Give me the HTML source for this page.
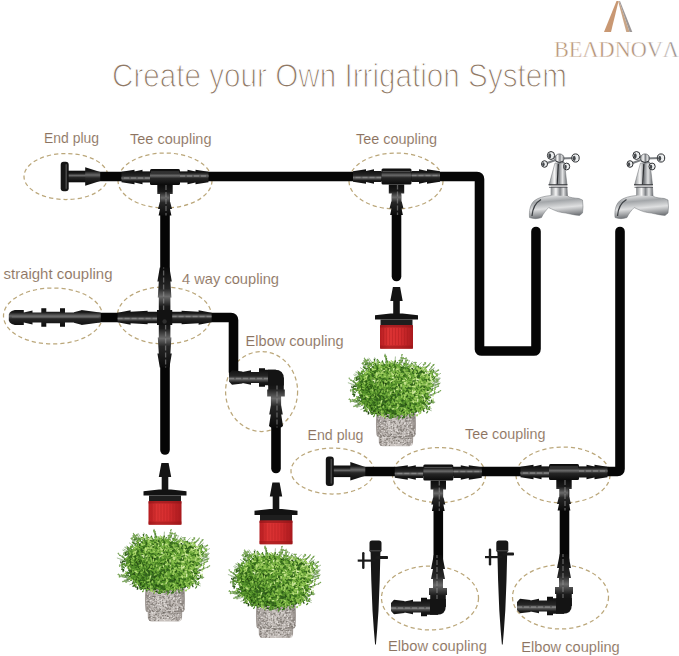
<!DOCTYPE html>
<html><head><meta charset="utf-8"><style>
html,body{margin:0;padding:0;background:#fff;}
svg{display:block;font-family:"Liberation Sans",sans-serif;}
</style></head><body>
<svg width="679" height="656" viewBox="0 0 679 656">

<defs>
 <linearGradient id="gTitle" x1="0" x2="1"><stop offset="0" stop-color="#9b8573"/><stop offset="1" stop-color="#9b8573"/></linearGradient>
 <linearGradient id="gLogo" x1="0" x2="1"><stop offset="0" stop-color="#b99574"/><stop offset="0.6" stop-color="#b18f76"/><stop offset="1" stop-color="#9a9494"/></linearGradient>
 <linearGradient id="gRed" x1="0" x2="1"><stop offset="0" stop-color="#b51c20"/><stop offset="0.25" stop-color="#dc3434"/><stop offset="0.6" stop-color="#d52d2f"/><stop offset="1" stop-color="#a8191d"/></linearGradient>
 <linearGradient id="gPot" x1="0" x2="1"><stop offset="0" stop-color="#9f9894"/><stop offset="0.3" stop-color="#c9c3bf"/><stop offset="0.7" stop-color="#c1bbb7"/><stop offset="1" stop-color="#99928e"/></linearGradient>
 <linearGradient id="gSilver" x1="0" y1="0" x2="0.15" y2="1"><stop offset="0" stop-color="#e9eaeb"/><stop offset="0.25" stop-color="#fafafa"/><stop offset="0.5" stop-color="#a3a6a9"/><stop offset="0.72" stop-color="#dfe0e1"/><stop offset="1" stop-color="#6f7276"/></linearGradient>
 <linearGradient id="gSilverV" x1="0" x2="1"><stop offset="0" stop-color="#8a8d90"/><stop offset="0.3" stop-color="#f7f7f7"/><stop offset="0.55" stop-color="#7f8286"/><stop offset="0.75" stop-color="#e2e3e4"/><stop offset="1" stop-color="#6a6d71"/></linearGradient>
 <linearGradient id="gCoupH" x1="0" y1="0" x2="0" y2="1"><stop offset="0" stop-color="#0c0c0c"/><stop offset="0.22" stop-color="#1a1a1a"/><stop offset="0.42" stop-color="#6a6a6a"/><stop offset="0.58" stop-color="#262626"/><stop offset="1" stop-color="#0a0a0a"/></linearGradient>
 <linearGradient id="gCoupV" x1="0" y1="0" x2="1" y2="0"><stop offset="0" stop-color="#0c0c0c"/><stop offset="0.22" stop-color="#1a1a1a"/><stop offset="0.42" stop-color="#6a6a6a"/><stop offset="0.58" stop-color="#262626"/><stop offset="1" stop-color="#0a0a0a"/></linearGradient>
</defs>
<rect width="679" height="656" fill="#ffffff"/>
<polygon points="604,32 616.5,1 618.6,1 611,32" fill="#c99873"/>
<polygon points="618.2,1.5 619.2,1 629.6,32 626.3,32" fill="#c9a586"/>
<polygon points="619.2,1 620,1 632.3,32 629.6,32" fill="#9c9797"/>
<text x="554" y="57" font-family="Liberation Serif" font-size="23.5" fill="url(#gLogo)" stroke="#fff" stroke-width="0.45" textLength="125" lengthAdjust="spacingAndGlyphs">BE&#923;DNOV&#923;</text>
<text x="112" y="86.6" font-family="Liberation Sans" font-size="33" fill="#8f7966" stroke="#fff" stroke-width="1.15" textLength="455" lengthAdjust="spacingAndGlyphs">Create your Own Irrigation System</text>
<text x="44" y="142.5" font-family="Liberation Sans" font-size="14.2" fill="#8c7360" stroke="#fff" stroke-width="0.1" textLength="55" lengthAdjust="spacingAndGlyphs">End plug</text>
<text x="130" y="143.5" font-family="Liberation Sans" font-size="14.2" fill="#8c7360" stroke="#fff" stroke-width="0.1" textLength="81.5" lengthAdjust="spacingAndGlyphs">Tee coupling</text>
<text x="356" y="143.5" font-family="Liberation Sans" font-size="14.2" fill="#8c7360" stroke="#fff" stroke-width="0.1" textLength="81" lengthAdjust="spacingAndGlyphs">Tee coupling</text>
<text x="3.5" y="278.5" font-family="Liberation Sans" font-size="14.2" fill="#8c7360" stroke="#fff" stroke-width="0.1" textLength="109" lengthAdjust="spacingAndGlyphs">straight coupling</text>
<text x="182" y="283.8" font-family="Liberation Sans" font-size="14.2" fill="#8c7360" stroke="#fff" stroke-width="0.1" textLength="97" lengthAdjust="spacingAndGlyphs">4 way coupling</text>
<text x="245.6" y="346.3" font-family="Liberation Sans" font-size="14.2" fill="#8c7360" stroke="#fff" stroke-width="0.1" textLength="98" lengthAdjust="spacingAndGlyphs">Elbow coupling</text>
<text x="307.5" y="440" font-family="Liberation Sans" font-size="14.2" fill="#8c7360" stroke="#fff" stroke-width="0.1" textLength="56" lengthAdjust="spacingAndGlyphs">End plug</text>
<text x="465" y="438.6" font-family="Liberation Sans" font-size="14.2" fill="#8c7360" stroke="#fff" stroke-width="0.1" textLength="80.5" lengthAdjust="spacingAndGlyphs">Tee coupling</text>
<text x="388" y="650.8" font-family="Liberation Sans" font-size="14.2" fill="#8c7360" stroke="#fff" stroke-width="0.1" textLength="98.8" lengthAdjust="spacingAndGlyphs">Elbow coupling</text>
<text x="521.3" y="651.5" font-family="Liberation Sans" font-size="14.2" fill="#8c7360" stroke="#fff" stroke-width="0.1" textLength="98.4" lengthAdjust="spacingAndGlyphs">Elbow coupling</text>
<ellipse cx="66" cy="176.5" rx="42" ry="23" fill="none" stroke="#bba77a" stroke-width="1.25" stroke-dasharray="4.2 3"/>
<ellipse cx="165" cy="180.5" rx="47" ry="27.5" fill="none" stroke="#bba77a" stroke-width="1.25" stroke-dasharray="4.2 3"/>
<ellipse cx="396" cy="181" rx="47" ry="28" fill="none" stroke="#bba77a" stroke-width="1.25" stroke-dasharray="4.2 3"/>
<ellipse cx="53" cy="316" rx="49.5" ry="28" fill="none" stroke="#bba77a" stroke-width="1.25" stroke-dasharray="4.2 3"/>
<ellipse cx="164.4" cy="315.5" rx="47" ry="28.5" fill="none" stroke="#bba77a" stroke-width="1.25" stroke-dasharray="4.2 3"/>
<ellipse cx="261.6" cy="391.5" rx="36" ry="40" fill="none" stroke="#bba77a" stroke-width="1.25" stroke-dasharray="4.2 3"/>
<ellipse cx="332.5" cy="471" rx="41.5" ry="23" fill="none" stroke="#bba77a" stroke-width="1.25" stroke-dasharray="4.2 3"/>
<ellipse cx="439" cy="475" rx="46.5" ry="27.5" fill="none" stroke="#bba77a" stroke-width="1.25" stroke-dasharray="4.2 3"/>
<ellipse cx="563" cy="475" rx="47" ry="28" fill="none" stroke="#bba77a" stroke-width="1.25" stroke-dasharray="4.2 3"/>
<ellipse cx="430" cy="598" rx="48.5" ry="32" fill="none" stroke="#bba77a" stroke-width="1.25" stroke-dasharray="4.2 3"/>
<ellipse cx="560.5" cy="597" rx="48" ry="32" fill="none" stroke="#bba77a" stroke-width="1.25" stroke-dasharray="4.2 3"/>
<path d="M95,176.5 L477,176.5 Q479.5,176.5 479.5,179 L479.5,349.5 Q479.5,351 481.5,351 L534,351 Q536,351 536,349 L536,231.5" fill="none" stroke="#060606" stroke-width="9.6" stroke-linecap="round" stroke-linejoin="miter"/>
<path d="M165,195 L165,450" fill="none" stroke="#060606" stroke-width="9.6" stroke-linecap="round" stroke-linejoin="miter"/>
<path d="M98,317.5 L231,317.5 Q233.5,317.5 233.5,320 L233.5,372" fill="none" stroke="#060606" stroke-width="9.6" stroke-linecap="round" stroke-linejoin="miter"/>
<path d="M276,425 L276,468.5" fill="none" stroke="#060606" stroke-width="9.6" stroke-linecap="round" stroke-linejoin="miter"/>
<path d="M396.5,195 L396.5,276.5" fill="none" stroke="#060606" stroke-width="9.6" stroke-linecap="round" stroke-linejoin="miter"/>
<path d="M360,471.5 L617.5,471.5 Q620,471.5 620,469 L620,231.5" fill="none" stroke="#060606" stroke-width="9.6" stroke-linecap="round" stroke-linejoin="miter"/>
<path d="M438.3,490 L438.3,560" fill="none" stroke="#060606" stroke-width="9.6" stroke-linecap="round" stroke-linejoin="miter"/>
<path d="M564.5,490 L564.5,560" fill="none" stroke="#060606" stroke-width="9.6" stroke-linecap="round" stroke-linejoin="miter"/>
<g transform="translate(61.2,176.5) scale(1.0)">
<rect x="6" y="-5.8" width="19" height="11.6" fill="url(#gCoupH)"/>
<polygon points="24,-9.2 39,-4.4 39,4.4 24,9.2" fill="url(#gCoupH)"/>
<rect x="-0.5" y="-14.8" width="8" height="29.6" rx="3" fill="#141414"/>
<rect x="4.2" y="-12.5" width="1.6" height="25" rx="0.8" fill="#5a5a5a" opacity="0.7"/>
</g>
<g transform="translate(165,177) scale(1.0)">
<g transform="translate(-15,0) rotate(180)"><polygon points="0.00,-5.60 7.50,-5.60 7.50,-7.20 15.50,-5.40 15.50,-7.20 28.50,-5.20 28.50,5.20 15.50,7.20 15.50,5.40 7.50,7.20 7.50,5.60 0.00,5.60" fill="url(#gCoupH)"/><line x1="0" y1="-1" x2="28.5" y2="-1" stroke="#9a9a9a" stroke-width="1.3" stroke-dasharray="5 2" opacity="0.55"/></g>
<g transform="translate(15,0) rotate(0)"><polygon points="0.00,-5.60 7.50,-5.60 7.50,-7.20 15.50,-5.40 15.50,-7.20 28.50,-5.20 28.50,5.20 15.50,7.20 15.50,5.40 7.50,7.20 7.50,5.60 0.00,5.60" fill="url(#gCoupH)"/><line x1="0" y1="-1" x2="28.5" y2="-1" stroke="#9a9a9a" stroke-width="1.3" stroke-dasharray="5 2" opacity="0.55"/></g>
<g transform="translate(0,8) rotate(90)"><polygon points="0.00,-7.70 9.00,-7.70 9.00,-4.60 17.00,-4.60 17.00,-5.20 24.00,-7.00 24.00,-5.00 30.50,-6.40 30.50,-4.50 30.50,4.50 30.50,6.40 24.00,5.00 24.00,7.00 17.00,5.20 17.00,4.60 9.00,4.60 9.00,7.70 0.00,7.70" fill="url(#gCoupV)"/><line x1="0" y1="-1" x2="30.5" y2="-1" stroke="#9a9a9a" stroke-width="1.3" stroke-dasharray="5 2" opacity="0.55"/></g>
<rect x="-15" y="-8" width="30" height="16" rx="1.5" fill="url(#gCoupH)"/>
<line x1="-14" y1="-5" x2="14" y2="-5" stroke="#777" stroke-width="0.9" opacity="0.6"/>
</g>
<g transform="translate(396.5,176.5) scale(1.0)">
<g transform="translate(-15,0) rotate(180)"><polygon points="0.00,-5.60 7.50,-5.60 7.50,-7.20 15.50,-5.40 15.50,-7.20 28.50,-5.20 28.50,5.20 15.50,7.20 15.50,5.40 7.50,7.20 7.50,5.60 0.00,5.60" fill="url(#gCoupH)"/><line x1="0" y1="-1" x2="28.5" y2="-1" stroke="#9a9a9a" stroke-width="1.3" stroke-dasharray="5 2" opacity="0.55"/></g>
<g transform="translate(15,0) rotate(0)"><polygon points="0.00,-5.60 7.50,-5.60 7.50,-7.20 15.50,-5.40 15.50,-7.20 28.50,-5.20 28.50,5.20 15.50,7.20 15.50,5.40 7.50,7.20 7.50,5.60 0.00,5.60" fill="url(#gCoupH)"/><line x1="0" y1="-1" x2="28.5" y2="-1" stroke="#9a9a9a" stroke-width="1.3" stroke-dasharray="5 2" opacity="0.55"/></g>
<g transform="translate(0,8) rotate(90)"><polygon points="0.00,-7.70 9.00,-7.70 9.00,-4.60 17.00,-4.60 17.00,-5.20 24.00,-7.00 24.00,-5.00 30.50,-6.40 30.50,-4.50 30.50,4.50 30.50,6.40 24.00,5.00 24.00,7.00 17.00,5.20 17.00,4.60 9.00,4.60 9.00,7.70 0.00,7.70" fill="url(#gCoupV)"/><line x1="0" y1="-1" x2="30.5" y2="-1" stroke="#9a9a9a" stroke-width="1.3" stroke-dasharray="5 2" opacity="0.55"/></g>
<rect x="-15" y="-8" width="30" height="16" rx="1.5" fill="url(#gCoupH)"/>
<line x1="-14" y1="-5" x2="14" y2="-5" stroke="#777" stroke-width="0.9" opacity="0.6"/>
</g>
<g transform="translate(8.8,317.5)"><polygon points="0.00,-3.00 1.00,-5.00 3.00,-6.50 6.00,-7.50 15.00,-7.50 15.00,-5.00 23.70,-7.00 23.70,-5.00 32.50,-5.00 32.50,-9.20 37.50,-9.20 37.50,-5.80 51.20,-5.80 51.20,-9.20 56.20,-9.20 56.20,-5.00 65.10,-5.00 65.10,-5.20 72.60,-7.20 72.60,-7.60 91.20,-5.00 92.00,-4.80 92.00,4.80 91.20,5.00 72.60,7.60 72.60,7.20 65.10,5.20 65.10,5.00 56.20,5.00 56.20,9.20 51.20,9.20 51.20,5.80 37.50,5.80 37.50,9.20 32.50,9.20 32.50,5.00 23.70,5.00 23.70,7.00 15.00,5.00 15.00,7.50 6.00,7.50 3.00,6.50 1.00,5.00 0.00,3.00" fill="url(#gCoupH)"/><line x1="3" y1="-0.5" x2="90" y2="-0.5" stroke="#888" stroke-width="1.2" opacity="0.5"/></g>
<g transform="translate(164.6,317.5)">
<g transform="translate(0,0) rotate(0)"><polygon points="0.00,-7.50 7.50,-7.50 7.50,-5.80 17.00,-5.80 17.00,-6.80 34.00,-5.80 34.00,-7.20 47.00,-4.80 47.00,4.80 34.00,7.20 34.00,5.80 17.00,6.80 17.00,5.80 7.50,5.80 7.50,7.50 0.00,7.50" fill="url(#gCoupH)"/><line x1="0" y1="-1" x2="47" y2="-1" stroke="#9a9a9a" stroke-width="1.3" stroke-dasharray="5 2" opacity="0.55"/></g>
<g transform="translate(0,0) rotate(180)"><polygon points="0.00,-7.50 7.50,-7.50 7.50,-5.80 17.00,-5.80 17.00,-6.80 34.00,-5.80 34.00,-7.20 47.00,-4.80 47.00,4.80 34.00,7.20 34.00,5.80 17.00,6.80 17.00,5.80 7.50,5.80 7.50,7.50 0.00,7.50" fill="url(#gCoupH)"/><line x1="0" y1="-1" x2="47" y2="-1" stroke="#9a9a9a" stroke-width="1.3" stroke-dasharray="5 2" opacity="0.55"/></g>
<g transform="translate(0,0) rotate(90)"><polygon points="0.00,-7.50 7.50,-7.50 7.50,-5.80 20.00,-5.80 20.00,-6.80 36.00,-5.80 36.00,-7.20 50.00,-4.80 50.00,4.80 36.00,7.20 36.00,5.80 20.00,6.80 20.00,5.80 7.50,5.80 7.50,7.50 0.00,7.50" fill="url(#gCoupV)"/><line x1="0" y1="-1" x2="50" y2="-1" stroke="#9a9a9a" stroke-width="1.3" stroke-dasharray="5 2" opacity="0.55"/></g>
<g transform="translate(0,0) rotate(270)"><polygon points="0.00,-7.50 7.50,-7.50 7.50,-5.80 20.00,-5.80 20.00,-6.80 36.00,-5.80 36.00,-7.20 50.00,-4.80 50.00,4.80 36.00,7.20 36.00,5.80 20.00,6.80 20.00,5.80 7.50,5.80 7.50,7.50 0.00,7.50" fill="url(#gCoupV)"/><line x1="0" y1="-1" x2="50" y2="-1" stroke="#9a9a9a" stroke-width="1.3" stroke-dasharray="5 2" opacity="0.55"/></g>
<rect x="-7.5" y="-7.5" width="15" height="15" rx="1" fill="#121212"/>
<circle cx="0" cy="4" r="2.2" fill="#2e2e2e"/>
</g>
<g transform="translate(276,377.5)">
<g transform="translate(0,0) rotate(180)"><polygon points="0.00,-7.80 11.00,-7.80 11.00,-9.20 17.00,-9.20 17.00,-5.60 25.00,-5.60 25.00,-7.20 33.50,-5.60 33.50,-6.00 44.00,-7.20 47.00,-4.00 47.00,4.00 44.00,7.20 33.50,6.00 33.50,5.60 25.00,7.20 25.00,5.60 17.00,5.60 17.00,9.20 11.00,9.20 11.00,7.80 0.00,7.80" fill="url(#gCoupH)"/><line x1="0" y1="-1" x2="47" y2="-1" stroke="#9a9a9a" stroke-width="1.3" stroke-dasharray="5 2" opacity="0.55"/></g>
<g transform="translate(0,0) rotate(90)"><polygon points="0.00,-7.80 12.00,-7.80 12.00,-8.80 19.00,-8.80 19.00,-5.10 27.50,-5.10 37.00,-6.80 37.00,-5.20 48.50,-7.00 50.00,-5.00 50.00,5.00 48.50,7.00 37.00,5.20 37.00,6.80 27.50,5.10 19.00,5.10 19.00,8.80 12.00,8.80 12.00,7.80 0.00,7.80" fill="url(#gCoupV)"/><line x1="0" y1="-1" x2="50" y2="-1" stroke="#9a9a9a" stroke-width="1.3" stroke-dasharray="5 2" opacity="0.55"/></g>
<path d="M-8,-7.8 L-1,-7.8 Q7.8,-7.8 7.8,1 L7.8,8 L-8,8 Z" fill="#141414"/>
</g>
<g transform="translate(438,607)">
<g transform="translate(0,0) rotate(180)"><polygon points="0.00,-7.80 11.00,-7.80 11.00,-9.20 17.00,-9.20 17.00,-5.60 25.00,-5.60 25.00,-7.20 33.50,-5.60 33.50,-6.00 44.00,-7.20 47.00,-4.00 47.00,4.00 44.00,7.20 33.50,6.00 33.50,5.60 25.00,7.20 25.00,5.60 17.00,5.60 17.00,9.20 11.00,9.20 11.00,7.80 0.00,7.80" fill="url(#gCoupH)"/><line x1="0" y1="-1" x2="47" y2="-1" stroke="#9a9a9a" stroke-width="1.3" stroke-dasharray="5 2" opacity="0.55"/></g>
<g transform="translate(0,0) rotate(-90)"><polygon points="0.00,-7.80 12.00,-7.80 12.00,-9.00 19.00,-9.00 19.00,-5.00 28.00,-5.00 28.00,-7.00 38.00,-5.00 38.00,-7.00 52.00,-4.20 52.00,4.20 38.00,7.00 38.00,5.00 28.00,7.00 28.00,5.00 19.00,5.00 19.00,9.00 12.00,9.00 12.00,7.80 0.00,7.80" fill="url(#gCoupV)"/><line x1="0" y1="-1" x2="52" y2="-1" stroke="#9a9a9a" stroke-width="1.3" stroke-dasharray="5 2" opacity="0.55"/></g>
<path d="M-8,7.8 L-1,7.8 Q7.8,7.8 7.8,-1 L7.8,-8 L-8,-8 Z" fill="#141414"/>
</g>
<g transform="translate(564,606)">
<g transform="translate(0,0) rotate(180)"><polygon points="0.00,-7.80 11.00,-7.80 11.00,-9.20 17.00,-9.20 17.00,-5.60 25.00,-5.60 25.00,-7.20 33.50,-5.60 33.50,-6.00 44.00,-7.20 47.00,-4.00 47.00,4.00 44.00,7.20 33.50,6.00 33.50,5.60 25.00,7.20 25.00,5.60 17.00,5.60 17.00,9.20 11.00,9.20 11.00,7.80 0.00,7.80" fill="url(#gCoupH)"/><line x1="0" y1="-1" x2="47" y2="-1" stroke="#9a9a9a" stroke-width="1.3" stroke-dasharray="5 2" opacity="0.55"/></g>
<g transform="translate(0,0) rotate(-90)"><polygon points="0.00,-7.80 12.00,-7.80 12.00,-9.00 19.00,-9.00 19.00,-5.00 28.00,-5.00 28.00,-7.00 38.00,-5.00 38.00,-7.00 52.00,-4.20 52.00,4.20 38.00,7.00 38.00,5.00 28.00,7.00 28.00,5.00 19.00,5.00 19.00,9.00 12.00,9.00 12.00,7.80 0.00,7.80" fill="url(#gCoupV)"/><line x1="0" y1="-1" x2="52" y2="-1" stroke="#9a9a9a" stroke-width="1.3" stroke-dasharray="5 2" opacity="0.55"/></g>
<path d="M-8,7.8 L-1,7.8 Q7.8,7.8 7.8,-1 L7.8,-8 L-8,-8 Z" fill="#141414"/>
</g>
<g transform="translate(0,0)">
<line x1="559.5" y1="158.5" x2="551" y2="155.5" stroke="#7d8084" stroke-width="2.2"/>
<line x1="559.5" y1="158.5" x2="575.5" y2="158" stroke="#7d8084" stroke-width="2.2"/>
<line x1="559.5" y1="158.5" x2="544.5" y2="164" stroke="#7d8084" stroke-width="2.2"/>
<line x1="559.5" y1="158.5" x2="566.6" y2="166.5" stroke="#7d8084" stroke-width="2.2"/>
<path d="M555,163 L564.5,163 L567,185 L549,185 Z" fill="url(#gSilverV)" stroke="#6b6e72" stroke-width="0.5"/>
<path d="M551,187 L567,187 L567.5,196 C570,198 575,198 579,198.5 L582.5,200 L583,207 L582.5,213 L579.5,215.5 C573,215 567,213 562,212.5 C557,212 552,209 548.7,207.6 C546,210 543,214 541.5,217.5 C538,219 533,219 529.5,217.5 C529,211 530,205 534,201 C538,197.5 545,196 551,195.5 Z" fill="url(#gSilver)" stroke="#6b6e72" stroke-width="0.5"/>
<path d="M551,187 L567,187 L567.5,196 L551,195.5 Z" fill="url(#gSilverV)"/>
<path d="M532,216 C532.5,209 535,203 541,199.5" fill="none" stroke="#3d4044" stroke-width="1.3"/>
<path d="M548.5,184.8 L567.5,184.8" stroke="#2f3134" stroke-width="1"/>
<path d="M549,187.3 L567.5,187.3" stroke="#45484c" stroke-width="0.8"/>
<line x1="558.3" y1="164" x2="557.2" y2="184.5" stroke="#2c2e31" stroke-width="1.2"/>
<ellipse cx="559.5" cy="158.3" rx="4.6" ry="4.4" fill="url(#gSilverV)" stroke="#55585c" stroke-width="0.7"/>
<path d="M555.5,161 Q559.5,164 563.5,161" stroke="#3a3c40" stroke-width="1" fill="none"/>
<ellipse cx="551" cy="155.5" rx="3.6" ry="3.9600000000000004" fill="#eceeef" stroke="#2e3033" stroke-width="1"/>
<ellipse cx="549.74" cy="155.86" rx="1.4400000000000002" ry="2.52" fill="#45484c"/>
<ellipse cx="575.5" cy="158" rx="3.7" ry="4.07" fill="#eceeef" stroke="#2e3033" stroke-width="1"/>
<ellipse cx="574.205" cy="158.37" rx="1.4800000000000002" ry="2.59" fill="#45484c"/>
<ellipse cx="544.5" cy="164" rx="3" ry="3.3000000000000003" fill="#eceeef" stroke="#2e3033" stroke-width="1"/>
<ellipse cx="543.45" cy="164.3" rx="1.2000000000000002" ry="2.0999999999999996" fill="#45484c"/>
<ellipse cx="566.6" cy="166.5" rx="3.1" ry="3.4100000000000006" fill="#eceeef" stroke="#2e3033" stroke-width="1"/>
<ellipse cx="565.515" cy="166.81" rx="1.2400000000000002" ry="2.17" fill="#45484c"/>
</g>
<g transform="translate(85.5,0)">
<line x1="559.5" y1="158.5" x2="551" y2="155.5" stroke="#7d8084" stroke-width="2.2"/>
<line x1="559.5" y1="158.5" x2="575.5" y2="158" stroke="#7d8084" stroke-width="2.2"/>
<line x1="559.5" y1="158.5" x2="544.5" y2="164" stroke="#7d8084" stroke-width="2.2"/>
<line x1="559.5" y1="158.5" x2="566.6" y2="166.5" stroke="#7d8084" stroke-width="2.2"/>
<path d="M555,163 L564.5,163 L567,185 L549,185 Z" fill="url(#gSilverV)" stroke="#6b6e72" stroke-width="0.5"/>
<path d="M551,187 L567,187 L567.5,196 C570,198 575,198 579,198.5 L582.5,200 L583,207 L582.5,213 L579.5,215.5 C573,215 567,213 562,212.5 C557,212 552,209 548.7,207.6 C546,210 543,214 541.5,217.5 C538,219 533,219 529.5,217.5 C529,211 530,205 534,201 C538,197.5 545,196 551,195.5 Z" fill="url(#gSilver)" stroke="#6b6e72" stroke-width="0.5"/>
<path d="M551,187 L567,187 L567.5,196 L551,195.5 Z" fill="url(#gSilverV)"/>
<path d="M532,216 C532.5,209 535,203 541,199.5" fill="none" stroke="#3d4044" stroke-width="1.3"/>
<path d="M548.5,184.8 L567.5,184.8" stroke="#2f3134" stroke-width="1"/>
<path d="M549,187.3 L567.5,187.3" stroke="#45484c" stroke-width="0.8"/>
<line x1="558.3" y1="164" x2="557.2" y2="184.5" stroke="#2c2e31" stroke-width="1.2"/>
<ellipse cx="559.5" cy="158.3" rx="4.6" ry="4.4" fill="url(#gSilverV)" stroke="#55585c" stroke-width="0.7"/>
<path d="M555.5,161 Q559.5,164 563.5,161" stroke="#3a3c40" stroke-width="1" fill="none"/>
<ellipse cx="551" cy="155.5" rx="3.6" ry="3.9600000000000004" fill="#eceeef" stroke="#2e3033" stroke-width="1"/>
<ellipse cx="549.74" cy="155.86" rx="1.4400000000000002" ry="2.52" fill="#45484c"/>
<ellipse cx="575.5" cy="158" rx="3.7" ry="4.07" fill="#eceeef" stroke="#2e3033" stroke-width="1"/>
<ellipse cx="574.205" cy="158.37" rx="1.4800000000000002" ry="2.59" fill="#45484c"/>
<ellipse cx="544.5" cy="164" rx="3" ry="3.3000000000000003" fill="#eceeef" stroke="#2e3033" stroke-width="1"/>
<ellipse cx="543.45" cy="164.3" rx="1.2000000000000002" ry="2.0999999999999996" fill="#45484c"/>
<ellipse cx="566.6" cy="166.5" rx="3.1" ry="3.4100000000000006" fill="#eceeef" stroke="#2e3033" stroke-width="1"/>
<ellipse cx="565.515" cy="166.81" rx="1.2400000000000002" ry="2.17" fill="#45484c"/>
</g>
<g transform="translate(120.7,532.4)">
<path d="M24.8,55 C24.1,63 24.1,71 24.8,77.8 Q25.3,79.3 27,79.6 L27.2,85.8 Q27.8,88.9 31.2,89 L57.3,89 Q60.7,88.9 61.3,85.8 L61.5,79.6 Q63.2,79.3 63.7,77.8 C64.4,71 64.4,63 63.7,55 Z" fill="url(#gPot)"/>
<path d="M25.5,78.6 Q44,80.6 63,78.6" stroke="#8a837e" stroke-width="1" fill="none"/>
<path d="M42.5,74.0h.45M60.2,71.0h.45M44.5,74.9h.45M32.4,72.5h.45M49.1,81.5h.45M29.0,65.8h.45M28.9,82.1h.45M51.5,57.3h.45M50.0,75.8h.45M31.4,56.5h.45M45.3,57.9h.45M32.6,63.8h.45M26.6,70.9h.45M42.0,83.1h.45M45.0,76.6h.45M44.2,77.3h.45M42.6,65.0h.45M57.0,78.8h.45M37.3,63.4h.45M36.3,58.3h.45M54.2,68.9h.45M57.2,68.4h.45M25.5,62.8h.45M59.6,71.1h.45M62.3,68.8h.45M28.2,76.3h.45M54.7,64.7h.45M28.8,66.7h.45M29.9,63.9h.45M29.3,57.9h.45M55.4,61.7h.45M46.5,70.4h.45M32.7,79.6h.45M30.4,76.7h.45M29.9,69.5h.45M33.5,64.7h.45M36.9,84.5h.45M33.4,68.7h.45M57.5,76.7h.45M29.3,87.9h.45M33.5,64.3h.45M54.5,66.6h.45M36.6,58.4h.45M28.9,74.8h.45M34.6,75.4h.45M39.4,70.6h.45M61.5,71.6h.45M47.0,83.9h.45M32.4,61.0h.45M59.6,82.3h.45M34.9,62.1h.45M53.2,86.3h.45M32.9,86.6h.45M58.6,75.4h.45M41.3,59.3h.45M34.4,78.7h.45M35.1,82.5h.45M47.9,65.4h.45M32.1,79.2h.45M28.1,63.4h.45M46.5,83.4h.45M48.5,65.0h.45M59.9,62.6h.45M26.1,64.7h.45M42.2,57.9h.45M32.1,67.9h.45M47.0,60.2h.45M39.1,84.7h.45M62.3,77.2h.45M51.4,74.8h.45M30.8,57.1h.45M51.8,87.0h.45M26.3,76.5h.45M43.6,79.5h.45M37.5,88.2h.45M28.3,73.6h.45M53.1,85.0h.45M53.1,78.7h.45M55.2,85.5h.45M38.7,78.1h.45M59.3,84.0h.45M41.1,81.5h.45M57.9,74.4h.45M48.9,68.3h.45M47.4,75.6h.45M28.5,76.6h.45M52.8,68.5h.45M53.1,74.7h.45M42.0,83.0h.45M28.6,80.2h.45M26.6,75.4h.45M43.5,63.4h.45M51.7,72.0h.45M48.5,85.6h.45M35.1,56.4h.45M36.8,77.8h.45M33.1,61.5h.45M59.5,77.3h.45M42.1,84.7h.45M37.8,77.4h.45M32.9,69.9h.45M55.7,85.4h.45M58.5,68.4h.45M47.4,66.2h.45M30.6,72.0h.45M56.9,83.3h.45M52.2,86.6h.45M35.9,61.4h.45M42.4,64.9h.45M33.5,69.3h.45M49.0,71.9h.45M37.3,83.0h.45M62.3,70.6h.45M28.3,57.0h.45M58.2,57.3h.45M52.1,74.4h.45M37.1,81.5h.45M26.2,60.4h.45M42.6,56.8h.45M56.6,63.6h.45M30.8,57.5h.45M49.1,70.4h.45M49.1,77.1h.45M55.8,86.9h.45M51.2,62.4h.45M43.3,61.8h.45M25.9,71.2h.45M52.3,61.8h.45M35.7,67.1h.45M51.6,72.8h.45M48.5,80.3h.45M40.3,81.5h.45M59.5,58.8h.45M60.5,79.3h.45M30.4,70.6h.45M49.0,85.3h.45M39.6,74.3h.45M58.5,81.7h.45M60.9,70.9h.45M49.9,62.6h.45M52.6,82.4h.45M49.6,79.1h.45M33.5,85.0h.45M45.6,81.5h.45M37.5,85.3h.45M57.6,67.2h.45M28.6,70.2h.45M46.1,80.7h.45M43.8,56.9h.45M55.8,58.1h.45M55.5,61.6h.45M38.1,81.4h.45M30.8,60.8h.45M44.9,79.3h.45M57.0,78.2h.45M61.0,71.9h.45M61.1,58.8h.45M33.8,73.0h.45M36.4,79.5h.45M49.5,72.8h.45M57.1,74.0h.45M37.2,68.3h.45M57.2,85.0h.45M33.3,83.4h.45M61.8,72.9h.45M47.0,62.5h.45M45.6,72.2h.45M48.2,56.9h.45M61.9,72.6h.45M40.5,81.8h.45M46.6,71.8h.45M51.4,58.1h.45M45.7,69.3h.45M35.6,71.2h.45M30.3,70.0h.45M56.1,85.0h.45M43.4,66.2h.45M32.7,75.9h.45M60.2,60.2h.45M54.7,56.7h.45M32.8,63.3h.45M51.3,66.4h.45M38.8,76.0h.45M29.4,79.5h.45M30.1,72.4h.45M34.9,62.4h.45M45.4,70.1h.45M39.6,69.3h.45M45.4,61.1h.45M33.2,76.3h.45M49.4,73.1h.45M57.4,75.7h.45M57.6,63.5h.45M53.3,82.1h.45M59.4,66.2h.45M37.3,85.7h.45M33.7,88.1h.45M58.8,60.3h.45M34.5,79.4h.45M35.2,59.1h.45M56.7,69.6h.45M55.1,60.1h.45M40.6,78.1h.45M26.2,62.5h.45M51.1,85.3h.45M61.8,59.7h.45M44.5,80.4h.45M44.4,78.1h.45M32.6,58.3h.45M29.5,57.2h.45M46.2,72.6h.45M46.8,60.7h.45M32.4,62.6h.45M57.0,87.9h.45M60.3,59.1h.45M42.8,80.6h.45M37.8,71.0h.45M44.8,69.8h.45M48.0,56.4h.45M51.8,83.2h.45M32.3,70.6h.45M53.2,69.1h.45M32.8,61.3h.45M44.7,56.5h.45M59.0,81.8h.45M51.9,83.7h.45M49.1,69.0h.45M48.0,72.2h.45M35.2,85.3h.45M53.4,81.1h.45M56.0,69.1h.45M59.1,84.3h.45M51.6,80.7h.45M54.2,69.1h.45M52.6,58.3h.45M38.3,71.1h.45M25.9,67.5h.45M49.5,76.1h.45M34.2,86.4h.45M50.5,66.9h.45M50.2,74.3h.45M45.5,68.5h.45M63.0,76.7h.45M51.8,80.5h.45M62.3,56.7h.45M48.6,79.8h.45M35.1,68.9h.45M27.4,62.3h.45M39.6,59.2h.45M34.9,85.2h.45M46.1,72.4h.45M61.8,74.3h.45M62.8,76.5h.45M55.9,58.5h.45M47.9,80.4h.45M31.5,71.2h.45M31.8,72.0h.45M48.4,57.9h.45M60.9,69.5h.45M45.3,75.3h.45M39.2,65.2h.45M50.1,74.1h.45M36.1,79.1h.45M36.6,56.5h.45M34.7,57.4h.45M31.4,80.3h.45M40.1,84.9h.45M53.6,57.6h.45M28.3,85.2h.45M41.6,71.4h.45M62.0,63.8h.45M45.1,86.2h.45M52.6,71.1h.45M48.1,59.7h.45M48.9,70.7h.45M33.1,57.7h.45M45.3,60.0h.45M42.1,77.5h.45M42.6,64.4h.45M47.3,69.5h.45M54.7,73.1h.45M53.0,63.7h.45M29.8,84.7h.45M54.9,76.1h.45M39.0,64.7h.45M51.2,74.2h.45M47.7,76.4h.45M53.8,62.1h.45M34.8,87.5h.45M59.8,84.3h.45M27.0,58.0h.45M35.7,69.7h.45M48.9,59.3h.45M45.8,58.3h.45M28.7,77.8h.45M46.1,76.3h.45M39.5,71.4h.45M33.4,67.1h.45M53.4,83.0h.45M28.3,59.9h.45M55.8,76.1h.45M54.3,62.9h.45M41.4,64.3h.45M55.9,67.9h.45M50.0,87.9h.45M37.7,73.7h.45M53.5,85.7h.45M41.5,67.9h.45M29.1,84.2h.45M28.4,58.7h.45M46.7,71.6h.45M51.2,65.6h.45M54.6,58.4h.45M33.5,77.3h.45" stroke="#857e79" stroke-width="0.95" stroke-linecap="round" fill="none"/>
<path d="M28.6,65.8h.45M52.7,78.3h.45M36.1,60.6h.45M38.9,79.4h.45M39.2,59.8h.45M52.1,74.3h.45M59.9,86.3h.45M59.8,70.1h.45M55.6,65.8h.45M37.4,68.9h.45M34.8,67.6h.45M39.2,67.7h.45M40.3,68.5h.45M32.8,74.2h.45M55.4,73.4h.45M56.9,74.1h.45M32.1,80.4h.45M58.5,65.1h.45M26.3,72.6h.45M45.9,74.3h.45M61.7,77.0h.45M55.7,58.1h.45M46.0,81.4h.45M28.7,58.6h.45M53.1,85.0h.45M28.7,76.4h.45M30.9,80.0h.45M49.8,63.9h.45M33.8,80.6h.45M45.1,80.6h.45M40.3,66.9h.45M61.8,77.7h.45M44.0,73.3h.45M52.5,78.8h.45M59.8,69.2h.45M56.5,77.5h.45M57.5,82.0h.45M56.8,84.6h.45M61.4,76.6h.45M45.1,78.9h.45M55.6,69.6h.45M41.3,60.7h.45M53.3,87.9h.45M39.6,61.4h.45M33.2,69.7h.45M36.5,87.2h.45M27.7,65.9h.45M29.8,76.9h.45M54.6,61.8h.45M27.8,70.8h.45M47.4,85.3h.45M26.9,59.5h.45M32.4,63.0h.45M34.3,79.1h.45M47.8,63.2h.45M32.4,65.1h.45M32.0,80.4h.45M37.2,73.7h.45M56.1,71.4h.45M35.3,84.6h.45M59.8,67.0h.45M46.0,86.8h.45M43.6,63.1h.45M55.6,68.4h.45M45.3,72.6h.45M35.8,87.9h.45M50.2,63.7h.45M25.9,71.2h.45M39.4,81.7h.45M52.2,75.5h.45M31.4,61.1h.45M37.6,64.4h.45M58.1,72.6h.45M49.4,88.0h.45M35.5,73.2h.45M31.1,80.8h.45M57.2,82.5h.45M28.6,64.7h.45M52.4,59.1h.45M43.5,71.1h.45M61.3,74.9h.45M57.7,65.8h.45M55.1,69.4h.45M59.9,58.9h.45M56.5,62.7h.45M45.9,72.9h.45M31.4,82.8h.45M37.2,66.0h.45M28.4,65.8h.45M43.0,79.0h.45M39.0,78.1h.45M29.5,68.7h.45M42.8,87.1h.45M56.6,77.1h.45M26.0,68.1h.45M52.1,63.6h.45M46.7,70.8h.45M55.5,62.7h.45M48.6,65.4h.45M39.6,73.4h.45M36.7,66.9h.45M40.2,77.5h.45M35.1,62.4h.45M52.9,66.6h.45M60.9,74.1h.45M52.6,66.7h.45M56.5,59.0h.45M30.8,59.0h.45M50.9,78.8h.45M32.2,69.0h.45M56.9,75.1h.45M28.9,63.3h.45M31.4,60.0h.45M40.8,58.3h.45M60.0,69.7h.45M44.7,76.8h.45M54.3,82.4h.45M40.0,66.7h.45M41.0,56.5h.45M40.5,78.5h.45M50.3,75.6h.45M26.2,66.7h.45M38.3,77.0h.45M29.5,68.2h.45M44.6,81.4h.45M56.4,75.7h.45M31.4,80.7h.45M59.4,73.7h.45M38.7,72.1h.45M30.8,79.0h.45M62.5,72.6h.45M52.3,82.9h.45M32.9,86.4h.45M49.0,62.4h.45M28.6,63.9h.45M47.1,78.4h.45M37.8,85.9h.45M39.0,70.9h.45M30.2,87.3h.45M30.6,85.1h.45M45.9,74.1h.45M46.5,64.5h.45M59.6,87.9h.45M56.2,75.4h.45M30.1,82.6h.45M36.3,84.9h.45M34.5,74.5h.45M56.7,62.0h.45M46.0,58.5h.45M26.7,61.8h.45M50.2,65.9h.45M50.7,79.8h.45M39.8,75.1h.45M55.6,56.5h.45M33.0,71.1h.45M30.9,68.4h.45M46.9,61.6h.45M45.0,64.5h.45M46.8,66.7h.45M49.6,57.2h.45M50.7,60.7h.45M61.5,75.3h.45M43.1,69.2h.45M48.9,78.2h.45M53.9,80.2h.45M43.7,88.0h.45M56.9,83.5h.45M40.8,70.0h.45M46.7,85.1h.45M45.2,72.9h.45M41.7,85.1h.45M37.5,57.8h.45M52.7,85.0h.45M53.0,75.2h.45M53.7,65.8h.45M47.8,58.2h.45M30.2,70.4h.45M44.3,68.8h.45M27.4,78.4h.45M45.2,63.7h.45M37.0,68.7h.45M34.3,58.2h.45M59.7,87.1h.45M50.5,83.9h.45M41.3,81.9h.45M33.8,80.0h.45M46.8,85.1h.45M29.2,81.5h.45M30.1,73.3h.45M61.2,56.0h.45M34.6,65.6h.45M37.7,58.0h.45M59.1,82.3h.45M40.4,67.5h.45M47.5,57.5h.45M37.0,72.0h.45M43.2,62.6h.45M36.6,85.7h.45M59.1,62.3h.45M56.9,67.4h.45M43.2,61.5h.45M58.5,88.1h.45M33.1,76.4h.45M32.7,84.3h.45M27.4,59.4h.45M52.7,66.1h.45M59.3,84.0h.45M52.2,60.3h.45M51.6,86.2h.45M42.2,58.5h.45M33.9,65.9h.45M52.1,62.3h.45" stroke="#e4e0dc" stroke-width="0.9" stroke-linecap="round" fill="none"/>
<path d="M32.3,63.6h.45M50.4,81.5h.45M39.5,77.3h.45M58.7,75.0h.45M34.1,65.7h.45M60.3,77.5h.45M35.9,76.6h.45M28.9,87.7h.45M42.0,73.0h.45M45.4,57.5h.45M48.0,65.2h.45M34.9,81.9h.45M28.8,65.2h.45M53.8,63.9h.45M36.0,73.6h.45M32.5,84.9h.45M62.5,57.1h.45M42.8,80.2h.45M39.9,85.9h.45M44.2,61.8h.45M46.4,76.8h.45M39.0,77.2h.45M54.9,72.6h.45M44.5,83.2h.45M51.2,72.8h.45M61.2,61.6h.45M54.7,61.3h.45M48.3,63.6h.45M42.0,80.9h.45M55.0,81.5h.45M34.3,71.7h.45M33.8,74.7h.45M44.2,57.1h.45M47.9,79.0h.45M47.0,84.1h.45M32.3,60.9h.45M26.2,72.0h.45M41.8,70.2h.45M35.4,81.7h.45M28.2,85.2h.45M46.8,73.5h.45M55.2,63.7h.45M31.0,66.0h.45M27.1,66.1h.45M48.8,72.9h.45M35.4,75.0h.45M28.8,82.4h.45M31.9,64.2h.45M31.5,78.2h.45M56.7,81.3h.45M27.8,69.2h.45M39.2,63.0h.45M61.9,57.4h.45M43.9,80.5h.45M62.5,60.7h.45M42.6,80.0h.45M27.0,63.7h.45M58.9,60.6h.45M40.2,65.6h.45M41.4,58.5h.45M54.1,79.6h.45M34.1,64.2h.45M46.2,63.8h.45M42.8,86.0h.45M39.1,66.9h.45M62.3,75.7h.45M27.0,69.0h.45M49.9,57.9h.45M38.4,78.4h.45" stroke="#6a645f" stroke-width="0.8" stroke-linecap="round" fill="none"/>
<polygon points="22.7,8.1 35.3,6.6 47.9,8.1 58.9,11.6 71.5,13.1 80.0,19.3 77.7,29.6 76.2,40.6 71.5,51.6 63.6,55.4 43.2,57.9 22.7,54.9 13.2,48.5 8.5,40.6 6.7,29.6 10.9,20.2 16.4,13.2" fill="#33621f"/>
<path d="M6.8,28.2l1.1,0.6M18.2,27.8l1.4,1.4M30.5,39.2l0.9,0.6M54.2,45.2l0.6,1.8M20.7,55.3l1.4,0.4M35.6,59.1l1.1,0.7M31.9,37.4l-1.6,0.8M44.3,32.1l-1.7,0.9M21.4,37.1l0.0,1.3M56.9,51.1l0.3,1.1M18.5,11.7l0.4,1.3M19.8,12.9l1.9,1.0M27.1,9.4l2.1,0.8M68.5,10.0l0.6,1.3M69.7,46.7l-0.7,1.5M13.1,37.9l-1.4,0.3M37.5,40.4l-2.1,0.4M57.4,41.4l0.2,1.1M60.5,43.5l-1.4,1.7M15.6,25.4l-0.4,1.7M43.3,14.8l2.2,0.5M29.7,16.0l1.4,0.9M42.5,45.7l0.9,0.9M13.3,25.1l-1.4,1.3M78.6,46.0l-2.0,0.1M-0.0,29.6l0.5,1.0M8.3,30.9l-1.2,0.5M61.7,43.3l1.0,0.4M39.2,25.3l-0.9,1.1M29.9,14.6l0.4,1.1M43.3,16.8l-1.9,1.1M16.5,43.4l-1.0,0.9M20.4,39.1l0.8,1.3M33.2,47.0l-1.4,1.7M37.4,52.1l-0.3,2.0M12.6,28.8l-0.4,1.8M54.1,26.7l0.3,1.2M15.2,14.2l-0.6,1.7M16.1,49.1l1.2,1.1M24.2,46.2l-2.0,0.5M23.7,27.9l-2.2,0.1M33.5,55.0l1.5,1.4M53.5,25.1l0.8,1.0M39.2,47.6l1.2,1.6M38.3,52.8l-0.9,0.9M8.2,38.2l1.9,1.0M45.4,16.0l1.3,0.1M58.6,19.3l1.5,0.3M51.9,12.5l1.5,1.6M28.6,35.4l-2.2,0.4M34.2,55.1l0.3,2.0M62.1,27.5l0.1,1.2M44.2,45.2l2.1,0.1M38.9,57.4l0.9,0.9M72.3,29.6l0.4,2.2M57.4,10.5l1.4,0.9M12.7,40.6l1.1,1.7M75.9,40.3l0.2,2.2M39.5,57.4l1.5,1.3M26.4,28.6l-0.3,1.3M39.2,36.5l1.9,0.5M22.7,52.6l0.7,1.0M51.9,41.8l-0.2,1.1M48.6,31.0l0.8,1.0M71.5,52.2l0.8,2.1M9.7,33.3l-0.9,0.5M46.9,26.9l0.3,1.5M18.3,50.5l-0.3,1.3M56.8,47.7l-0.2,2.0M68.8,35.8l-0.6,1.2M17.2,9.4l0.6,1.3M51.6,58.3l0.5,1.1M28.0,25.3l1.5,1.4M13.5,41.4l1.7,1.0M19.1,34.5l-2.1,1.0M16.9,55.8l-0.4,1.1M39.8,40.5l0.9,0.7M58.0,56.8l0.9,0.4M53.3,56.5l-0.8,1.4M50.7,17.6l1.6,0.0M50.8,53.4l-1.4,1.1M15.4,28.6l-1.2,0.4M15.2,30.8l1.6,1.4M10.8,22.7l1.5,0.3M20.3,51.5l-1.0,0.6M13.7,31.1l-1.2,0.3M24.6,38.1l-0.8,1.0M61.1,11.1l-1.5,0.5M19.5,47.5l-0.9,0.7M23.7,16.2l1.2,0.3M8.6,40.0l-0.3,1.0M35.7,52.9l0.6,1.4M36.3,44.0l-2.1,0.7M19.9,24.3l-0.7,1.5M42.9,18.0l0.4,1.4M27.1,29.9l-1.1,1.0M11.5,34.8l0.9,1.1M34.4,31.4l1.3,1.2M26.5,55.6l1.7,1.4M24.4,30.9l0.6,2.0M34.3,13.1l-1.1,0.3M24.8,14.2l0.5,1.2M28.0,54.3l-1.3,1.2M80.0,42.4l-0.1,1.8M7.4,15.3l-0.1,2.0M17.5,29.0l-1.0,1.2M9.5,45.7l0.5,1.1M54.0,55.4l-1.4,0.2M34.7,53.6l-0.3,1.0M22.9,20.9l-1.7,1.0M14.4,51.7l0.1,1.5M11.1,30.8l-1.7,0.3M49.6,33.7l1.1,1.0M28.2,41.0l1.6,0.6M58.5,16.6l0.9,0.7M23.2,53.7l-1.8,0.3M50.5,32.0l1.9,0.8M59.5,51.7l-0.9,1.9M45.6,58.4l1.1,0.3M13.5,53.0l-1.3,0.8M31.7,52.9l1.3,1.5M47.9,17.0l-0.1,1.7M62.2,19.0l0.8,0.9M31.2,40.3l-1.5,0.1M52.6,46.2l1.0,0.6M51.9,54.3l1.6,1.2M23.2,45.7l-0.1,1.9M15.7,25.9l-0.4,1.2M20.7,27.3l0.8,1.8M9.8,19.3l-1.7,0.9M48.9,39.4l1.2,0.7M18.9,48.8l-0.9,0.6M49.9,41.1l1.9,1.0M4.5,33.1l1.0,0.3M33.6,24.8l0.2,1.7M34.5,9.9l-1.5,0.8M4.5,20.4l0.8,1.7M18.2,48.2l-0.0,1.9M31.6,33.3l1.5,0.3M29.9,7.1l-1.9,0.3M6.6,27.1l-0.6,1.3M14.7,54.5l2.1,0.3M39.9,30.3l1.1,0.1M39.3,30.4l1.3,0.6M28.9,35.2l1.8,0.6M23.1,33.2l-0.4,1.0M51.9,31.7l0.1,1.4M78.1,37.8l2.1,0.0M66.9,53.1l-0.1,1.6M30.6,48.3l-0.9,0.8M10.9,42.3l-0.7,1.7M5.9,22.3l-1.0,0.6M41.1,56.9l-0.2,1.2M29.7,33.8l1.5,0.6M42.4,59.7l-1.9,0.4M8.4,23.5l0.4,1.4M19.7,30.8l1.1,0.5M50.1,10.6l-0.2,2.1M18.1,51.6l0.2,1.9M16.2,45.4l2.0,0.5M29.9,51.5l-0.2,1.5M65.6,40.3l-0.2,1.1M73.9,14.1l1.1,1.2M41.8,9.6l1.9,1.1M17.3,39.0l2.0,0.5M20.3,49.4l1.2,0.7M64.5,38.1l1.2,0.4M15.8,29.2l-1.0,0.4M20.6,48.8l-0.8,0.7M3.8,26.7l1.1,1.1M69.5,41.7l-1.5,0.6M26.2,15.3l1.7,1.0M42.4,54.8l1.5,1.6M13.8,30.1l1.5,0.2M6.7,21.7l-1.8,0.8M24.1,56.1l-1.6,0.0M34.3,24.9l-0.2,1.4M39.8,47.5l1.6,0.5M12.4,38.7l0.9,0.8M38.4,30.1l2.2,0.3M63.1,40.7l1.3,0.9M16.0,42.2l0.7,0.8M11.2,32.5l-2.1,0.5M23.6,29.1l-0.9,0.9M37.1,21.4l0.1,1.7M41.6,34.8l-0.6,1.6M30.8,55.1l-1.3,1.1M35.5,24.3l-1.5,0.6M18.1,49.5l0.4,2.0M31.1,49.5l0.7,1.9M16.9,21.8l-1.8,0.2M58.4,24.8l-1.1,0.8M15.1,31.9l0.3,2.0M22.9,53.6l-0.9,1.4M10.4,27.2l-1.2,1.6M12.7,49.7l-0.9,1.5M35.6,45.6l0.5,1.1M20.0,51.0l-0.4,1.7M57.2,20.1l0.3,1.3M36.0,59.0l-1.2,0.1M43.9,31.8l1.0,0.3M52.1,35.1l1.6,0.2M43.2,24.0l1.6,0.2M75.6,29.9l-1.4,0.5M45.2,20.1l-1.5,1.7M60.0,43.3l-1.5,0.9M10.0,32.1l1.6,1.0M31.9,47.7l0.5,1.0M25.1,16.9l-1.1,1.2M26.2,15.1l1.7,1.0M63.7,29.0l-1.6,1.5M31.6,25.4l-0.1,1.1M14.2,24.6l-1.0,0.8M45.1,8.6l1.3,0.7" stroke="#1c3c0d" stroke-width="1.2" stroke-linecap="round" fill="none"/>
<path d="M38.8,20.3l1.1,0.9M8.4,33.8l0.9,1.3M32.2,18.3l0.3,1.0M26.2,16.8l1.1,1.6M50.1,22.3l-0.9,0.7M8.2,40.5l-2.2,0.5M21.4,43.5l1.3,0.5M74.2,47.4l-1.7,1.0M34.2,53.0l-1.6,0.1M47.2,55.2l1.3,0.7M17.7,33.1l-1.3,0.5M39.5,17.8l1.0,1.6M83.0,20.3l-0.9,1.0M13.9,16.8l-0.1,1.5M51.5,54.5l-0.8,1.2M1.6,29.1l-0.1,1.5M75.7,40.5l-0.8,0.6M19.6,33.2l0.2,1.3M11.4,43.1l-1.4,0.2M30.8,17.5l1.8,1.0M16.0,37.9l0.7,1.1M35.0,45.5l-0.4,1.2M51.7,49.1l-1.2,1.6M20.9,32.0l0.0,1.2M16.7,42.4l-0.6,0.9M36.6,44.8l0.2,2.2M30.5,30.0l2.3,0.2M22.1,44.6l1.3,0.8M6.4,46.3l0.9,1.5M13.4,24.4l-1.3,0.1M32.1,14.8l1.8,0.9M59.9,42.7l-0.3,1.7M34.2,37.4l-0.7,1.3M16.8,9.8l-0.8,1.6M19.6,29.2l2.0,1.0M22.8,49.1l-1.8,0.8M67.8,50.7l-0.9,0.8M17.7,49.7l2.1,0.7M5.4,42.8l2.0,0.0M75.0,48.3l0.5,0.9M35.4,51.3l1.7,0.3M33.7,57.0l0.8,0.6M61.3,54.5l-1.7,0.3M56.5,34.2l1.0,1.3M64.7,35.0l-0.6,1.7M47.3,52.5l0.7,0.9M16.9,23.1l-0.4,1.3M38.5,30.1l-1.8,1.0M52.6,22.7l-0.2,1.1M20.3,25.9l2.0,0.9M63.9,51.0l-1.5,0.3M71.6,44.9l-0.8,0.7M14.7,34.1l1.7,0.8M53.2,55.0l-1.1,1.6M22.9,6.1l1.1,1.6M13.6,35.8l1.8,0.7M54.4,34.9l-0.0,1.7M56.9,56.1l-1.6,0.8M53.5,55.9l1.4,0.7M1.3,32.1l2.2,0.1M38.8,30.9l-1.4,0.3M62.7,25.0l1.3,0.9M64.9,43.8l2.1,0.7M30.7,12.0l0.1,1.8M25.8,13.7l-1.0,1.9M72.5,43.9l-1.6,0.7M60.4,17.6l-0.0,1.8M64.1,41.8l1.0,0.4M43.8,19.4l-0.6,1.2M14.0,32.3l1.4,0.1M44.8,14.5l-1.8,0.1M34.7,21.0l-1.4,1.1M13.7,43.7l1.7,0.2M30.1,57.0l1.6,0.9M40.1,44.0l0.6,1.9M39.4,33.0l0.8,1.0M19.4,53.7l-0.8,1.4M17.6,23.8l-1.5,1.6M8.5,21.1l1.0,2.1M22.1,15.2l1.1,0.5M19.9,55.1l0.6,2.0M6.5,19.3l-1.6,1.1M25.3,38.7l-0.5,0.9M41.4,40.8l-1.1,0.7M64.8,53.7l-0.7,1.6M40.6,23.2l-0.2,1.5M6.2,33.0l1.2,0.6M28.8,46.7l-1.3,1.9M67.0,9.3l-2.1,0.4M42.3,47.4l0.8,0.6M27.8,34.0l-1.2,1.8M23.7,55.6l1.4,0.7M20.7,46.8l-0.1,1.2M80.5,31.5l-0.1,1.7M38.2,16.1l-0.7,1.5M2.6,36.9l0.4,1.2M14.5,11.1l0.2,2.0M12.9,18.4l0.2,1.8M42.2,39.0l1.8,1.4M21.1,22.6l-0.6,1.4M38.9,18.4l0.5,1.0M49.7,54.0l-1.6,1.6M50.6,19.8l-1.0,1.5M68.5,10.4l-0.7,0.9M5.7,26.7l0.9,0.9M68.0,48.0l-1.0,1.9M6.9,29.7l-1.1,1.4M17.7,10.9l-1.0,1.3M25.2,15.1l1.8,0.7M27.5,37.1l1.0,0.5M44.2,30.8l1.3,0.5M53.5,32.8l0.2,2.0M14.4,19.5l-1.0,1.4M42.0,22.1l-0.9,0.4M40.0,46.3l-0.1,1.4M32.0,48.7l0.7,0.7M44.4,35.0l-0.8,1.0M22.3,37.1l1.2,0.7M48.9,29.4l1.3,0.6M43.8,3.7l-1.0,2.0M39.7,43.0l-1.3,0.4M21.1,19.6l1.4,0.3M37.3,52.1l0.2,1.3M60.0,43.9l-0.9,1.3M71.2,50.3l-1.7,0.7M50.2,18.9l1.4,1.2M6.4,27.4l1.5,1.7M70.1,14.1l1.5,1.6M15.9,14.3l-0.1,2.2M49.7,42.5l1.0,0.9M2.5,28.6l1.6,0.3M47.6,10.0l-0.2,2.1M43.1,33.9l-0.9,0.9M7.5,27.1l0.5,1.6M24.1,22.3l-1.9,0.6M18.5,18.3l-1.8,1.0M40.1,9.0l-1.1,0.3M52.6,59.5l-1.6,1.3M25.6,11.5l-2.2,0.5M34.3,43.2l1.0,2.0M21.7,32.1l-1.9,0.4M12.1,9.8l1.4,1.3M44.4,9.0l0.7,1.7M34.0,22.2l0.4,1.8M76.6,51.7l1.1,0.5M73.2,48.3l-1.5,0.2M56.2,42.6l1.9,1.1M54.4,48.5l1.7,1.2M16.4,24.4l0.8,1.0M70.0,16.9l-1.4,0.6M32.2,47.9l1.7,0.1M54.9,54.1l0.1,1.1M12.1,22.7l-0.7,0.8M7.4,20.9l0.0,2.0M22.6,2.0l0.4,2.2M19.0,16.1l0.8,0.7M53.6,27.5l0.7,1.6M12.8,33.1l-0.1,2.3M20.6,23.2l-1.8,0.8M21.7,51.9l-1.7,1.4M57.9,48.2l2.0,0.8M36.1,50.6l-1.5,0.5M45.9,49.5l-0.6,1.2M26.6,7.5l-0.4,2.2M11.1,47.6l-1.1,0.4M32.0,54.1l-2.0,0.9M47.8,18.2l-0.5,1.0M70.1,44.6l2.0,1.0M51.7,57.1l1.6,0.0M23.5,40.8l-1.1,1.2M71.8,37.6l-0.7,1.8M50.7,42.1l-1.2,0.9M14.9,40.8l1.5,0.0M28.7,38.7l0.1,1.8M54.4,29.4l1.1,0.2M4.6,29.2l-2.3,0.0M21.3,27.1l1.2,0.0M48.1,13.5l0.0,1.4M29.3,44.1l0.0,1.5M41.5,43.8l-0.5,1.5M10.3,20.3l-0.5,1.4M55.6,40.6l-0.5,1.5M63.7,19.4l2.1,0.5M18.8,24.3l-1.9,1.0M23.2,13.8l1.6,0.4M77.9,26.2l0.3,1.1M56.3,35.3l-1.0,1.1M16.1,27.5l1.3,1.6M29.4,40.3l1.2,0.8M73.4,28.7l-1.7,0.6M14.8,46.6l0.9,1.2M43.3,51.3l1.0,1.3M38.2,25.3l0.3,2.1M6.5,27.6l1.4,0.7M7.4,32.4l0.2,1.9M13.0,38.1l0.1,1.2M19.8,20.5l0.8,0.8M48.0,34.6l0.9,1.0M15.9,45.1l0.8,1.6M18.3,51.5l0.9,1.3M45.9,44.4l1.7,0.1M23.0,47.0l-0.0,1.4M26.4,32.1l-1.0,0.0M49.2,6.8l0.1,1.2M22.2,51.8l-1.4,0.3M75.0,29.6l-2.2,0.7M1.0,37.1l2.2,0.5M33.2,41.8l1.2,0.5M21.3,40.2l-1.2,1.3M16.7,25.8l-1.6,0.8M24.7,19.8l-0.6,2.0M70.3,48.0l0.7,1.0M17.1,16.0l-1.5,0.1M55.7,41.3l1.4,0.7M15.3,27.9l-0.8,0.9M25.6,47.9l-1.5,0.3M10.1,20.8l-0.6,1.6M2.3,37.4l0.1,1.9M38.1,48.4l-1.2,1.6M74.1,37.6l-0.2,1.1M34.0,48.5l-2.0,0.3M36.5,46.9l0.5,1.9M5.2,31.9l1.7,0.9M11.6,37.9l1.0,1.2M60.6,34.4l1.9,0.1M76.5,39.1l0.8,1.9M58.7,14.3l1.1,1.7M28.9,19.5l0.2,1.1M53.3,53.7l-1.0,0.2M47.2,39.4l2.1,0.5M72.5,35.1l1.6,0.5M8.7,18.1l1.6,1.1M70.0,47.5l1.2,0.2M48.6,21.6l-1.8,0.1M26.1,31.3l1.4,1.1M42.4,6.5l-1.4,1.6M64.4,38.5l-1.5,1.0M45.6,45.9l-1.1,0.1M49.4,46.5l0.9,1.1M27.4,18.1l-1.4,0.7M58.2,42.0l-1.3,0.0M18.7,43.1l-1.6,1.0M15.3,22.8l-1.2,1.3M66.8,48.9l1.2,1.7M46.9,20.8l1.1,1.1M72.0,14.2l-0.6,1.1M17.1,15.7l0.9,1.1M22.8,54.3l-0.5,1.8M38.8,15.2l1.3,0.4M27.4,46.7l-1.1,0.2M46.7,47.7l1.6,1.3M27.6,19.8l1.6,1.2M32.7,52.6l1.2,0.8M12.5,14.4l-2.3,0.1M44.0,50.5l1.4,1.7M55.2,37.9l-1.1,1.4M23.4,51.0l-1.7,0.6M47.1,59.8l1.4,0.3M10.2,33.2l0.3,2.2M17.6,48.0l0.8,1.1M8.8,22.1l-0.1,2.0M34.1,46.4l0.7,1.3M18.2,39.9l-0.8,1.4M18.1,16.0l1.5,0.5M36.3,53.2l1.6,0.5" stroke="#2c5b15" stroke-width="1.2" stroke-linecap="round" fill="none"/>
<path d="M31.5,56.3l2.0,1.0M35.9,20.0l0.0,1.4M41.8,33.8l1.4,0.1M32.9,9.5l-0.7,1.6M36.9,50.4l1.0,0.6M38.7,38.4l-0.5,1.7M9.7,25.0l-1.5,1.7M62.7,39.5l-1.3,0.4M22.2,46.4l1.2,1.0M30.0,22.7l0.2,1.1M30.0,34.0l-0.4,1.4M37.0,44.3l0.3,1.5M80.2,25.2l-1.1,1.9M74.6,18.8l0.4,1.8M48.7,31.0l2.0,1.0M21.7,52.3l1.7,0.1M16.9,23.9l-0.0,1.7M23.4,53.2l1.7,0.2M42.1,7.2l1.6,0.4M32.9,16.8l2.0,0.1M11.3,17.3l1.6,0.6M10.5,16.4l-1.6,0.1M50.8,21.6l0.2,1.4M20.4,32.2l0.0,1.6M16.2,49.6l1.5,1.6M18.7,30.2l-0.1,1.2M8.2,30.6l1.1,1.7M76.9,26.8l1.3,0.5M62.9,23.7l1.0,1.5M58.9,38.9l-1.3,1.1M55.1,54.2l0.3,1.2M61.4,40.2l0.7,1.5M14.2,40.9l1.0,1.9M59.5,40.6l-0.3,1.4M61.8,27.2l0.2,1.7M32.4,36.4l-0.4,2.2M39.6,58.6l1.5,1.0M13.1,27.4l-1.8,0.5M78.9,19.8l2.1,0.3M30.8,3.6l0.1,1.0M29.8,42.0l1.4,0.2M58.0,58.5l0.5,1.7M39.2,49.0l-0.3,2.1M22.1,46.0l0.1,1.3M40.3,54.5l-0.5,1.5M23.7,55.9l-0.5,1.0M32.7,37.1l-1.8,1.3M22.8,22.5l-0.7,0.8M69.1,33.4l0.5,1.6M13.4,25.2l1.1,0.5M47.3,33.5l-2.1,0.1M65.9,13.9l0.7,1.4M24.7,23.7l-2.0,0.7M22.9,13.7l-1.7,0.3M17.3,43.6l1.5,0.2M8.6,45.1l-0.9,0.4M52.8,43.6l1.8,0.4M38.6,55.0l1.4,0.1M20.1,40.6l1.6,0.7M45.5,8.7l1.0,1.3M34.1,28.9l0.9,1.8M54.1,52.9l-0.8,1.0M56.4,48.2l1.3,0.6M70.6,32.4l1.4,0.7M18.4,35.1l-0.5,1.3M51.5,15.1l-0.9,1.9M77.4,30.5l-0.9,1.5M48.0,9.0l0.4,2.1M13.9,6.5l-0.1,1.2M54.0,20.1l1.8,0.1M26.6,10.4l0.4,1.9M46.2,31.1l-1.9,0.3M8.2,43.2l0.4,1.3M53.0,22.4l1.1,1.6M74.4,49.9l0.6,1.5M48.2,10.8l-0.3,1.2M57.7,12.7l1.6,1.6M45.7,39.4l1.4,0.4M47.2,57.1l0.4,1.8M34.4,37.8l-0.6,1.1M13.7,44.7l1.2,0.7M10.8,43.4l-2.0,1.0M80.9,17.4l-1.7,0.2M65.4,45.0l-0.8,1.4M52.6,34.9l1.7,0.4M71.9,17.9l-0.5,1.1M80.2,14.2l-1.5,0.1M12.6,24.8l1.5,0.7M10.9,30.9l1.2,0.6M68.3,46.4l-1.0,1.1M11.0,21.5l0.0,2.1M61.8,55.4l-0.2,2.2M23.5,35.5l-1.9,0.6M27.7,7.8l1.3,0.9M65.1,44.0l-2.2,0.2M57.3,9.0l-2.1,1.0M32.3,51.3l0.6,1.3M24.1,16.3l1.6,0.5M31.5,12.1l1.4,1.2M67.0,49.3l-1.0,0.6M28.2,45.9l1.6,0.4M35.6,24.2l-0.1,2.1M60.0,6.3l1.5,1.7M32.5,53.2l-1.2,1.2M61.3,36.1l-0.3,1.5M61.5,46.6l-1.6,0.2M60.6,33.5l-0.4,1.5M39.9,15.2l-0.8,1.6M34.0,55.1l1.8,1.2M40.5,5.9l-1.1,1.2M22.9,21.7l1.7,1.3M23.2,28.4l-0.5,1.7M17.1,43.2l1.0,1.9M53.0,53.1l-0.0,1.5M50.5,55.7l-1.9,0.7M44.6,38.3l0.4,0.9M18.8,45.6l-0.1,1.4M49.9,13.7l-0.8,1.8M21.3,56.2l-1.2,0.9M48.3,39.9l1.5,1.1M37.3,27.6l0.8,0.8M26.0,13.8l0.6,1.2M15.7,48.1l-0.4,1.0M12.3,40.9l-1.9,1.0M47.9,38.1l1.5,1.0M67.2,33.0l0.2,2.3M33.5,7.8l2.2,0.5M45.7,13.0l-1.3,0.9M47.6,43.3l-1.0,0.7M17.3,25.8l-1.2,1.0M13.7,29.5l-0.6,0.9M38.8,17.0l1.8,1.4M24.8,14.4l1.5,0.5M40.7,33.2l-1.9,0.6M77.2,33.0l-0.1,1.4M37.6,35.2l-1.0,0.5M16.4,36.5l0.6,1.2M33.7,8.4l1.2,0.0M19.3,23.4l-1.3,0.4M38.3,48.9l-1.0,2.0M44.5,55.7l-2.2,0.0M20.7,50.7l1.8,0.9M65.7,45.9l0.3,1.6M58.1,30.3l0.9,0.5M51.3,30.8l1.5,0.9M70.3,41.9l-0.6,1.1M10.1,28.3l-1.3,0.5M55.2,35.8l-1.9,1.1M68.2,34.3l1.1,0.9M29.2,11.8l1.0,0.6M39.7,37.0l1.5,1.6M66.8,32.4l1.3,0.9M58.4,30.0l2.1,0.4M38.2,40.4l-1.3,0.2M31.8,48.0l0.6,1.5M35.5,14.1l1.2,1.9M70.7,22.0l-0.5,1.3M15.8,37.6l-1.2,1.1M32.7,21.1l-1.2,0.9M55.4,32.3l-1.5,0.4M8.0,42.7l-1.3,0.9M74.8,13.6l-2.1,0.9M46.1,25.2l-1.8,0.5M29.6,50.5l-0.9,1.5M16.7,33.4l1.8,0.4M13.8,27.3l-1.2,1.7M28.3,52.0l1.3,1.8M62.2,18.6l2.2,0.4M65.4,21.7l2.1,0.0M67.8,20.4l-0.8,1.9M55.7,52.1l-2.1,0.5M14.5,28.3l0.2,1.0M18.4,38.2l-1.4,1.1M58.6,51.2l-1.2,1.3M53.2,18.6l-1.7,1.3M65.3,50.2l-0.1,1.8M43.6,7.2l1.4,0.3M55.7,34.0l0.9,1.7M59.8,49.8l-1.5,0.1M13.3,18.6l-2.1,0.0M52.8,27.2l0.8,0.7M37.8,29.9l-2.2,0.3M19.0,20.7l-1.2,0.2M66.4,13.3l-0.3,2.0M28.9,29.1l1.5,0.7M10.7,16.6l0.1,1.1M59.7,49.7l2.1,0.9M55.3,57.8l-1.0,1.0M75.5,38.4l1.0,1.1M7.4,32.3l-1.2,0.3M62.0,52.7l0.1,1.6M28.0,30.9l1.5,1.1M71.1,50.7l2.0,0.7M33.6,35.2l-1.0,0.5M50.6,55.0l-0.6,2.0M49.7,43.6l-0.6,1.9M78.1,30.5l1.4,1.8M30.1,18.1l0.5,1.2M36.5,11.9l1.1,0.2M17.0,19.2l0.6,1.5M28.1,5.2l-2.3,0.3M43.7,34.2l0.9,2.0M76.0,54.3l-1.0,1.3M50.7,29.1l2.1,0.4M45.1,53.0l-1.5,0.5M39.4,26.2l1.5,0.1M49.4,11.5l-0.2,2.2M5.6,22.2l-1.3,1.0M36.8,44.4l-0.1,1.1M42.4,33.2l-1.8,0.0M28.4,47.2l0.7,0.9M73.4,46.0l-0.8,0.9M45.5,32.3l-1.1,0.9M28.9,12.7l-1.0,0.4M46.5,12.2l1.1,1.9M39.1,29.1l-1.1,0.6M29.4,30.4l-2.1,0.4M39.6,60.9l-1.8,0.0M56.9,10.6l-0.7,1.9M48.6,41.1l-2.1,0.0M24.8,13.0l-0.6,1.5M25.6,57.6l0.7,1.3M70.3,43.0l0.6,1.0M50.9,40.3l2.0,0.2M51.5,8.6l0.1,1.8M24.0,36.5l-1.4,1.1M28.6,49.8l1.5,0.9M54.3,33.9l-2.1,0.6M58.7,42.8l-0.6,1.1M70.2,30.5l0.2,1.2M49.4,38.2l1.2,0.8M27.2,18.2l-0.7,0.9M57.2,53.0l0.6,1.9M39.2,18.9l1.9,1.0M50.6,54.5l-0.8,1.5M32.6,29.5l-0.1,1.6M26.9,41.8l0.1,1.4M6.5,39.6l1.4,0.7M36.1,13.0l0.9,1.9M55.8,22.3l-1.8,0.0M37.5,35.4l-1.2,0.3M80.9,21.9l1.5,1.7M33.6,53.2l1.1,1.1M10.2,40.5l0.6,1.8M10.4,33.8l-1.9,1.0M71.9,16.8l0.4,1.0M48.7,45.8l1.5,0.5M27.1,41.1l1.2,0.1M17.8,5.9l0.8,1.9M40.9,19.3l-2.1,0.5M54.0,29.5l1.8,0.8M76.2,31.3l0.7,1.3M17.4,14.2l-1.0,0.1M20.0,8.7l0.9,0.8M24.8,40.4l-1.5,0.8M51.3,17.2l-1.0,1.8M56.9,45.9l-0.8,1.8M55.7,6.9l-1.8,0.7M12.1,46.3l-1.2,0.1M42.7,49.7l0.7,1.9M25.5,52.4l-0.5,0.9M35.8,26.2l0.6,0.8M9.3,36.3l1.3,0.2M27.4,25.8l-0.9,1.0M19.6,32.6l-0.9,1.7M44.8,11.9l1.6,0.3M79.7,44.6l0.7,0.9M46.8,51.2l-0.3,1.3M66.0,42.5l0.7,1.9M23.1,10.4l-0.1,2.0M12.6,49.1l1.5,0.9M42.1,30.1l-0.5,2.0M16.9,22.5l0.9,1.0M14.7,20.7l-0.6,0.9M13.7,35.0l1.0,1.4M15.9,36.9l-2.0,1.0M67.4,45.7l-0.2,1.5M19.7,40.4l1.8,0.5M29.4,38.8l1.1,1.7M10.2,28.2l-1.7,1.3M46.0,5.2l-0.9,0.7M49.1,24.1l1.1,1.7M23.9,14.2l1.4,1.4M44.8,47.8l0.5,1.9M29.3,45.2l1.7,0.7M42.1,27.8l-1.3,0.0M35.9,25.9l1.0,0.7M63.2,21.2l0.9,0.7M54.1,42.6l-0.3,1.8M71.2,44.0l-0.8,1.3M46.0,42.0l-1.0,1.6M58.8,36.3l1.2,0.8M19.2,36.4l1.5,1.7M10.0,44.5l0.8,0.9M25.0,30.4l-1.1,0.2M24.2,20.1l-1.1,1.3M47.4,18.5l1.6,0.7M32.7,13.6l-0.4,0.9M62.5,51.1l1.2,0.2M15.4,33.3l1.1,1.9M75.7,26.3l0.1,2.2M63.3,11.5l1.8,0.3M38.5,53.3l1.2,1.7M39.3,49.7l1.6,0.7M52.1,41.5l-1.8,0.4M14.3,38.6l1.3,0.6M67.3,28.9l1.4,1.7M31.1,54.0l-1.1,0.8M1.3,34.3l0.2,2.0M64.1,40.4l0.9,0.9M28.7,49.3l1.1,0.8M34.5,3.9l-0.3,1.3M10.1,14.8l-0.6,1.6M38.3,26.8l0.5,1.7M77.6,39.5l1.4,1.0M59.2,20.3l0.4,1.4M6.6,29.8l2.0,1.0M48.7,39.0l-0.4,1.4M20.3,43.7l-0.6,0.8M22.1,51.0l1.1,0.5M42.8,53.2l-0.3,1.3M39.7,23.0l-1.9,0.5M7.5,24.0l-1.0,1.9M62.6,46.7l-0.0,2.1M2.8,34.9l0.9,0.6M42.0,16.3l-0.7,1.4M70.0,42.3l-1.9,0.9M63.6,34.6l1.8,1.1M81.5,12.8l0.5,1.6M65.2,24.8l-0.0,1.6M41.9,26.6l-1.4,0.9M15.1,49.7l1.7,1.4M54.0,41.6l0.7,0.9M65.8,49.0l1.1,1.0M26.6,34.5l-0.6,2.0M71.3,44.6l-0.1,1.4M62.5,36.8l1.2,0.2M36.6,49.6l1.3,0.4M17.5,50.7l0.1,1.3M71.9,34.5l1.3,0.4M18.2,36.2l0.9,1.0M44.2,32.9l-1.7,0.3M66.6,37.1l2.0,0.8M73.5,43.1l0.5,0.9M49.7,8.8l1.0,0.3M13.9,44.6l-1.2,0.8M32.6,51.1l1.9,0.3M31.3,17.8l1.3,1.6M43.4,50.1l-0.6,1.0M52.6,33.2l0.5,0.9M40.5,33.4l0.5,1.3M16.9,39.3l-1.8,0.8M81.3,27.8l-0.9,1.9M63.8,40.3l-1.1,0.8M22.0,42.3l1.6,1.5M45.6,55.1l-0.8,1.0M51.2,25.4l-0.8,0.7M7.3,19.5l0.8,1.1M15.7,41.6l1.1,0.6M46.4,56.8l1.0,2.1M35.9,24.7l-2.1,0.3M52.0,5.9l1.3,1.0M54.7,36.2l0.3,2.1M64.1,53.1l-1.3,0.7M11.4,36.8l-1.5,0.5M40.1,43.5l1.4,0.4M35.8,50.0l1.1,0.8M29.9,24.2l0.5,0.9M33.0,21.7l0.8,0.9M56.6,35.3l0.8,0.8M21.7,15.6l-1.5,0.1M77.6,16.5l-0.2,1.1M64.7,44.0l-1.2,1.4M33.6,46.4l1.0,0.5M43.0,39.5l-1.8,0.7M11.8,34.7l-0.9,1.4M52.9,60.2l-2.3,0.3M37.2,29.4l-1.3,0.5M72.3,40.8l-2.0,0.6M27.8,57.1l1.2,0.3M25.5,34.5l-0.1,1.4M10.4,43.3l0.4,1.3M38.9,42.4l-1.4,0.6M11.2,30.0l0.9,1.2M35.8,41.9l1.1,1.8M30.9,38.1l-1.3,1.9M75.5,38.2l-1.4,1.2M38.9,60.3l0.9,0.6M67.8,31.5l-0.3,1.2M56.0,6.7l-1.5,1.3M20.5,27.4l-0.3,2.0M70.1,23.8l-1.3,0.3M38.8,10.9l-0.2,1.6M55.6,11.1l-1.2,0.7M37.0,22.7l-1.5,1.2M15.3,5.8l-0.8,1.4M67.2,23.8l-0.5,1.1M13.7,24.9l1.5,1.6M21.0,13.5l2.1,0.1M73.8,25.4l1.6,1.3M18.0,19.9l0.2,1.5M55.2,53.7l1.2,0.1M70.2,40.5l-0.2,1.4M13.9,26.6l-1.5,1.6M15.2,36.4l-1.2,0.6M57.7,12.9l-1.3,0.6M11.0,19.2l0.6,1.7M12.9,36.5l-1.4,1.0M58.4,55.6l-1.1,0.1M22.9,35.8l-0.4,2.2M67.4,53.1l1.9,0.3M64.4,29.9l-1.2,1.3M49.5,22.3l-0.5,1.8M33.0,35.4l-1.2,0.1" stroke="#3d771e" stroke-width="1.2" stroke-linecap="round" fill="none"/>
<path d="M29.0,12.3l1.1,0.7M18.9,42.6l1.2,1.5M8.7,20.9l1.6,0.9M35.7,3.8l-0.6,0.8M49.9,18.5l-1.2,1.2M48.2,48.3l-1.3,0.3M7.5,36.0l1.2,1.1M41.6,21.3l-0.3,1.8M23.5,28.3l1.8,1.4M73.7,24.6l-1.1,0.5M27.5,51.8l0.7,2.0M55.1,55.3l-1.3,0.0M8.2,36.1l0.2,1.6M35.8,13.0l-1.4,0.2M14.2,18.2l0.6,1.9M58.3,35.6l-1.3,1.5M48.7,55.9l0.4,1.6M42.8,40.5l-0.9,0.7M38.1,26.2l1.2,1.7M68.3,48.3l1.4,1.0M52.1,43.7l0.0,1.5M61.2,53.9l-1.6,0.3M54.2,18.2l0.9,1.9M48.8,27.1l-0.1,1.5M75.9,27.8l1.0,0.7M27.4,12.6l-1.5,0.7M39.6,44.1l1.4,1.0M20.6,40.3l-0.4,1.9M48.1,60.3l-1.5,1.7M16.5,36.1l-1.4,0.2M52.3,52.5l1.0,0.3M47.5,16.4l-0.4,0.9M20.1,49.0l-0.8,0.7M58.8,36.5l1.6,0.3M12.9,37.1l1.5,0.9M30.0,40.5l-0.3,1.4M64.9,9.0l-1.4,1.6M52.4,28.5l1.2,0.2M53.4,39.6l0.2,1.6M72.8,20.1l0.1,1.5M35.4,34.3l0.2,1.4M47.7,14.9l0.8,1.3M29.0,50.7l-1.1,1.8M18.9,45.0l0.1,1.3M55.6,48.3l2.0,0.5M1.8,31.4l2.0,1.1M40.5,31.9l-1.8,1.0M67.5,49.3l1.1,0.6M18.2,37.6l-1.2,1.0M59.4,16.7l1.4,0.2M65.2,39.0l-0.2,1.7M13.8,43.0l1.5,1.4M57.4,52.2l-1.6,0.9M62.4,50.5l-2.2,0.2M29.8,55.5l0.6,0.8M37.8,48.6l-1.1,0.7M62.0,8.5l0.1,1.4M52.6,26.0l1.6,0.7M69.9,25.7l-2.1,0.9M34.8,49.1l0.2,1.1M74.4,34.7l1.4,1.6M50.7,37.8l1.2,0.2M19.4,37.4l-0.4,1.2M44.3,24.4l1.0,0.9M47.5,45.5l0.6,1.4M63.0,22.4l-0.1,1.5M37.3,37.0l1.3,0.7M52.9,15.3l-0.4,1.3M18.8,51.7l0.5,1.7M72.3,12.4l1.3,0.4M12.6,27.4l-0.5,1.9M17.6,46.6l1.4,0.9M45.4,17.4l0.1,1.7M65.2,38.4l1.5,1.3M72.0,34.7l0.9,0.6M35.3,50.8l-2.1,0.8M48.4,10.0l-0.6,1.6M81.2,14.8l-0.8,1.8M50.6,32.8l0.6,2.1M46.3,43.9l-1.7,0.5M10.2,20.6l-1.0,1.2M40.7,50.8l1.7,0.8M64.2,27.6l1.2,0.2M23.3,6.2l1.0,0.4M40.0,11.5l-0.0,1.9M11.2,28.2l1.2,0.7M58.1,25.2l-1.0,1.0M70.5,33.1l1.4,1.6M14.9,12.2l0.6,0.9M20.8,25.4l1.6,0.1M15.1,34.1l-2.2,0.6M22.7,58.5l-0.8,0.8M38.6,5.6l-1.2,0.4M54.1,9.7l-1.7,1.2M30.9,18.4l1.3,0.3M19.9,31.9l-1.1,1.7M5.7,28.2l0.7,1.5M28.1,26.4l-1.0,2.0M39.3,47.2l-0.5,0.9M13.1,33.2l0.8,1.3M61.3,53.3l-0.1,2.1M14.5,15.0l0.2,1.3M70.9,44.3l2.2,0.2M24.9,48.5l-0.4,1.9M25.7,23.5l1.9,0.6M36.1,3.9l0.0,1.7M54.0,9.6l1.8,0.4M59.6,43.9l-0.1,1.0M27.3,26.2l1.1,0.3M14.9,53.6l-2.2,0.2M63.5,53.0l-1.5,0.3M5.7,41.0l0.4,1.3M75.6,27.5l1.2,0.1M60.6,28.3l0.0,1.5M55.0,28.0l-0.8,0.9M73.6,35.0l0.7,1.0M39.0,40.2l-1.4,0.2M63.1,50.5l-1.8,0.9M24.8,10.5l-1.3,1.7M48.4,30.9l-1.7,0.3M46.0,18.3l0.7,0.8M57.5,17.6l-0.9,1.9M57.7,23.2l1.0,0.3M28.2,10.3l1.7,0.8M45.5,20.8l-0.5,1.2M23.7,46.2l1.2,0.9M24.5,8.0l1.7,0.0M25.3,28.1l-0.3,2.1M46.4,29.0l0.4,1.0M28.5,26.2l1.4,0.9M60.0,47.8l1.7,1.2M54.9,12.7l1.0,0.6M29.0,36.1l-0.1,1.7M74.8,37.2l2.0,0.4M26.4,8.1l-1.3,0.1M9.1,17.8l1.4,1.6M17.0,39.0l0.9,0.6M61.1,17.9l1.6,0.9M26.8,47.1l-0.9,0.8M39.3,31.5l-1.6,0.2M39.5,3.9l1.1,0.8M20.4,26.6l1.1,0.2M12.7,34.7l1.3,1.6M19.7,13.8l0.1,1.9M35.9,54.6l0.5,1.4M54.9,48.7l-0.2,2.1M4.4,44.1l1.1,0.5M16.9,48.4l-0.0,1.7M13.6,15.3l-0.7,1.2M15.5,31.0l-0.3,1.4M30.8,10.7l0.5,1.7M76.3,29.4l-1.1,1.2M60.2,14.1l-0.8,1.7M53.4,32.0l-0.2,1.8M41.2,45.8l1.1,1.5M29.0,30.5l-1.8,0.3M56.8,47.9l-1.1,0.0M18.6,18.8l1.4,0.4M37.6,27.9l0.6,1.9M34.0,53.4l-0.9,1.7M25.7,2.3l0.9,1.3M15.3,23.1l1.4,1.4M25.1,51.7l0.3,2.0M43.5,13.1l0.9,1.6M57.8,49.4l-0.4,1.1M60.6,31.2l1.2,0.5M11.1,20.6l1.1,0.8M36.2,30.6l0.6,2.1M46.8,35.0l1.9,1.0M75.7,22.0l0.1,1.9M83.1,34.5l-0.2,1.2M17.1,30.0l0.9,0.4M49.1,23.5l-1.1,0.3M79.3,15.0l-0.9,2.0M75.3,37.6l-0.3,1.8M35.0,47.4l1.1,0.6M69.3,16.5l-2.0,0.9M54.3,45.6l1.3,1.1M6.3,19.1l-1.0,1.7M60.0,44.7l2.0,1.0M28.6,8.4l0.4,1.6M52.9,57.0l-1.0,0.6M22.9,51.1l-0.9,1.2M45.0,49.5l-1.4,0.6M55.7,55.6l0.8,0.9M46.5,9.2l-1.3,0.3M48.3,42.3l0.1,1.2M28.8,11.7l1.5,0.6M77.8,20.5l1.8,0.1M53.0,46.6l-1.5,0.1M18.5,9.1l-1.4,0.1M47.1,33.4l-0.7,0.8M21.7,7.3l1.5,1.2M51.7,28.8l0.7,1.5M42.2,28.0l-0.3,2.2M30.2,15.8l-1.7,0.8M27.1,8.4l0.0,1.7M4.0,26.0l1.3,1.4M43.4,10.5l-1.7,0.3M38.6,59.8l-1.1,0.5M79.5,16.4l-2.0,0.3M64.3,24.6l1.2,1.3M5.1,39.5l1.0,0.8M44.4,58.1l-0.5,1.3M38.9,57.6l0.2,1.3M15.0,20.2l-1.3,0.1M42.9,25.3l0.4,1.4M66.2,47.8l0.1,1.4M52.9,22.8l-1.9,0.1M8.1,30.6l0.6,1.8M13.5,52.0l2.0,0.3M13.5,20.1l1.0,0.4M28.9,10.6l0.9,0.7M15.0,21.6l1.1,1.0M23.9,26.3l0.6,1.2M36.7,32.9l-1.6,0.3M37.6,45.9l-1.0,1.6M30.9,54.4l0.9,1.5M25.6,56.1l0.8,1.1M46.5,10.8l2.0,0.5M31.5,5.6l0.6,0.8M53.1,30.2l-0.3,2.1M24.8,30.4l-0.3,1.0M32.0,45.8l1.3,0.9M37.9,22.3l-0.2,1.4M37.9,35.2l1.0,0.1M24.1,30.6l1.0,0.0M37.6,22.3l1.9,0.4M45.3,33.8l0.7,1.0M49.6,51.7l-1.5,1.2M21.1,55.1l1.1,0.2M11.8,45.2l-1.6,1.4M8.9,19.3l-0.4,1.5M64.8,39.6l-0.9,0.9M27.0,17.6l1.5,0.2M77.8,49.5l-0.4,1.1M59.5,32.3l0.8,0.8M19.3,11.6l0.6,0.9M27.1,33.5l0.0,2.1M16.3,17.4l-0.5,1.4M12.9,49.8l0.7,0.9M18.5,51.0l-0.3,1.9M30.6,49.6l0.7,1.1M80.3,18.5l1.3,0.8M16.5,45.5l0.4,1.6M18.2,20.2l-1.1,1.2M16.6,40.3l0.2,1.1M19.5,6.8l0.3,1.4M31.5,49.0l0.9,1.9M29.4,37.1l1.7,0.7M47.4,15.6l-2.1,0.1M4.1,31.1l-2.1,0.3M52.2,31.6l-0.9,0.7M35.2,7.9l-0.8,1.8M40.1,47.0l0.9,0.6M55.2,19.0l1.0,1.0M10.4,43.8l2.1,0.8M75.9,44.3l0.3,2.0M38.9,23.5l1.6,0.1M13.1,39.3l-1.2,0.6M34.3,36.2l-0.7,1.6M69.2,28.0l-1.1,0.1M72.8,34.0l1.2,0.4M72.6,39.1l1.8,1.1M68.2,54.2l0.9,0.5M65.2,39.2l1.4,0.7M49.3,15.9l-1.1,0.0M19.9,45.9l0.8,1.2M46.0,33.7l-1.4,1.8M52.8,28.4l-1.3,0.0M35.0,27.8l-0.1,1.4M47.2,43.3l0.5,1.7M13.0,19.9l-0.3,1.0M82.6,21.1l-1.2,1.3M38.3,14.0l-1.2,0.1M39.2,36.1l0.4,2.2M45.2,54.0l-0.6,1.4M4.6,26.4l1.0,1.6M44.0,21.0l1.8,0.3M11.5,12.6l0.3,1.5M45.8,40.3l-1.4,1.2M70.2,19.6l0.4,1.9M10.2,33.1l-1.1,0.4M3.4,20.1l-0.2,2.0M56.0,44.9l1.1,0.8M57.9,32.2l-0.5,1.8M69.6,48.1l0.0,2.2M33.1,49.5l-0.9,1.4M8.1,34.6l1.0,2.0M43.4,18.9l-2.1,0.3M1.2,32.3l0.4,1.8M68.0,45.0l-2.0,0.9M74.4,33.9l0.7,2.1M69.5,46.4l0.8,0.8M22.5,19.2l1.4,0.4M26.5,48.6l1.7,0.1M69.9,47.9l0.2,1.4M54.4,53.7l1.2,1.5M64.1,14.1l-0.4,1.2M62.1,33.7l-0.8,2.0M71.0,47.9l0.9,1.7M30.8,19.6l-0.5,1.9M76.9,30.9l1.3,1.2M58.5,54.7l0.6,1.0M68.2,29.0l-1.3,0.7M38.3,37.7l-2.0,0.4M44.0,26.4l0.1,1.6M44.8,30.3l0.6,0.9M42.0,28.4l-1.1,0.7M34.6,9.6l-1.7,0.0M59.1,40.2l0.6,2.1M69.4,22.2l-0.5,1.3M39.0,56.6l-1.0,0.1M65.1,41.7l2.0,0.4M61.2,37.2l-1.2,0.3M56.8,47.8l-1.3,0.5M16.2,5.3l-0.1,1.3M29.1,12.4l0.0,2.1M45.9,32.2l-2.0,1.0M36.1,22.2l0.2,1.0M75.6,45.1l-1.0,0.7M43.0,22.1l-1.1,0.0M17.0,16.4l-1.2,0.3M81.1,18.4l1.1,1.3M54.5,22.8l1.6,1.4M6.8,28.6l1.6,0.6M74.8,49.5l0.4,1.2M67.7,43.3l0.3,2.2M35.3,32.6l1.2,0.4M57.2,32.8l2.0,0.2M39.1,5.6l-0.1,1.9M15.1,49.3l1.6,0.5M20.5,24.9l-0.8,1.6M20.8,5.2l2.2,0.0M54.3,50.8l-1.2,1.4M12.3,33.9l-1.9,0.9M45.2,8.7l0.7,1.0M19.7,20.4l-1.7,0.3M33.2,19.9l1.8,0.6M58.5,53.7l-1.0,0.2M55.3,26.1l1.6,1.6M20.6,44.5l-0.9,0.9M70.3,44.5l-1.5,0.3M27.2,45.1l-0.5,1.4M24.0,33.5l-1.0,1.6M77.9,46.9l-1.7,0.4M42.2,24.3l-1.0,1.0M36.6,29.0l1.2,0.1M45.7,30.8l1.0,1.6M14.6,31.3l1.5,0.8M13.5,43.5l-1.2,0.2M45.9,41.9l1.2,0.3M45.3,54.4l1.4,0.6M20.0,35.5l0.4,1.1M7.6,17.4l0.2,2.1M44.3,49.2l1.8,0.6M54.4,42.9l1.5,0.4M13.5,44.5l0.0,2.1M65.2,21.3l-1.8,0.1M29.2,17.8l0.2,2.2M66.0,37.8l1.0,0.5M6.8,25.4l-0.3,2.3M73.3,31.0l0.4,0.9M65.0,41.9l-0.6,1.9M41.5,49.7l1.9,0.8M62.6,28.9l-0.7,0.9M50.8,3.2l-1.4,1.4M60.1,18.6l1.0,1.9M48.6,57.7l-0.9,0.7M10.4,33.2l-0.9,0.9M11.6,12.6l-0.3,1.1M46.1,34.1l0.7,0.9M49.7,52.2l-1.2,0.2M47.3,25.4l-0.2,1.3M41.1,26.4l-1.3,1.3M31.6,8.1l1.8,1.4M73.3,48.8l1.8,0.4M28.1,21.5l1.8,1.1M78.5,30.6l-2.0,0.5M42.1,46.2l1.4,1.1M44.6,59.6l-1.2,0.4M21.0,34.5l1.0,1.2M15.2,28.8l-1.4,1.3M12.3,31.6l1.0,0.7M21.7,52.0l-1.0,1.8M25.9,52.8l1.4,0.7M26.3,35.7l-2.0,1.0M67.5,38.8l0.2,2.3M31.0,50.5l1.7,1.5M65.6,48.3l1.1,1.3M35.3,40.8l-1.6,1.5M8.1,24.2l-0.4,2.1M5.6,32.5l-1.0,1.5M73.8,16.6l-0.2,1.1M32.4,32.1l1.2,0.4M17.6,14.8l0.0,1.4M51.7,21.7l0.3,1.0M71.7,42.1l-1.6,0.4M40.9,36.1l-1.2,0.3M27.2,28.2l1.2,1.3M44.3,33.1l0.8,1.5M44.8,35.2l0.7,1.1M77.3,29.4l-0.7,1.5M16.6,48.6l1.0,0.7M57.5,40.2l-2.1,0.3M23.6,43.9l1.2,1.5M22.3,40.7l1.1,0.7M18.3,7.2l-0.2,1.8M32.0,28.6l1.4,1.0M20.1,32.5l1.7,0.2M25.3,44.4l-0.3,1.5M40.8,57.3l1.8,0.8M73.3,31.7l2.0,0.2M51.0,11.6l-1.0,0.1M19.1,24.7l-0.4,2.0M37.8,58.6l1.6,0.6M39.3,26.5l-1.7,1.3M26.3,48.0l2.0,0.1M12.6,28.7l-1.7,1.2M43.5,49.2l-2.2,0.1M51.8,26.8l-0.8,1.7M71.0,24.5l-0.5,2.0M35.3,19.8l-1.5,0.7M50.6,45.8l2.0,1.1M26.5,8.2l-1.8,0.6M13.1,20.8l1.3,1.2M68.0,43.0l-0.4,2.1M17.4,14.2l0.3,1.5M57.8,46.6l-0.4,1.1M12.0,35.1l1.8,1.4M46.1,54.9l1.0,1.4M53.3,44.0l-0.5,1.2M27.0,30.1l1.4,1.7M41.8,14.1l0.8,1.7M51.7,51.2l0.9,1.2M21.8,27.6l0.5,2.2M9.3,38.9l-0.2,1.0M55.1,41.4l-0.8,2.1M50.1,44.6l0.6,1.9M48.6,40.8l1.2,1.3M68.9,28.1l-1.0,0.4M29.9,39.8l1.4,1.7M51.7,16.7l-1.4,0.1M63.6,13.7l0.1,1.0M39.0,57.3l0.8,1.2M70.1,24.3l0.7,0.7M25.6,32.0l0.2,1.0M37.5,13.1l-1.7,1.2M24.4,30.7l1.3,1.9M74.8,21.2l-1.0,0.4M42.6,8.8l-1.0,0.5M11.9,39.0l-0.2,1.3M66.0,9.1l1.2,1.8M41.0,6.6l0.9,1.5M34.1,20.9l1.9,1.2M50.9,25.9l-0.6,1.5M31.1,8.2l1.2,1.0M34.9,1.1l-0.1,1.4M35.1,30.1l1.5,0.8M47.7,8.8l-0.4,1.4M53.2,16.8l-2.1,0.3M48.2,55.3l-0.7,1.8M33.1,47.1l2.2,0.6M60.9,30.1l1.5,0.9M5.6,30.4l1.9,0.1M53.0,49.7l-1.7,0.9M21.3,12.9l1.6,0.6M55.5,27.8l-1.9,1.0M60.5,22.6l-0.6,1.3M2.1,23.5l0.4,2.1M26.2,15.6l0.4,1.4M66.2,40.1l-2.0,0.4M21.1,38.4l0.6,1.7M48.2,6.1l-1.1,1.8M48.4,22.1l-1.5,1.2M21.2,10.8l-0.9,0.7M70.1,48.5l-0.9,1.4M71.2,29.3l-0.9,0.8M49.1,50.9l1.0,0.3M40.0,9.7l1.1,0.8M11.8,19.5l-2.1,0.9M11.9,40.4l-1.7,0.7M36.9,17.4l1.5,1.5M56.0,36.9l-1.1,0.5M14.8,12.3l-0.5,1.0M40.4,41.7l0.7,0.8M30.9,9.6l-0.6,1.8M11.6,9.8l1.6,1.6M48.0,50.1l-0.4,1.6M48.0,20.0l1.1,1.9" stroke="#53902a" stroke-width="1.2" stroke-linecap="round" fill="none"/>
<path d="M11.5,31.0l1.0,0.8M29.7,45.9l-1.0,0.3M26.2,19.6l-1.3,1.1M33.2,19.8l1.0,0.9M62.1,39.1l-1.2,0.5M55.3,35.6l0.4,1.3M62.5,39.9l-0.6,1.5M16.7,10.7l1.0,0.4M37.3,46.0l1.9,1.0M40.9,18.8l0.9,1.2M11.0,26.2l1.7,1.3M56.1,12.4l-2.1,0.9M18.7,55.2l-0.3,1.3M32.4,18.5l-0.6,1.3M47.2,39.6l0.7,1.4M34.2,15.8l-1.3,0.2M11.2,17.9l1.6,0.8M55.8,23.3l-0.6,2.1M55.6,53.1l0.2,1.0M36.0,16.8l-1.6,0.8M75.1,37.4l0.2,1.5M5.4,32.4l1.6,0.5M47.7,24.9l2.0,0.7M30.4,14.9l0.0,1.0M75.1,38.4l1.3,1.9M62.0,9.5l0.7,0.8M18.1,13.6l1.5,0.7M78.3,34.8l-1.1,1.3M52.3,39.6l-0.8,2.1M44.8,10.8l0.8,1.2M47.0,31.5l-0.2,2.2M63.4,48.5l0.8,1.1M17.7,15.2l-0.2,2.2M56.1,21.6l1.2,1.1M33.7,37.7l-0.4,1.0M34.2,13.9l0.2,1.6M17.5,5.8l2.0,0.5M67.3,11.4l-1.8,1.1M75.9,29.9l1.0,2.0M28.9,10.6l0.7,0.7M24.9,53.5l-0.7,1.7M45.8,47.3l0.8,0.7M17.9,12.8l-1.3,1.8M52.5,56.0l0.9,0.6M53.2,7.1l2.2,0.1M51.2,19.8l0.7,1.8M65.1,32.8l1.0,0.3M22.8,19.3l1.7,0.8M37.7,34.6l1.5,0.2M51.3,54.4l-1.3,1.3M40.1,46.1l0.4,1.6M47.2,20.8l0.6,0.8M39.8,19.1l1.5,0.9M64.8,25.6l-1.2,1.1M60.9,18.8l2.1,0.5M65.4,47.9l-0.9,1.4M36.1,48.5l-1.3,0.1M65.3,41.1l-1.3,1.2M80.1,17.2l0.4,1.8M8.8,26.9l-1.3,0.9M21.2,35.0l-1.2,1.9M64.3,8.6l0.6,1.4M46.8,39.1l1.8,0.5M55.6,26.1l-1.7,0.1M46.3,6.9l1.7,0.8M70.0,48.9l-1.6,0.1M37.9,37.5l-0.3,1.6M64.9,31.8l-0.3,1.8M16.6,35.4l0.9,1.1M47.3,43.2l0.1,1.2M41.0,12.8l-0.1,1.4M42.4,22.6l-0.8,0.9M65.7,45.7l0.5,1.4M14.1,47.6l-1.6,0.9M30.6,43.4l-1.6,0.8M57.4,19.7l0.7,1.2M69.9,36.9l1.5,0.4M29.7,34.7l1.5,0.4M46.2,7.7l1.1,1.6M48.3,9.4l-0.3,1.1M36.0,49.2l1.2,0.3M55.8,43.8l-0.9,1.0M27.2,4.6l-1.0,2.0M18.6,21.3l1.0,1.0M26.5,7.4l1.3,0.2M73.8,26.1l0.7,0.9M65.9,21.4l2.1,0.5M30.6,9.8l-0.2,1.4M57.6,36.8l1.3,0.0M16.2,48.5l0.7,2.0M31.7,33.7l-1.0,0.1M43.4,12.5l1.0,1.0M49.9,51.8l-0.9,1.8M33.3,22.8l-2.1,0.5M42.4,25.2l-0.6,1.3M37.9,33.2l-1.1,0.2M29.1,29.2l0.9,1.3M22.9,30.9l1.6,0.7M64.8,51.8l1.5,0.6M17.0,46.1l0.0,1.4M36.3,28.2l-1.3,0.1M27.5,47.2l1.4,0.9M59.8,25.5l-1.6,0.8M67.3,43.6l-0.2,1.4M28.6,18.0l-0.3,1.3M11.7,13.5l-0.7,1.8M61.0,17.1l-0.3,1.6M57.1,42.0l0.2,1.7M55.8,51.9l1.2,0.7M41.2,40.2l1.4,0.8M49.1,41.2l-1.9,0.3M14.2,16.7l-0.1,1.1M21.7,50.4l1.0,0.8M70.9,38.0l-2.1,0.2M21.1,23.5l-0.8,0.7M15.1,41.1l0.9,2.0M48.1,11.3l-1.5,0.4M41.8,24.0l-0.4,1.9M45.3,55.1l1.3,1.7M69.3,52.5l2.1,0.1M31.5,37.6l1.4,1.2M40.4,44.7l0.1,1.3M59.6,10.7l-1.8,0.2M69.4,23.3l0.3,1.9M54.5,15.9l1.2,0.4M30.6,27.6l-1.7,0.1M47.6,48.2l-1.1,1.1M46.5,15.0l0.8,1.9M52.8,7.5l0.5,0.9M46.3,11.0l1.9,0.7M51.3,26.0l-0.9,2.0M19.7,22.1l0.1,1.1M80.3,26.9l1.6,0.6M72.4,47.7l-0.9,1.6M46.3,15.1l0.9,1.8M15.3,13.9l-1.2,1.2M9.1,17.7l-1.2,0.6M32.4,31.8l1.1,1.6M45.3,7.6l-1.0,0.9M28.8,18.6l1.5,0.5M66.8,42.3l-1.6,1.2M70.8,41.9l-0.9,0.9M10.3,26.1l0.8,0.9M33.7,16.8l1.4,0.3M6.6,24.9l-1.2,1.9M36.4,50.7l1.0,1.2M21.7,15.3l-1.1,0.0M25.5,53.9l0.3,1.1M59.8,47.0l1.8,1.0M68.9,27.5l1.8,0.3M25.1,17.9l-0.4,1.0M15.1,18.6l-0.1,1.5M67.1,37.4l1.0,0.7M75.7,27.2l1.1,0.0M23.0,17.6l1.5,0.3M51.9,7.2l1.5,1.6M39.1,17.1l-0.4,1.5M70.7,36.0l0.4,1.8M44.8,53.2l0.8,0.9M36.6,20.8l-1.2,1.1M42.0,21.2l0.7,2.1M22.9,22.4l-1.3,1.0M49.0,34.1l2.0,0.8M17.4,43.9l1.9,0.8M74.7,9.5l-2.0,1.0M53.5,51.5l1.4,0.2M45.0,52.1l-2.0,0.1M13.2,16.7l-2.1,0.9M26.4,9.0l1.5,1.4M39.3,50.8l0.8,0.7M17.5,26.0l-1.2,0.7M35.7,45.0l-1.1,1.8M51.0,38.3l-1.3,1.2M49.1,40.3l1.5,0.5M35.0,35.5l0.9,1.6M46.3,24.9l1.3,0.9M28.9,29.9l0.1,1.1M14.0,38.2l1.6,0.1M44.6,7.6l1.0,1.9M46.0,56.8l-0.8,1.1M12.8,29.2l0.5,1.8M65.9,35.0l-0.1,1.4M67.3,10.8l-0.8,0.5M78.7,26.7l0.6,0.8M84.0,16.1l0.7,1.8M50.2,37.6l0.3,2.0M40.2,33.3l0.5,1.1M75.8,42.2l-1.0,0.1M43.0,21.9l-1.4,1.5M63.6,13.5l-1.0,0.4M73.6,23.5l1.1,1.8M11.1,36.3l2.1,0.9M29.4,17.5l-0.9,0.5M40.1,57.8l1.7,0.2M71.1,20.3l0.7,1.8M13.4,21.6l-0.3,1.3M80.1,21.4l-1.8,1.1M19.5,6.0l0.9,0.9M40.3,12.4l1.1,0.4M73.4,26.2l1.0,0.1M53.5,31.5l0.0,1.5M17.0,26.1l-1.0,2.0M37.1,44.6l-0.3,1.0M39.0,14.9l-1.5,0.2M57.4,18.6l1.0,0.4M53.5,12.5l1.0,1.9M69.4,47.1l-1.3,1.7M69.6,42.5l-1.4,0.8M44.5,19.3l0.1,1.8M78.7,22.7l0.8,1.1M71.6,35.1l0.7,2.0M55.3,53.2l0.8,0.6M10.9,28.8l2.0,1.0M34.1,39.6l-0.8,0.9M31.2,31.0l2.0,0.0M54.4,22.6l0.6,1.5M58.2,7.9l0.6,1.9M48.4,54.9l-0.2,1.6M19.3,18.8l-0.6,2.2M37.6,17.0l-0.3,1.8M45.2,36.1l-1.0,0.3M67.9,29.2l-0.4,1.6M18.2,38.3l-1.9,0.3M61.0,20.7l-0.5,1.6M27.6,31.1l-0.9,1.7M43.4,45.1l-0.8,1.5M68.4,37.4l1.7,0.2M48.5,43.5l0.4,1.4M67.4,25.5l-0.5,1.8M36.0,44.7l-0.0,1.0M34.7,36.7l0.4,1.2M52.8,53.3l1.6,1.6M30.3,53.0l-1.0,1.6M72.4,34.0l-1.5,0.8M33.7,23.1l-0.2,2.2M51.5,56.5l0.5,1.9M79.5,32.6l0.0,1.9M40.6,52.1l2.1,0.3M28.1,29.6l2.2,0.3M19.8,21.1l-1.2,0.3M62.7,15.3l0.3,1.7M55.3,34.8l0.5,2.0M59.0,17.5l0.8,1.1M22.5,11.0l1.5,0.2M26.3,20.1l0.2,1.6M18.9,34.9l1.4,0.4M26.8,27.7l0.7,1.3M79.1,32.8l1.0,0.0M29.2,35.9l0.4,1.3M58.6,15.3l1.0,1.3M59.9,57.9l1.6,0.9M75.1,26.1l-0.3,1.2M17.6,8.0l-1.8,0.8M28.0,21.9l-1.0,0.3M78.5,29.1l1.5,0.3M63.5,41.7l1.0,0.7M66.5,33.0l0.6,1.4M27.6,9.9l1.1,1.5M60.5,50.9l1.5,1.2M26.0,4.5l-0.7,1.4M22.0,27.2l-0.1,1.5M59.2,54.7l-0.9,1.2M69.1,48.3l1.2,1.4M13.8,50.4l-0.3,1.3M34.1,29.3l0.0,2.2M28.3,44.2l-1.6,0.6M66.7,52.9l-1.0,0.1M65.7,27.1l0.3,2.3M73.2,20.5l0.9,0.6M44.3,51.1l-1.8,0.5M33.2,17.5l1.7,0.6M43.3,29.4l-0.8,0.8M41.4,11.3l-1.9,0.4M45.8,41.0l0.2,1.9M12.6,43.0l-1.6,0.8M54.7,11.6l0.6,1.7M63.2,44.0l-1.3,0.1M28.7,50.2l1.1,1.6M54.5,12.7l1.7,1.0M85.1,16.6l0.4,1.4M25.2,15.2l-0.9,0.8M53.9,51.5l0.5,0.9M19.3,17.1l-0.6,1.0M57.2,22.0l1.6,0.1M39.3,28.9l-1.4,0.9M20.9,30.4l-0.2,1.7M28.8,54.7l-1.0,0.2M60.0,47.0l1.0,1.3M56.0,19.8l-0.6,1.1M15.8,48.9l1.0,0.4M17.3,26.3l-1.6,1.3M65.7,36.0l1.1,0.9M46.4,6.7l-0.1,1.2M41.4,33.8l-1.6,0.4M42.0,59.1l-0.6,1.0M45.3,26.0l0.4,1.2M26.9,12.7l1.4,0.3M40.8,6.0l-0.7,2.2M28.9,7.9l0.8,1.9M62.2,12.3l1.1,0.6M50.9,19.5l-0.6,0.9M26.9,10.5l1.4,1.2M58.6,18.0l0.3,1.9M75.7,18.2l0.0,1.0M85.4,17.1l0.1,1.8M22.2,33.8l-1.7,0.4M34.6,5.3l-0.1,2.1M71.0,51.0l-1.1,0.4M60.2,22.0l-0.7,1.4M74.8,31.4l-0.7,2.2M37.1,44.4l0.5,0.9M40.0,12.0l1.9,0.6M72.3,23.7l-1.2,1.8M21.2,42.1l1.2,1.7M56.3,42.4l-1.7,0.7M9.9,13.8l-0.3,1.6M74.9,37.6l0.8,1.7M66.1,27.5l-1.5,0.1M55.7,25.1l1.5,0.9M38.3,22.7l-1.5,0.9M23.1,9.7l-1.0,2.0M56.9,48.7l-0.6,1.0M25.1,25.3l-0.4,1.5M30.6,53.7l0.0,1.5M32.8,9.8l-1.0,0.5M25.0,37.6l-0.6,1.0M24.6,16.8l0.1,1.5M56.2,54.8l1.0,1.3M64.9,29.2l1.2,1.4M74.6,28.9l-0.6,1.6M68.2,25.1l0.6,0.9M44.4,35.1l-1.1,0.6M36.5,54.9l1.6,1.5M39.4,21.0l1.0,0.2M47.1,55.4l1.6,0.6M57.2,44.7l-1.0,1.8M39.3,7.9l1.3,0.9M52.8,23.1l0.5,2.1M77.2,24.0l1.4,1.3M30.0,4.7l1.0,1.3M66.7,44.2l-1.5,0.2M58.6,8.9l-0.9,0.7M34.8,28.7l2.0,0.3M54.4,36.5l-1.5,0.8M38.4,26.8l-0.2,1.6M48.4,42.4l-1.3,0.4M56.5,32.1l1.0,0.7M34.9,11.1l-0.4,1.2M70.1,19.3l-0.2,1.4M44.0,7.8l0.7,1.1M18.2,28.2l-1.2,0.7M54.9,48.9l-0.5,1.3M76.7,42.9l1.2,0.3M15.4,45.6l-1.6,0.4M59.0,25.1l0.2,1.1M36.4,40.2l1.2,1.1M72.5,35.0l0.0,1.4M11.3,37.4l0.9,0.5M54.8,52.4l-1.2,0.9M78.0,24.8l0.1,1.3M22.0,16.7l1.9,0.8M75.1,25.3l1.3,1.6M66.8,47.6l-0.7,1.3M53.6,39.0l-1.1,1.9M56.6,22.6l-0.5,1.4M43.5,14.5l-1.5,1.1M53.1,22.8l-1.3,1.3M69.3,42.3l-2.1,0.3M14.3,47.4l-0.6,0.9M53.2,32.1l1.2,0.2M65.5,57.6l-0.2,1.0M6.7,14.5l0.6,1.8M60.8,20.6l0.3,1.1M71.3,36.1l1.1,0.7M63.1,40.9l-0.8,1.8M20.4,48.9l1.6,0.2M67.8,26.7l0.2,2.1M52.7,34.2l0.6,1.5M67.2,51.6l0.5,1.2M29.6,25.1l1.1,0.9M45.0,24.6l-1.5,0.2M9.2,30.8l-1.2,0.7M25.2,16.6l-1.3,0.2M51.6,12.7l0.6,1.0M43.1,13.3l-0.7,1.6M44.8,37.0l0.4,1.7M54.7,53.8l1.2,0.4M48.7,7.0l-0.4,1.2M50.4,35.5l-2.0,0.7M71.4,19.8l-2.2,0.1M39.1,55.9l-1.2,0.5M75.4,27.7l-1.2,0.1M13.2,25.4l0.3,1.0M52.2,27.9l-1.3,0.9M35.7,45.2l1.4,1.5M22.6,39.1l-2.1,0.9M52.9,31.2l-1.9,0.3M63.2,13.7l-1.1,1.4M54.9,42.1l-0.6,1.0M45.1,28.1l-1.8,0.1M68.2,22.4l0.9,1.7M59.0,24.2l0.9,0.7M59.4,17.9l1.2,1.7M63.9,44.2l-0.6,1.5M65.6,21.5l-2.2,0.6M29.9,24.8l0.6,1.3M52.4,23.2l1.7,0.5M34.6,13.9l-0.6,1.3M23.0,55.1l-0.4,2.2M68.3,38.9l1.5,1.2M51.0,31.8l0.3,2.2M48.6,3.2l-1.3,0.2M28.1,33.3l-0.8,1.2M46.8,17.9l0.6,1.1M73.5,31.9l1.2,0.3M65.0,32.4l-1.3,1.3M41.1,36.3l1.3,0.1" stroke="#6ca838" stroke-width="1.2" stroke-linecap="round" fill="none"/>
<path d="M26.9,16.2l-1.8,1.0M17.6,50.6l-1.3,1.0M78.4,39.4l-1.2,1.3M6.7,25.4l-2.0,1.0M27.9,29.8l1.0,1.3M45.3,30.9l0.9,0.7M34.2,58.6l-0.7,2.2M42.2,29.0l1.1,0.2M26.9,15.0l-1.4,1.1M50.5,50.5l-0.4,1.6M65.3,39.3l-0.1,1.1M69.2,20.8l-0.9,0.9M72.3,27.3l0.1,1.2M43.3,22.3l0.1,1.4M67.7,32.7l-1.0,1.4M36.5,22.9l1.3,0.7M24.3,33.4l0.2,1.7M72.9,35.7l-1.6,0.9M15.0,37.7l1.1,1.9M54.3,4.4l0.3,1.2M40.1,18.1l1.8,0.5M86.1,16.4l-0.9,0.7M64.7,40.2l-1.6,1.3M49.3,3.2l0.5,1.4M80.2,18.0l-0.1,1.0M45.8,48.9l-0.6,1.7M65.2,50.8l1.1,0.1M32.4,10.2l1.2,1.0M60.5,35.1l-2.0,0.3M43.1,22.1l-1.4,0.9M69.0,12.3l-2.0,0.4M74.7,12.5l-0.9,0.5M29.8,26.1l1.3,1.0M68.5,27.1l1.7,0.7M43.0,11.1l-1.6,0.3M40.2,7.0l-0.8,1.9M8.9,19.6l0.7,1.3M44.8,45.4l1.1,0.3M42.1,13.4l-0.0,1.7M56.0,23.8l1.9,0.7M57.1,38.2l0.3,2.2M83.7,31.8l-1.3,1.3M75.3,44.7l0.3,1.8M44.9,13.9l0.7,1.6M84.4,29.6l-1.3,1.1M41.8,9.3l-1.2,0.9M75.9,22.9l0.2,1.7M75.1,52.4l1.4,0.1M29.0,47.0l-0.3,1.5M56.1,36.2l1.4,1.2M78.0,27.7l0.4,1.0M32.7,24.4l1.1,0.6M66.7,31.5l1.7,0.4M37.5,49.8l-0.2,1.8M41.3,19.8l-0.6,1.0M35.5,41.7l-1.9,1.0M46.7,47.0l-1.0,1.4M19.9,32.4l-1.5,0.6M81.4,41.9l-0.9,1.8M34.4,19.6l2.3,0.3M46.7,17.1l-0.7,1.3M9.8,21.8l-1.1,1.5M78.4,39.7l-1.0,1.1M56.4,45.4l-0.0,1.9M80.1,28.2l1.1,0.5M68.8,31.5l-0.6,1.5M30.4,36.9l-2.3,0.0M25.2,15.2l0.3,1.4M63.3,18.4l1.8,0.2M29.3,5.6l-0.2,1.3M22.8,21.7l0.9,0.9M73.4,25.9l-0.9,1.7M45.3,41.7l-1.6,1.1M7.1,34.7l-0.6,0.9M54.8,17.1l1.5,1.0M65.0,24.5l1.6,1.6M60.5,42.6l1.5,0.8M29.9,56.2l-0.1,2.2M77.0,19.0l-0.4,2.0M81.0,23.8l1.0,0.2M49.0,45.2l0.9,0.7M43.0,16.2l-1.0,1.1M80.5,12.6l-1.1,0.9M51.8,23.7l-1.3,0.4M71.1,17.5l-1.7,0.1M12.4,31.3l-1.8,0.2M45.6,9.9l0.3,2.2M60.1,44.4l-2.0,0.4M70.5,36.6l1.3,0.1M78.3,49.7l-0.6,1.2M63.6,31.4l-1.1,1.2M58.9,37.7l1.3,1.6M27.2,12.4l2.1,0.6M56.9,37.5l1.5,0.5M29.4,17.6l-0.1,1.1M38.6,24.8l0.1,1.2M67.0,22.2l1.4,1.5M73.5,16.9l1.8,1.3M23.5,49.3l0.4,0.9M71.2,17.0l1.3,0.4M36.9,8.5l-1.0,0.8M71.5,35.0l2.2,0.3M61.1,53.4l1.9,0.8M42.8,3.8l-0.7,1.6M28.7,8.8l1.6,1.1M9.3,46.9l2.2,0.1M26.3,56.9l1.2,0.2M38.4,12.9l-0.9,0.6M59.9,48.1l1.6,0.3M17.5,24.5l-1.6,0.6M69.1,36.5l0.4,2.0M57.1,7.4l0.5,2.0M76.1,23.4l-0.1,2.1M64.8,35.4l-2.1,0.6M46.3,52.3l0.2,2.1M74.0,37.8l1.1,0.7M43.5,45.0l-0.6,1.5M21.2,26.7l2.1,0.5M31.1,57.4l0.8,1.9M26.4,28.1l-1.2,0.8M25.4,39.1l1.5,1.5M50.6,16.0l-1.7,0.7M74.8,25.3l1.9,0.5M16.9,15.4l2.0,0.9M27.7,19.4l-1.1,0.0M37.7,4.4l0.3,2.0M63.9,29.8l-1.6,0.7M35.7,28.8l-1.1,0.1M5.7,40.5l-1.4,0.9M59.6,49.2l-0.5,2.2M83.2,36.5l-1.7,0.5M65.8,17.2l-1.2,0.5M69.7,11.2l1.0,1.9M28.6,22.8l0.3,1.1M34.2,7.3l0.2,1.4M53.0,31.8l0.9,0.8M68.2,53.9l0.3,2.1M62.8,13.5l1.6,0.9M60.8,49.8l0.2,1.7M51.5,28.7l-0.4,1.1M22.8,4.0l0.1,1.3M33.8,16.9l-1.3,1.8M35.5,24.0l-0.9,0.7M69.1,46.0l-0.7,1.2M39.2,47.9l-1.3,1.6M80.4,14.7l2.0,0.2M71.8,10.4l1.7,0.6M30.7,28.1l0.5,1.8M54.9,26.1l-1.4,0.2M52.5,28.4l-1.0,1.1M20.1,20.7l1.9,0.2M39.3,7.0l1.1,0.1M36.8,14.5l1.1,1.6M61.8,38.4l-2.3,0.0M37.4,35.8l-0.6,1.9M70.2,22.9l-1.0,0.2M41.4,24.8l1.3,1.0M65.1,42.3l1.9,0.2M49.1,18.4l0.4,1.3M35.8,27.9l-0.2,1.2M59.2,24.3l1.4,0.6M48.5,22.2l-1.1,1.1M43.7,44.5l1.8,0.6M53.9,6.2l0.2,1.5M70.5,27.2l1.8,0.3M45.3,13.6l0.9,0.9M45.1,23.3l1.7,0.4M65.8,33.9l1.3,1.8M63.4,33.7l0.5,1.4M46.3,10.0l0.1,2.3M22.4,36.9l0.4,1.2M58.1,20.6l1.0,0.2M49.2,50.4l1.0,1.4M69.2,34.4l0.0,1.7M52.5,22.3l-0.8,1.0M15.4,9.2l1.0,0.2M64.8,23.8l-0.8,1.1M65.0,21.5l0.6,0.9M63.9,40.5l0.9,1.6M55.4,15.1l2.2,0.3M48.2,21.2l-0.2,1.4M12.6,20.7l0.6,1.4M38.6,37.2l-1.9,1.0M41.3,29.5l-1.3,0.6M21.9,11.8l-1.1,1.6M32.3,18.2l1.8,0.7M78.6,20.0l-0.3,1.4M61.4,31.3l0.2,2.3M42.3,39.4l-0.6,1.0M53.4,20.1l-1.1,1.2M53.1,11.9l-1.7,1.1M7.6,45.7l1.0,0.5M52.7,30.3l-1.4,0.4M65.8,38.6l-0.9,0.9M65.7,11.6l0.9,1.3M27.5,23.8l-0.3,1.9M40.7,18.5l-0.6,2.0M14.5,15.1l1.1,0.1M73.2,24.0l0.2,1.0M58.2,28.9l1.5,0.5M48.9,45.1l-1.5,0.2M39.6,17.2l0.6,0.8M31.2,16.2l1.8,0.3M41.0,43.2l0.9,2.1M50.0,4.9l-2.1,0.5M10.6,28.0l1.6,1.1M12.1,38.9l0.3,1.2M76.7,34.3l-1.9,1.0M32.9,16.2l-1.1,0.8M44.5,41.3l0.8,1.2M58.5,9.1l-1.8,1.1M68.8,10.1l1.9,0.9M47.2,15.7l1.6,1.1M37.2,38.4l-1.0,0.4M64.8,51.8l1.3,1.7M28.1,14.9l-1.8,0.3M70.7,30.9l-1.2,0.7M71.6,18.3l-0.4,1.2M38.1,17.8l-2.0,0.9M64.9,39.8l1.4,1.3M46.0,56.2l2.0,0.9M22.5,8.8l1.1,1.0M47.9,54.4l0.9,0.8M71.2,13.3l1.6,1.1M53.2,27.4l-1.3,1.2M35.1,11.3l-1.3,1.1M69.0,41.3l0.7,0.7M27.2,51.1l2.1,0.3M63.6,9.0l1.1,1.7M62.3,19.9l-0.5,1.2M54.1,41.0l-1.8,0.1M83.9,21.8l1.6,0.3M70.6,32.7l1.4,1.3M68.7,23.5l-1.5,1.1M23.1,21.3l-0.2,1.1M7.0,32.0l0.3,1.1M48.5,31.6l-1.9,0.6M51.9,16.7l-1.4,1.3M40.7,16.3l-1.8,0.3M64.3,21.4l-1.2,0.3M32.1,19.9l-2.2,0.1M53.5,52.6l-1.6,1.2M50.4,56.8l1.0,0.8M52.3,29.1l1.0,0.3M57.0,27.4l-1.3,1.9M23.9,16.9l0.1,1.9M31.5,53.8l-0.1,1.0M34.9,11.6l0.1,1.2M35.4,6.5l1.3,0.7M68.8,53.3l-2.1,0.7M37.2,19.6l1.8,0.8M81.6,23.3l0.8,0.7M79.7,14.8l-0.2,1.4M78.9,33.9l-2.2,0.5M28.4,9.6l-0.0,1.5M17.2,11.4l0.5,1.9M55.4,41.1l-0.6,1.3M30.5,33.1l-0.3,1.5M32.5,33.6l0.6,1.5M67.6,51.8l-1.7,0.3M53.9,28.7l1.3,1.6M57.7,32.9l1.3,0.6M48.8,27.4l1.1,1.3M55.1,54.1l1.7,1.3M71.5,35.8l0.1,2.3M69.7,51.1l0.4,1.9M20.0,39.7l1.4,0.9" stroke="#88bf4c" stroke-width="1.2" stroke-linecap="round" fill="none"/>
<path d="M40.4,14.7l-1.2,0.5M28.0,7.7l-0.4,2.0M15.5,40.2l1.7,0.0M26.7,14.8l1.1,1.4M61.4,43.4l0.9,1.3M45.3,21.1l0.3,1.0M26.4,26.4l-0.3,1.6M71.1,16.0l-0.6,1.2M52.2,50.9l1.8,1.3M44.5,16.3l-0.7,2.1M15.4,52.1l0.4,1.5M61.5,43.8l0.5,1.6M54.4,56.9l-0.3,1.5M30.0,53.8l0.1,1.2M53.7,15.7l1.6,0.2M57.3,18.2l-0.4,1.1M66.1,26.4l-1.0,1.6M49.6,35.8l-0.0,1.3M14.9,13.8l1.0,1.6M64.6,58.0l1.2,0.0M78.1,33.6l-0.7,1.1M44.2,5.6l-0.5,1.0M29.0,16.1l1.5,0.4M74.5,19.9l-0.1,1.2M59.4,12.1l1.4,1.4M70.2,24.4l-0.5,0.9M35.5,32.5l0.6,1.6M52.2,37.5l1.0,2.1M71.4,40.7l-0.5,2.2M46.9,29.6l-0.7,1.9M47.2,12.9l1.3,1.8M64.0,49.8l1.3,0.5M64.1,29.7l-1.9,0.1M25.2,15.7l0.6,1.4M37.5,49.4l1.7,0.2M45.5,11.8l-0.6,1.2M24.1,12.3l-1.7,0.2M70.7,30.5l1.8,0.9M32.9,26.8l-0.4,2.2M50.2,38.5l-0.1,1.6M68.0,37.7l1.6,0.6M43.7,21.8l-0.9,0.5M62.5,17.4l1.2,0.7M45.9,47.2l0.8,1.8M79.8,20.3l0.1,1.9M53.8,35.8l1.4,0.1M73.5,11.2l0.3,1.3M75.9,16.7l-0.1,2.2M33.4,23.4l1.6,1.5M73.7,45.4l1.1,0.2M72.8,10.0l-0.3,2.0M69.9,35.1l1.1,0.7M45.9,26.8l-0.1,1.7M61.5,9.3l1.2,1.0M13.3,18.6l1.1,1.7M57.9,34.8l1.2,0.5M63.7,27.4l1.3,0.5M27.4,17.8l1.0,0.5M9.0,45.4l0.9,2.0M77.5,19.3l-1.1,0.7M74.5,33.5l-1.1,0.4M68.8,12.8l-0.9,0.8M79.7,27.3l-1.6,1.6M67.4,11.4l-0.4,1.4M13.0,15.2l1.5,1.3M18.4,8.2l-0.5,1.2M78.4,13.3l-1.2,1.9M67.1,13.2l-0.2,1.6M69.1,55.7l-1.8,1.0M63.4,28.2l-0.4,1.6M53.2,39.5l-0.4,1.0M59.4,7.4l0.7,1.8M48.9,17.7l2.0,0.4M37.3,17.6l0.7,1.0M68.5,49.4l-1.4,1.0M73.7,42.2l-0.8,1.9M44.9,17.0l0.9,0.6M33.8,19.2l-1.0,0.2M63.1,41.1l0.5,1.6M57.2,29.3l1.3,0.1M31.6,48.8l-0.1,1.3M15.0,20.4l-0.2,1.6M57.7,16.1l-1.0,1.0M63.4,44.2l1.9,0.7M58.5,28.6l-0.9,0.7M54.7,37.8l-1.9,0.6M71.4,25.6l-0.2,1.4M12.1,24.9l1.1,1.5M62.5,33.7l1.1,0.1M30.5,14.2l0.9,1.5M55.6,35.3l-1.6,1.3M78.6,17.0l0.9,0.5M61.8,29.0l0.7,1.1M46.1,40.1l0.0,1.8M70.3,17.7l-1.5,1.4M26.6,16.2l-0.8,0.7M59.1,13.1l0.5,1.7M53.0,13.1l0.2,1.7M25.4,4.6l0.7,1.0M22.8,5.3l-1.3,1.1M21.1,32.6l-0.7,1.1M63.4,14.8l1.3,0.1M13.1,19.9l-0.8,0.6M83.1,19.2l1.3,0.6M55.8,27.6l1.9,0.1M36.5,10.0l1.8,0.7M58.7,55.2l-0.1,1.9M73.4,18.8l-1.8,0.8M29.2,14.6l0.6,1.1M68.7,22.3l-0.5,1.0M13.9,22.3l-1.8,1.2M74.6,19.5l1.2,1.8M3.9,42.4l-1.1,0.1M66.3,36.7l-2.0,1.0M54.4,24.2l1.0,1.2M74.7,13.6l1.7,0.9M53.8,54.9l0.4,1.8M24.6,18.0l0.3,2.2M52.1,41.8l0.9,0.5M28.2,47.8l-1.7,0.6M8.8,31.1l-1.1,1.5M70.8,25.2l-1.0,0.1M77.4,28.6l-2.0,0.3M27.4,7.6l1.1,0.9M64.9,10.3l1.6,1.6M47.1,11.1l-0.1,1.1M31.3,56.9l-0.2,2.1M81.1,37.8l0.3,1.0M71.4,49.7l2.0,1.0M63.7,18.8l0.8,1.5" stroke="#a5d266" stroke-width="1.2" stroke-linecap="round" fill="none"/>
<path d="M29.5,11.2l0.6,0.9M62.2,25.0l-0.5,1.4M64.0,39.4l1.8,0.1M70.4,16.4l0.5,1.3M54.2,25.3l-1.7,0.0M40.3,16.7l1.5,0.6M41.3,23.3l-2.0,0.6M44.6,11.9l1.4,0.3M73.4,27.6l1.7,0.2M30.9,6.8l-2.0,0.2M63.0,21.8l-1.9,1.0M63.6,16.5l0.8,1.6M78.8,20.6l0.9,2.0M14.1,38.9l1.7,0.7M42.4,32.7l0.5,1.9M70.5,47.7l1.8,0.6M24.7,16.0l0.8,2.1M50.9,23.3l2.0,0.2M30.0,43.5l-0.7,2.1M53.9,25.7l-0.9,1.2M39.7,3.5l0.2,1.7M52.3,25.8l1.9,1.3M26.5,23.3l-1.3,1.0M78.8,24.4l-1.5,0.7M15.6,18.4l-0.9,1.1M20.5,11.1l1.0,1.5M39.4,34.4l-0.5,2.2M68.0,26.6l0.3,2.2M64.8,20.8l0.1,1.5M33.1,13.1l-1.8,0.5M53.8,21.2l1.1,1.0M60.9,32.9l-0.3,1.9M76.1,23.3l0.5,1.4M62.4,34.7l-1.8,0.9M75.3,25.6l-0.2,2.0M64.5,23.7l1.5,1.1M49.6,27.5l-0.3,2.3M61.9,36.5l-1.5,0.3M72.8,17.0l-1.5,0.8M49.2,32.3l0.7,1.2M8.9,34.7l0.7,1.8M44.7,32.1l1.4,0.4M61.0,7.2l-0.0,2.1M48.9,8.2l1.3,0.9M39.9,24.3l-1.4,0.4M40.2,15.6l0.5,2.0M58.0,18.2l0.6,2.1M46.1,50.3l-0.9,0.8M42.1,51.5l-1.3,0.2M62.9,29.2l-2.2,0.3M61.0,44.1l0.7,1.1M38.0,12.5l-0.2,1.0" stroke="#c2e28a" stroke-width="1.2" stroke-linecap="round" fill="none"/>
<path d="M65.2,22.2l2.0,0.5M80.8,24.4l-1.2,0.9M79.1,17.6l-0.5,2.1M63.5,34.1l-1.3,1.2M66.0,41.8l0.0,2.3M42.0,11.3l-0.0,1.4M74.0,15.0l-0.3,1.1M21.2,22.8l0.7,0.7M80.0,42.0l1.6,0.8M72.8,40.7l-0.1,1.9M59.4,10.2l-0.9,1.4M78.7,20.9l0.9,1.7M40.8,20.5l1.4,0.2M75.4,15.9l-1.7,0.3M77.2,34.5l-2.3,0.2M23.0,23.1l0.1,1.8M70.4,37.8l1.3,1.2" stroke="#d9eeb2" stroke-width="1.2" stroke-linecap="round" fill="none"/>
<path d="M26.3,5.5L22.9,0.2M4.2,28.1L-3.8,25.5M74.2,50.9L79.9,53.6M80.7,28.1L87.4,26.4M81.2,26.2L87.7,24.6M77.4,43.6L82.7,44.6M77.1,13.6L80.9,10.0M9.3,46.4L3.7,48.6M78.2,14.3L83.0,10.5M12.9,13.4L8.3,10.3M9.3,46.4L3.0,47.9M13.3,50.7L8.7,52.5M9.4,46.5L4.6,48.6M80.8,16.1L86.7,12.9M4.0,28.6L-0.9,27.6M82.1,22.4L87.9,20.4M73.3,11.2L77.7,7.1M43.3,5.9L43.7,-0.7M10.2,16.7L5.5,13.5M9.4,17.7L4.5,14.6M80.5,28.7L87.4,26.2M80.1,15.7L83.8,13.1M17.4,9.0L12.2,3.3M20.8,6.2L17.1,0.6M8.9,18.3L3.6,14.7M14.6,11.3L9.8,5.9M5.1,26.2L0.5,24.3M17.7,8.8L12.9,3.8M57.5,9.4L60.8,4.0M58.5,9.7L62.3,4.6M81.0,27.0L86.0,24.5M82.7,19.9L89.3,16.0M81.8,23.6L89.0,21.0M8.3,19.2L2.8,16.6M81.5,24.8L87.4,22.5M74.8,49.5L79.9,51.5M74.1,11.5L77.6,7.2M64.6,10.5L69.8,5.2M9.5,46.6L5.6,47.9M78.3,14.4L81.4,11.7M7.6,20.7L1.7,17.5M47.4,6.5L48.8,1.1M8.0,44.2L2.7,45.3M55.4,8.8L58.0,3.0M18.8,7.9L13.8,2.9" stroke="#5d8a45" stroke-width="0.55" fill="none"/>
<path d="M15.7,9.1L11.9,3.3M7.0,45.1L-1.5,44.0M6.1,43.8L-2.4,42.4M80.4,37.1L87.9,34.5M3.5,34.3L-1.7,32.2M18.9,6.5L16.2,1.6M34.4,3.8L33.2,-2.2M70.4,10.5L73.7,5.6M14.4,10.2L10.7,5.1M82.5,16.5L86.9,12.6M16.8,8.2L12.6,1.4M81.3,31.6L87.3,28.7M49.1,5.8L50.4,-2.7M52.9,7.0L54.6,-0.2M17.3,7.8L13.5,1.5M6.0,43.5L0.7,42.5M62.2,9.6L64.5,4.9M9.5,49.0L1.4,49.0M50.3,6.2L51.2,0.5M81.6,29.5L88.8,25.7M77.4,12.8L82.8,6.7M74.4,10.9L78.1,6.2M34.8,3.8L33.4,-3.5M53.9,7.3L55.4,1.7M82.7,25.3L88.2,21.7M77.9,45.6L83.5,45.0M4.1,25.9L-2.7,21.6" stroke="#4f7a38" stroke-width="0.6" fill="none"/>
<path d="M13.5,4.6l0.1,-0.2M12.7,4.3l-0.5,0.8M13.6,5.3l0.6,0.7M1.3,43.8l0.4,0.5M-0.6,44.2l-0.7,-0.5M-0.9,44.7l-0.6,-0.2M1.9,43.4l0.6,0.8M-2.2,41.7l-0.5,0.6M-1.4,42.6l0.4,0.6M88.3,33.8l0.7,-0.5M87.1,34.6l-0.3,0.6M87.2,34.3l-0.3,0.8M-1.3,33.3l0.4,0.7M0.6,33.1l0.3,0.2M0.5,32.6l-0.1,0.1M16.5,3.4l-0.6,-0.4M16.0,2.2l0.3,-0.0M16.4,3.0l-0.7,0.3M34.0,-0.6l-1.0,-0.2M34.0,0.4l0.4,-0.5M33.3,-2.0l-0.1,0.2M72.5,7.6l-1.0,-0.5M74.0,5.5l-1.0,-0.1M73.4,6.4l0.6,0.3M12.4,7.0l0.3,0.5M11.3,5.6l0.3,0.7M10.6,6.2l0.7,-0.3M86.0,13.5l0.5,-0.2M86.3,13.3l0.7,-0.5M86.4,13.3l-0.9,-0.3M13.3,2.9l-0.6,0.1M14.7,3.6l0.2,0.3M12.7,1.2l0.2,-0.2M86.1,29.4l0.9,-0.5M86.5,28.7l-0.1,0.3M86.8,28.7l-0.8,0.3M50.3,0.6l-0.1,-0.2M49.8,-2.0l0.8,-0.7M49.2,0.3l0.4,0.4M54.3,1.0l0.2,0.4M53.6,1.5l-1.0,-0.1M54.1,3.4l0.1,-0.0M14.8,5.4l0.6,-0.1M14.8,3.3l-0.8,-0.6M13.5,2.3l-0.2,0.5M2.5,43.5l0.5,-0.4M2.5,43.5l0.7,-0.8M1.0,42.2l0.2,0.4M64.4,7.4l-1.0,-0.5M63.5,5.6l-0.8,-0.2M64.2,5.1l0.2,0.3M3.8,48.4l0.5,0.0M2.2,49.4l0.5,-0.3M6.0,49.7l-1.0,0.0M50.5,1.1l-0.3,0.0M50.7,1.0l0.6,0.7M51.8,1.0l-0.3,-0.6M86.3,27.5l-0.1,-0.5M85.8,27.2l0.3,0.3M87.1,26.6l0.8,0.0M80.0,9.5l-0.4,0.4M81.0,8.6l0.9,-0.3M81.4,7.5l0.8,-0.1M76.4,8.3l-0.3,0.7M78.2,6.4l0.4,-0.7M77.5,7.9l-0.9,0.1M34.1,-1.2l0.6,0.6M33.4,-0.7l0.2,0.6M33.1,-1.9l-0.3,-0.2M55.0,3.3l0.5,-0.1M55.4,3.1l0.8,-0.2M55.4,3.1l0.9,0.2M85.9,23.0l-1.0,0.5M86.2,24.0l-1.0,0.4M86.3,22.9l-0.9,0.7M80.9,44.4l0.7,-0.7M81.9,45.8l0.1,-0.2M81.4,45.4l-0.7,-0.0M-2.7,20.9l0.7,0.1M-0.3,23.0l-0.9,-0.0M0.3,23.5l-1.0,-0.7" stroke="#78a653" stroke-width="1.1" stroke-linecap="round" fill="none"/>
</g>
<g transform="translate(231.7,549)">
<path d="M24.8,55 C24.1,63 24.1,71 24.8,77.8 Q25.3,79.3 27,79.6 L27.2,85.8 Q27.8,88.9 31.2,89 L57.3,89 Q60.7,88.9 61.3,85.8 L61.5,79.6 Q63.2,79.3 63.7,77.8 C64.4,71 64.4,63 63.7,55 Z" fill="url(#gPot)"/>
<path d="M25.5,78.6 Q44,80.6 63,78.6" stroke="#8a837e" stroke-width="1" fill="none"/>
<path d="M42.5,74.0h.45M60.2,71.0h.45M44.5,74.9h.45M32.4,72.5h.45M49.1,81.5h.45M29.0,65.8h.45M28.9,82.1h.45M51.5,57.3h.45M50.0,75.8h.45M31.4,56.5h.45M45.3,57.9h.45M32.6,63.8h.45M26.6,70.9h.45M42.0,83.1h.45M45.0,76.6h.45M44.2,77.3h.45M42.6,65.0h.45M57.0,78.8h.45M37.3,63.4h.45M36.3,58.3h.45M54.2,68.9h.45M57.2,68.4h.45M25.5,62.8h.45M59.6,71.1h.45M62.3,68.8h.45M28.2,76.3h.45M54.7,64.7h.45M28.8,66.7h.45M29.9,63.9h.45M29.3,57.9h.45M55.4,61.7h.45M46.5,70.4h.45M32.7,79.6h.45M30.4,76.7h.45M29.9,69.5h.45M33.5,64.7h.45M36.9,84.5h.45M33.4,68.7h.45M57.5,76.7h.45M29.3,87.9h.45M33.5,64.3h.45M54.5,66.6h.45M36.6,58.4h.45M28.9,74.8h.45M34.6,75.4h.45M39.4,70.6h.45M61.5,71.6h.45M47.0,83.9h.45M32.4,61.0h.45M59.6,82.3h.45M34.9,62.1h.45M53.2,86.3h.45M32.9,86.6h.45M58.6,75.4h.45M41.3,59.3h.45M34.4,78.7h.45M35.1,82.5h.45M47.9,65.4h.45M32.1,79.2h.45M28.1,63.4h.45M46.5,83.4h.45M48.5,65.0h.45M59.9,62.6h.45M26.1,64.7h.45M42.2,57.9h.45M32.1,67.9h.45M47.0,60.2h.45M39.1,84.7h.45M62.3,77.2h.45M51.4,74.8h.45M30.8,57.1h.45M51.8,87.0h.45M26.3,76.5h.45M43.6,79.5h.45M37.5,88.2h.45M28.3,73.6h.45M53.1,85.0h.45M53.1,78.7h.45M55.2,85.5h.45M38.7,78.1h.45M59.3,84.0h.45M41.1,81.5h.45M57.9,74.4h.45M48.9,68.3h.45M47.4,75.6h.45M28.5,76.6h.45M52.8,68.5h.45M53.1,74.7h.45M42.0,83.0h.45M28.6,80.2h.45M26.6,75.4h.45M43.5,63.4h.45M51.7,72.0h.45M48.5,85.6h.45M35.1,56.4h.45M36.8,77.8h.45M33.1,61.5h.45M59.5,77.3h.45M42.1,84.7h.45M37.8,77.4h.45M32.9,69.9h.45M55.7,85.4h.45M58.5,68.4h.45M47.4,66.2h.45M30.6,72.0h.45M56.9,83.3h.45M52.2,86.6h.45M35.9,61.4h.45M42.4,64.9h.45M33.5,69.3h.45M49.0,71.9h.45M37.3,83.0h.45M62.3,70.6h.45M28.3,57.0h.45M58.2,57.3h.45M52.1,74.4h.45M37.1,81.5h.45M26.2,60.4h.45M42.6,56.8h.45M56.6,63.6h.45M30.8,57.5h.45M49.1,70.4h.45M49.1,77.1h.45M55.8,86.9h.45M51.2,62.4h.45M43.3,61.8h.45M25.9,71.2h.45M52.3,61.8h.45M35.7,67.1h.45M51.6,72.8h.45M48.5,80.3h.45M40.3,81.5h.45M59.5,58.8h.45M60.5,79.3h.45M30.4,70.6h.45M49.0,85.3h.45M39.6,74.3h.45M58.5,81.7h.45M60.9,70.9h.45M49.9,62.6h.45M52.6,82.4h.45M49.6,79.1h.45M33.5,85.0h.45M45.6,81.5h.45M37.5,85.3h.45M57.6,67.2h.45M28.6,70.2h.45M46.1,80.7h.45M43.8,56.9h.45M55.8,58.1h.45M55.5,61.6h.45M38.1,81.4h.45M30.8,60.8h.45M44.9,79.3h.45M57.0,78.2h.45M61.0,71.9h.45M61.1,58.8h.45M33.8,73.0h.45M36.4,79.5h.45M49.5,72.8h.45M57.1,74.0h.45M37.2,68.3h.45M57.2,85.0h.45M33.3,83.4h.45M61.8,72.9h.45M47.0,62.5h.45M45.6,72.2h.45M48.2,56.9h.45M61.9,72.6h.45M40.5,81.8h.45M46.6,71.8h.45M51.4,58.1h.45M45.7,69.3h.45M35.6,71.2h.45M30.3,70.0h.45M56.1,85.0h.45M43.4,66.2h.45M32.7,75.9h.45M60.2,60.2h.45M54.7,56.7h.45M32.8,63.3h.45M51.3,66.4h.45M38.8,76.0h.45M29.4,79.5h.45M30.1,72.4h.45M34.9,62.4h.45M45.4,70.1h.45M39.6,69.3h.45M45.4,61.1h.45M33.2,76.3h.45M49.4,73.1h.45M57.4,75.7h.45M57.6,63.5h.45M53.3,82.1h.45M59.4,66.2h.45M37.3,85.7h.45M33.7,88.1h.45M58.8,60.3h.45M34.5,79.4h.45M35.2,59.1h.45M56.7,69.6h.45M55.1,60.1h.45M40.6,78.1h.45M26.2,62.5h.45M51.1,85.3h.45M61.8,59.7h.45M44.5,80.4h.45M44.4,78.1h.45M32.6,58.3h.45M29.5,57.2h.45M46.2,72.6h.45M46.8,60.7h.45M32.4,62.6h.45M57.0,87.9h.45M60.3,59.1h.45M42.8,80.6h.45M37.8,71.0h.45M44.8,69.8h.45M48.0,56.4h.45M51.8,83.2h.45M32.3,70.6h.45M53.2,69.1h.45M32.8,61.3h.45M44.7,56.5h.45M59.0,81.8h.45M51.9,83.7h.45M49.1,69.0h.45M48.0,72.2h.45M35.2,85.3h.45M53.4,81.1h.45M56.0,69.1h.45M59.1,84.3h.45M51.6,80.7h.45M54.2,69.1h.45M52.6,58.3h.45M38.3,71.1h.45M25.9,67.5h.45M49.5,76.1h.45M34.2,86.4h.45M50.5,66.9h.45M50.2,74.3h.45M45.5,68.5h.45M63.0,76.7h.45M51.8,80.5h.45M62.3,56.7h.45M48.6,79.8h.45M35.1,68.9h.45M27.4,62.3h.45M39.6,59.2h.45M34.9,85.2h.45M46.1,72.4h.45M61.8,74.3h.45M62.8,76.5h.45M55.9,58.5h.45M47.9,80.4h.45M31.5,71.2h.45M31.8,72.0h.45M48.4,57.9h.45M60.9,69.5h.45M45.3,75.3h.45M39.2,65.2h.45M50.1,74.1h.45M36.1,79.1h.45M36.6,56.5h.45M34.7,57.4h.45M31.4,80.3h.45M40.1,84.9h.45M53.6,57.6h.45M28.3,85.2h.45M41.6,71.4h.45M62.0,63.8h.45M45.1,86.2h.45M52.6,71.1h.45M48.1,59.7h.45M48.9,70.7h.45M33.1,57.7h.45M45.3,60.0h.45M42.1,77.5h.45M42.6,64.4h.45M47.3,69.5h.45M54.7,73.1h.45M53.0,63.7h.45M29.8,84.7h.45M54.9,76.1h.45M39.0,64.7h.45M51.2,74.2h.45M47.7,76.4h.45M53.8,62.1h.45M34.8,87.5h.45M59.8,84.3h.45M27.0,58.0h.45M35.7,69.7h.45M48.9,59.3h.45M45.8,58.3h.45M28.7,77.8h.45M46.1,76.3h.45M39.5,71.4h.45M33.4,67.1h.45M53.4,83.0h.45M28.3,59.9h.45M55.8,76.1h.45M54.3,62.9h.45M41.4,64.3h.45M55.9,67.9h.45M50.0,87.9h.45M37.7,73.7h.45M53.5,85.7h.45M41.5,67.9h.45M29.1,84.2h.45M28.4,58.7h.45M46.7,71.6h.45M51.2,65.6h.45M54.6,58.4h.45M33.5,77.3h.45" stroke="#857e79" stroke-width="0.95" stroke-linecap="round" fill="none"/>
<path d="M28.6,65.8h.45M52.7,78.3h.45M36.1,60.6h.45M38.9,79.4h.45M39.2,59.8h.45M52.1,74.3h.45M59.9,86.3h.45M59.8,70.1h.45M55.6,65.8h.45M37.4,68.9h.45M34.8,67.6h.45M39.2,67.7h.45M40.3,68.5h.45M32.8,74.2h.45M55.4,73.4h.45M56.9,74.1h.45M32.1,80.4h.45M58.5,65.1h.45M26.3,72.6h.45M45.9,74.3h.45M61.7,77.0h.45M55.7,58.1h.45M46.0,81.4h.45M28.7,58.6h.45M53.1,85.0h.45M28.7,76.4h.45M30.9,80.0h.45M49.8,63.9h.45M33.8,80.6h.45M45.1,80.6h.45M40.3,66.9h.45M61.8,77.7h.45M44.0,73.3h.45M52.5,78.8h.45M59.8,69.2h.45M56.5,77.5h.45M57.5,82.0h.45M56.8,84.6h.45M61.4,76.6h.45M45.1,78.9h.45M55.6,69.6h.45M41.3,60.7h.45M53.3,87.9h.45M39.6,61.4h.45M33.2,69.7h.45M36.5,87.2h.45M27.7,65.9h.45M29.8,76.9h.45M54.6,61.8h.45M27.8,70.8h.45M47.4,85.3h.45M26.9,59.5h.45M32.4,63.0h.45M34.3,79.1h.45M47.8,63.2h.45M32.4,65.1h.45M32.0,80.4h.45M37.2,73.7h.45M56.1,71.4h.45M35.3,84.6h.45M59.8,67.0h.45M46.0,86.8h.45M43.6,63.1h.45M55.6,68.4h.45M45.3,72.6h.45M35.8,87.9h.45M50.2,63.7h.45M25.9,71.2h.45M39.4,81.7h.45M52.2,75.5h.45M31.4,61.1h.45M37.6,64.4h.45M58.1,72.6h.45M49.4,88.0h.45M35.5,73.2h.45M31.1,80.8h.45M57.2,82.5h.45M28.6,64.7h.45M52.4,59.1h.45M43.5,71.1h.45M61.3,74.9h.45M57.7,65.8h.45M55.1,69.4h.45M59.9,58.9h.45M56.5,62.7h.45M45.9,72.9h.45M31.4,82.8h.45M37.2,66.0h.45M28.4,65.8h.45M43.0,79.0h.45M39.0,78.1h.45M29.5,68.7h.45M42.8,87.1h.45M56.6,77.1h.45M26.0,68.1h.45M52.1,63.6h.45M46.7,70.8h.45M55.5,62.7h.45M48.6,65.4h.45M39.6,73.4h.45M36.7,66.9h.45M40.2,77.5h.45M35.1,62.4h.45M52.9,66.6h.45M60.9,74.1h.45M52.6,66.7h.45M56.5,59.0h.45M30.8,59.0h.45M50.9,78.8h.45M32.2,69.0h.45M56.9,75.1h.45M28.9,63.3h.45M31.4,60.0h.45M40.8,58.3h.45M60.0,69.7h.45M44.7,76.8h.45M54.3,82.4h.45M40.0,66.7h.45M41.0,56.5h.45M40.5,78.5h.45M50.3,75.6h.45M26.2,66.7h.45M38.3,77.0h.45M29.5,68.2h.45M44.6,81.4h.45M56.4,75.7h.45M31.4,80.7h.45M59.4,73.7h.45M38.7,72.1h.45M30.8,79.0h.45M62.5,72.6h.45M52.3,82.9h.45M32.9,86.4h.45M49.0,62.4h.45M28.6,63.9h.45M47.1,78.4h.45M37.8,85.9h.45M39.0,70.9h.45M30.2,87.3h.45M30.6,85.1h.45M45.9,74.1h.45M46.5,64.5h.45M59.6,87.9h.45M56.2,75.4h.45M30.1,82.6h.45M36.3,84.9h.45M34.5,74.5h.45M56.7,62.0h.45M46.0,58.5h.45M26.7,61.8h.45M50.2,65.9h.45M50.7,79.8h.45M39.8,75.1h.45M55.6,56.5h.45M33.0,71.1h.45M30.9,68.4h.45M46.9,61.6h.45M45.0,64.5h.45M46.8,66.7h.45M49.6,57.2h.45M50.7,60.7h.45M61.5,75.3h.45M43.1,69.2h.45M48.9,78.2h.45M53.9,80.2h.45M43.7,88.0h.45M56.9,83.5h.45M40.8,70.0h.45M46.7,85.1h.45M45.2,72.9h.45M41.7,85.1h.45M37.5,57.8h.45M52.7,85.0h.45M53.0,75.2h.45M53.7,65.8h.45M47.8,58.2h.45M30.2,70.4h.45M44.3,68.8h.45M27.4,78.4h.45M45.2,63.7h.45M37.0,68.7h.45M34.3,58.2h.45M59.7,87.1h.45M50.5,83.9h.45M41.3,81.9h.45M33.8,80.0h.45M46.8,85.1h.45M29.2,81.5h.45M30.1,73.3h.45M61.2,56.0h.45M34.6,65.6h.45M37.7,58.0h.45M59.1,82.3h.45M40.4,67.5h.45M47.5,57.5h.45M37.0,72.0h.45M43.2,62.6h.45M36.6,85.7h.45M59.1,62.3h.45M56.9,67.4h.45M43.2,61.5h.45M58.5,88.1h.45M33.1,76.4h.45M32.7,84.3h.45M27.4,59.4h.45M52.7,66.1h.45M59.3,84.0h.45M52.2,60.3h.45M51.6,86.2h.45M42.2,58.5h.45M33.9,65.9h.45M52.1,62.3h.45" stroke="#e4e0dc" stroke-width="0.9" stroke-linecap="round" fill="none"/>
<path d="M32.3,63.6h.45M50.4,81.5h.45M39.5,77.3h.45M58.7,75.0h.45M34.1,65.7h.45M60.3,77.5h.45M35.9,76.6h.45M28.9,87.7h.45M42.0,73.0h.45M45.4,57.5h.45M48.0,65.2h.45M34.9,81.9h.45M28.8,65.2h.45M53.8,63.9h.45M36.0,73.6h.45M32.5,84.9h.45M62.5,57.1h.45M42.8,80.2h.45M39.9,85.9h.45M44.2,61.8h.45M46.4,76.8h.45M39.0,77.2h.45M54.9,72.6h.45M44.5,83.2h.45M51.2,72.8h.45M61.2,61.6h.45M54.7,61.3h.45M48.3,63.6h.45M42.0,80.9h.45M55.0,81.5h.45M34.3,71.7h.45M33.8,74.7h.45M44.2,57.1h.45M47.9,79.0h.45M47.0,84.1h.45M32.3,60.9h.45M26.2,72.0h.45M41.8,70.2h.45M35.4,81.7h.45M28.2,85.2h.45M46.8,73.5h.45M55.2,63.7h.45M31.0,66.0h.45M27.1,66.1h.45M48.8,72.9h.45M35.4,75.0h.45M28.8,82.4h.45M31.9,64.2h.45M31.5,78.2h.45M56.7,81.3h.45M27.8,69.2h.45M39.2,63.0h.45M61.9,57.4h.45M43.9,80.5h.45M62.5,60.7h.45M42.6,80.0h.45M27.0,63.7h.45M58.9,60.6h.45M40.2,65.6h.45M41.4,58.5h.45M54.1,79.6h.45M34.1,64.2h.45M46.2,63.8h.45M42.8,86.0h.45M39.1,66.9h.45M62.3,75.7h.45M27.0,69.0h.45M49.9,57.9h.45M38.4,78.4h.45" stroke="#6a645f" stroke-width="0.8" stroke-linecap="round" fill="none"/>
<polygon points="22.7,8.1 35.3,6.6 47.9,8.1 58.9,11.6 71.5,13.1 80.0,19.3 77.7,29.6 76.2,40.6 71.5,51.6 63.6,55.4 43.2,57.9 22.7,54.9 13.2,48.5 8.5,40.6 6.7,29.6 10.9,20.2 16.4,13.2" fill="#33621f"/>
<path d="M6.8,28.2l1.1,0.6M18.2,27.8l1.4,1.4M30.5,39.2l0.9,0.6M54.2,45.2l0.6,1.8M20.7,55.3l1.4,0.4M35.6,59.1l1.1,0.7M31.9,37.4l-1.6,0.8M44.3,32.1l-1.7,0.9M21.4,37.1l0.0,1.3M56.9,51.1l0.3,1.1M18.5,11.7l0.4,1.3M19.8,12.9l1.9,1.0M27.1,9.4l2.1,0.8M68.5,10.0l0.6,1.3M69.7,46.7l-0.7,1.5M13.1,37.9l-1.4,0.3M37.5,40.4l-2.1,0.4M57.4,41.4l0.2,1.1M60.5,43.5l-1.4,1.7M15.6,25.4l-0.4,1.7M43.3,14.8l2.2,0.5M29.7,16.0l1.4,0.9M42.5,45.7l0.9,0.9M13.3,25.1l-1.4,1.3M78.6,46.0l-2.0,0.1M-0.0,29.6l0.5,1.0M8.3,30.9l-1.2,0.5M61.7,43.3l1.0,0.4M39.2,25.3l-0.9,1.1M29.9,14.6l0.4,1.1M43.3,16.8l-1.9,1.1M16.5,43.4l-1.0,0.9M20.4,39.1l0.8,1.3M33.2,47.0l-1.4,1.7M37.4,52.1l-0.3,2.0M12.6,28.8l-0.4,1.8M54.1,26.7l0.3,1.2M15.2,14.2l-0.6,1.7M16.1,49.1l1.2,1.1M24.2,46.2l-2.0,0.5M23.7,27.9l-2.2,0.1M33.5,55.0l1.5,1.4M53.5,25.1l0.8,1.0M39.2,47.6l1.2,1.6M38.3,52.8l-0.9,0.9M8.2,38.2l1.9,1.0M45.4,16.0l1.3,0.1M58.6,19.3l1.5,0.3M51.9,12.5l1.5,1.6M28.6,35.4l-2.2,0.4M34.2,55.1l0.3,2.0M62.1,27.5l0.1,1.2M44.2,45.2l2.1,0.1M38.9,57.4l0.9,0.9M72.3,29.6l0.4,2.2M57.4,10.5l1.4,0.9M12.7,40.6l1.1,1.7M75.9,40.3l0.2,2.2M39.5,57.4l1.5,1.3M26.4,28.6l-0.3,1.3M39.2,36.5l1.9,0.5M22.7,52.6l0.7,1.0M51.9,41.8l-0.2,1.1M48.6,31.0l0.8,1.0M71.5,52.2l0.8,2.1M9.7,33.3l-0.9,0.5M46.9,26.9l0.3,1.5M18.3,50.5l-0.3,1.3M56.8,47.7l-0.2,2.0M68.8,35.8l-0.6,1.2M17.2,9.4l0.6,1.3M51.6,58.3l0.5,1.1M28.0,25.3l1.5,1.4M13.5,41.4l1.7,1.0M19.1,34.5l-2.1,1.0M16.9,55.8l-0.4,1.1M39.8,40.5l0.9,0.7M58.0,56.8l0.9,0.4M53.3,56.5l-0.8,1.4M50.7,17.6l1.6,0.0M50.8,53.4l-1.4,1.1M15.4,28.6l-1.2,0.4M15.2,30.8l1.6,1.4M10.8,22.7l1.5,0.3M20.3,51.5l-1.0,0.6M13.7,31.1l-1.2,0.3M24.6,38.1l-0.8,1.0M61.1,11.1l-1.5,0.5M19.5,47.5l-0.9,0.7M23.7,16.2l1.2,0.3M8.6,40.0l-0.3,1.0M35.7,52.9l0.6,1.4M36.3,44.0l-2.1,0.7M19.9,24.3l-0.7,1.5M42.9,18.0l0.4,1.4M27.1,29.9l-1.1,1.0M11.5,34.8l0.9,1.1M34.4,31.4l1.3,1.2M26.5,55.6l1.7,1.4M24.4,30.9l0.6,2.0M34.3,13.1l-1.1,0.3M24.8,14.2l0.5,1.2M28.0,54.3l-1.3,1.2M80.0,42.4l-0.1,1.8M7.4,15.3l-0.1,2.0M17.5,29.0l-1.0,1.2M9.5,45.7l0.5,1.1M54.0,55.4l-1.4,0.2M34.7,53.6l-0.3,1.0M22.9,20.9l-1.7,1.0M14.4,51.7l0.1,1.5M11.1,30.8l-1.7,0.3M49.6,33.7l1.1,1.0M28.2,41.0l1.6,0.6M58.5,16.6l0.9,0.7M23.2,53.7l-1.8,0.3M50.5,32.0l1.9,0.8M59.5,51.7l-0.9,1.9M45.6,58.4l1.1,0.3M13.5,53.0l-1.3,0.8M31.7,52.9l1.3,1.5M47.9,17.0l-0.1,1.7M62.2,19.0l0.8,0.9M31.2,40.3l-1.5,0.1M52.6,46.2l1.0,0.6M51.9,54.3l1.6,1.2M23.2,45.7l-0.1,1.9M15.7,25.9l-0.4,1.2M20.7,27.3l0.8,1.8M9.8,19.3l-1.7,0.9M48.9,39.4l1.2,0.7M18.9,48.8l-0.9,0.6M49.9,41.1l1.9,1.0M4.5,33.1l1.0,0.3M33.6,24.8l0.2,1.7M34.5,9.9l-1.5,0.8M4.5,20.4l0.8,1.7M18.2,48.2l-0.0,1.9M31.6,33.3l1.5,0.3M29.9,7.1l-1.9,0.3M6.6,27.1l-0.6,1.3M14.7,54.5l2.1,0.3M39.9,30.3l1.1,0.1M39.3,30.4l1.3,0.6M28.9,35.2l1.8,0.6M23.1,33.2l-0.4,1.0M51.9,31.7l0.1,1.4M78.1,37.8l2.1,0.0M66.9,53.1l-0.1,1.6M30.6,48.3l-0.9,0.8M10.9,42.3l-0.7,1.7M5.9,22.3l-1.0,0.6M41.1,56.9l-0.2,1.2M29.7,33.8l1.5,0.6M42.4,59.7l-1.9,0.4M8.4,23.5l0.4,1.4M19.7,30.8l1.1,0.5M50.1,10.6l-0.2,2.1M18.1,51.6l0.2,1.9M16.2,45.4l2.0,0.5M29.9,51.5l-0.2,1.5M65.6,40.3l-0.2,1.1M73.9,14.1l1.1,1.2M41.8,9.6l1.9,1.1M17.3,39.0l2.0,0.5M20.3,49.4l1.2,0.7M64.5,38.1l1.2,0.4M15.8,29.2l-1.0,0.4M20.6,48.8l-0.8,0.7M3.8,26.7l1.1,1.1M69.5,41.7l-1.5,0.6M26.2,15.3l1.7,1.0M42.4,54.8l1.5,1.6M13.8,30.1l1.5,0.2M6.7,21.7l-1.8,0.8M24.1,56.1l-1.6,0.0M34.3,24.9l-0.2,1.4M39.8,47.5l1.6,0.5M12.4,38.7l0.9,0.8M38.4,30.1l2.2,0.3M63.1,40.7l1.3,0.9M16.0,42.2l0.7,0.8M11.2,32.5l-2.1,0.5M23.6,29.1l-0.9,0.9M37.1,21.4l0.1,1.7M41.6,34.8l-0.6,1.6M30.8,55.1l-1.3,1.1M35.5,24.3l-1.5,0.6M18.1,49.5l0.4,2.0M31.1,49.5l0.7,1.9M16.9,21.8l-1.8,0.2M58.4,24.8l-1.1,0.8M15.1,31.9l0.3,2.0M22.9,53.6l-0.9,1.4M10.4,27.2l-1.2,1.6M12.7,49.7l-0.9,1.5M35.6,45.6l0.5,1.1M20.0,51.0l-0.4,1.7M57.2,20.1l0.3,1.3M36.0,59.0l-1.2,0.1M43.9,31.8l1.0,0.3M52.1,35.1l1.6,0.2M43.2,24.0l1.6,0.2M75.6,29.9l-1.4,0.5M45.2,20.1l-1.5,1.7M60.0,43.3l-1.5,0.9M10.0,32.1l1.6,1.0M31.9,47.7l0.5,1.0M25.1,16.9l-1.1,1.2M26.2,15.1l1.7,1.0M63.7,29.0l-1.6,1.5M31.6,25.4l-0.1,1.1M14.2,24.6l-1.0,0.8M45.1,8.6l1.3,0.7" stroke="#1c3c0d" stroke-width="1.2" stroke-linecap="round" fill="none"/>
<path d="M38.8,20.3l1.1,0.9M8.4,33.8l0.9,1.3M32.2,18.3l0.3,1.0M26.2,16.8l1.1,1.6M50.1,22.3l-0.9,0.7M8.2,40.5l-2.2,0.5M21.4,43.5l1.3,0.5M74.2,47.4l-1.7,1.0M34.2,53.0l-1.6,0.1M47.2,55.2l1.3,0.7M17.7,33.1l-1.3,0.5M39.5,17.8l1.0,1.6M83.0,20.3l-0.9,1.0M13.9,16.8l-0.1,1.5M51.5,54.5l-0.8,1.2M1.6,29.1l-0.1,1.5M75.7,40.5l-0.8,0.6M19.6,33.2l0.2,1.3M11.4,43.1l-1.4,0.2M30.8,17.5l1.8,1.0M16.0,37.9l0.7,1.1M35.0,45.5l-0.4,1.2M51.7,49.1l-1.2,1.6M20.9,32.0l0.0,1.2M16.7,42.4l-0.6,0.9M36.6,44.8l0.2,2.2M30.5,30.0l2.3,0.2M22.1,44.6l1.3,0.8M6.4,46.3l0.9,1.5M13.4,24.4l-1.3,0.1M32.1,14.8l1.8,0.9M59.9,42.7l-0.3,1.7M34.2,37.4l-0.7,1.3M16.8,9.8l-0.8,1.6M19.6,29.2l2.0,1.0M22.8,49.1l-1.8,0.8M67.8,50.7l-0.9,0.8M17.7,49.7l2.1,0.7M5.4,42.8l2.0,0.0M75.0,48.3l0.5,0.9M35.4,51.3l1.7,0.3M33.7,57.0l0.8,0.6M61.3,54.5l-1.7,0.3M56.5,34.2l1.0,1.3M64.7,35.0l-0.6,1.7M47.3,52.5l0.7,0.9M16.9,23.1l-0.4,1.3M38.5,30.1l-1.8,1.0M52.6,22.7l-0.2,1.1M20.3,25.9l2.0,0.9M63.9,51.0l-1.5,0.3M71.6,44.9l-0.8,0.7M14.7,34.1l1.7,0.8M53.2,55.0l-1.1,1.6M22.9,6.1l1.1,1.6M13.6,35.8l1.8,0.7M54.4,34.9l-0.0,1.7M56.9,56.1l-1.6,0.8M53.5,55.9l1.4,0.7M1.3,32.1l2.2,0.1M38.8,30.9l-1.4,0.3M62.7,25.0l1.3,0.9M64.9,43.8l2.1,0.7M30.7,12.0l0.1,1.8M25.8,13.7l-1.0,1.9M72.5,43.9l-1.6,0.7M60.4,17.6l-0.0,1.8M64.1,41.8l1.0,0.4M43.8,19.4l-0.6,1.2M14.0,32.3l1.4,0.1M44.8,14.5l-1.8,0.1M34.7,21.0l-1.4,1.1M13.7,43.7l1.7,0.2M30.1,57.0l1.6,0.9M40.1,44.0l0.6,1.9M39.4,33.0l0.8,1.0M19.4,53.7l-0.8,1.4M17.6,23.8l-1.5,1.6M8.5,21.1l1.0,2.1M22.1,15.2l1.1,0.5M19.9,55.1l0.6,2.0M6.5,19.3l-1.6,1.1M25.3,38.7l-0.5,0.9M41.4,40.8l-1.1,0.7M64.8,53.7l-0.7,1.6M40.6,23.2l-0.2,1.5M6.2,33.0l1.2,0.6M28.8,46.7l-1.3,1.9M67.0,9.3l-2.1,0.4M42.3,47.4l0.8,0.6M27.8,34.0l-1.2,1.8M23.7,55.6l1.4,0.7M20.7,46.8l-0.1,1.2M80.5,31.5l-0.1,1.7M38.2,16.1l-0.7,1.5M2.6,36.9l0.4,1.2M14.5,11.1l0.2,2.0M12.9,18.4l0.2,1.8M42.2,39.0l1.8,1.4M21.1,22.6l-0.6,1.4M38.9,18.4l0.5,1.0M49.7,54.0l-1.6,1.6M50.6,19.8l-1.0,1.5M68.5,10.4l-0.7,0.9M5.7,26.7l0.9,0.9M68.0,48.0l-1.0,1.9M6.9,29.7l-1.1,1.4M17.7,10.9l-1.0,1.3M25.2,15.1l1.8,0.7M27.5,37.1l1.0,0.5M44.2,30.8l1.3,0.5M53.5,32.8l0.2,2.0M14.4,19.5l-1.0,1.4M42.0,22.1l-0.9,0.4M40.0,46.3l-0.1,1.4M32.0,48.7l0.7,0.7M44.4,35.0l-0.8,1.0M22.3,37.1l1.2,0.7M48.9,29.4l1.3,0.6M43.8,3.7l-1.0,2.0M39.7,43.0l-1.3,0.4M21.1,19.6l1.4,0.3M37.3,52.1l0.2,1.3M60.0,43.9l-0.9,1.3M71.2,50.3l-1.7,0.7M50.2,18.9l1.4,1.2M6.4,27.4l1.5,1.7M70.1,14.1l1.5,1.6M15.9,14.3l-0.1,2.2M49.7,42.5l1.0,0.9M2.5,28.6l1.6,0.3M47.6,10.0l-0.2,2.1M43.1,33.9l-0.9,0.9M7.5,27.1l0.5,1.6M24.1,22.3l-1.9,0.6M18.5,18.3l-1.8,1.0M40.1,9.0l-1.1,0.3M52.6,59.5l-1.6,1.3M25.6,11.5l-2.2,0.5M34.3,43.2l1.0,2.0M21.7,32.1l-1.9,0.4M12.1,9.8l1.4,1.3M44.4,9.0l0.7,1.7M34.0,22.2l0.4,1.8M76.6,51.7l1.1,0.5M73.2,48.3l-1.5,0.2M56.2,42.6l1.9,1.1M54.4,48.5l1.7,1.2M16.4,24.4l0.8,1.0M70.0,16.9l-1.4,0.6M32.2,47.9l1.7,0.1M54.9,54.1l0.1,1.1M12.1,22.7l-0.7,0.8M7.4,20.9l0.0,2.0M22.6,2.0l0.4,2.2M19.0,16.1l0.8,0.7M53.6,27.5l0.7,1.6M12.8,33.1l-0.1,2.3M20.6,23.2l-1.8,0.8M21.7,51.9l-1.7,1.4M57.9,48.2l2.0,0.8M36.1,50.6l-1.5,0.5M45.9,49.5l-0.6,1.2M26.6,7.5l-0.4,2.2M11.1,47.6l-1.1,0.4M32.0,54.1l-2.0,0.9M47.8,18.2l-0.5,1.0M70.1,44.6l2.0,1.0M51.7,57.1l1.6,0.0M23.5,40.8l-1.1,1.2M71.8,37.6l-0.7,1.8M50.7,42.1l-1.2,0.9M14.9,40.8l1.5,0.0M28.7,38.7l0.1,1.8M54.4,29.4l1.1,0.2M4.6,29.2l-2.3,0.0M21.3,27.1l1.2,0.0M48.1,13.5l0.0,1.4M29.3,44.1l0.0,1.5M41.5,43.8l-0.5,1.5M10.3,20.3l-0.5,1.4M55.6,40.6l-0.5,1.5M63.7,19.4l2.1,0.5M18.8,24.3l-1.9,1.0M23.2,13.8l1.6,0.4M77.9,26.2l0.3,1.1M56.3,35.3l-1.0,1.1M16.1,27.5l1.3,1.6M29.4,40.3l1.2,0.8M73.4,28.7l-1.7,0.6M14.8,46.6l0.9,1.2M43.3,51.3l1.0,1.3M38.2,25.3l0.3,2.1M6.5,27.6l1.4,0.7M7.4,32.4l0.2,1.9M13.0,38.1l0.1,1.2M19.8,20.5l0.8,0.8M48.0,34.6l0.9,1.0M15.9,45.1l0.8,1.6M18.3,51.5l0.9,1.3M45.9,44.4l1.7,0.1M23.0,47.0l-0.0,1.4M26.4,32.1l-1.0,0.0M49.2,6.8l0.1,1.2M22.2,51.8l-1.4,0.3M75.0,29.6l-2.2,0.7M1.0,37.1l2.2,0.5M33.2,41.8l1.2,0.5M21.3,40.2l-1.2,1.3M16.7,25.8l-1.6,0.8M24.7,19.8l-0.6,2.0M70.3,48.0l0.7,1.0M17.1,16.0l-1.5,0.1M55.7,41.3l1.4,0.7M15.3,27.9l-0.8,0.9M25.6,47.9l-1.5,0.3M10.1,20.8l-0.6,1.6M2.3,37.4l0.1,1.9M38.1,48.4l-1.2,1.6M74.1,37.6l-0.2,1.1M34.0,48.5l-2.0,0.3M36.5,46.9l0.5,1.9M5.2,31.9l1.7,0.9M11.6,37.9l1.0,1.2M60.6,34.4l1.9,0.1M76.5,39.1l0.8,1.9M58.7,14.3l1.1,1.7M28.9,19.5l0.2,1.1M53.3,53.7l-1.0,0.2M47.2,39.4l2.1,0.5M72.5,35.1l1.6,0.5M8.7,18.1l1.6,1.1M70.0,47.5l1.2,0.2M48.6,21.6l-1.8,0.1M26.1,31.3l1.4,1.1M42.4,6.5l-1.4,1.6M64.4,38.5l-1.5,1.0M45.6,45.9l-1.1,0.1M49.4,46.5l0.9,1.1M27.4,18.1l-1.4,0.7M58.2,42.0l-1.3,0.0M18.7,43.1l-1.6,1.0M15.3,22.8l-1.2,1.3M66.8,48.9l1.2,1.7M46.9,20.8l1.1,1.1M72.0,14.2l-0.6,1.1M17.1,15.7l0.9,1.1M22.8,54.3l-0.5,1.8M38.8,15.2l1.3,0.4M27.4,46.7l-1.1,0.2M46.7,47.7l1.6,1.3M27.6,19.8l1.6,1.2M32.7,52.6l1.2,0.8M12.5,14.4l-2.3,0.1M44.0,50.5l1.4,1.7M55.2,37.9l-1.1,1.4M23.4,51.0l-1.7,0.6M47.1,59.8l1.4,0.3M10.2,33.2l0.3,2.2M17.6,48.0l0.8,1.1M8.8,22.1l-0.1,2.0M34.1,46.4l0.7,1.3M18.2,39.9l-0.8,1.4M18.1,16.0l1.5,0.5M36.3,53.2l1.6,0.5" stroke="#2c5b15" stroke-width="1.2" stroke-linecap="round" fill="none"/>
<path d="M31.5,56.3l2.0,1.0M35.9,20.0l0.0,1.4M41.8,33.8l1.4,0.1M32.9,9.5l-0.7,1.6M36.9,50.4l1.0,0.6M38.7,38.4l-0.5,1.7M9.7,25.0l-1.5,1.7M62.7,39.5l-1.3,0.4M22.2,46.4l1.2,1.0M30.0,22.7l0.2,1.1M30.0,34.0l-0.4,1.4M37.0,44.3l0.3,1.5M80.2,25.2l-1.1,1.9M74.6,18.8l0.4,1.8M48.7,31.0l2.0,1.0M21.7,52.3l1.7,0.1M16.9,23.9l-0.0,1.7M23.4,53.2l1.7,0.2M42.1,7.2l1.6,0.4M32.9,16.8l2.0,0.1M11.3,17.3l1.6,0.6M10.5,16.4l-1.6,0.1M50.8,21.6l0.2,1.4M20.4,32.2l0.0,1.6M16.2,49.6l1.5,1.6M18.7,30.2l-0.1,1.2M8.2,30.6l1.1,1.7M76.9,26.8l1.3,0.5M62.9,23.7l1.0,1.5M58.9,38.9l-1.3,1.1M55.1,54.2l0.3,1.2M61.4,40.2l0.7,1.5M14.2,40.9l1.0,1.9M59.5,40.6l-0.3,1.4M61.8,27.2l0.2,1.7M32.4,36.4l-0.4,2.2M39.6,58.6l1.5,1.0M13.1,27.4l-1.8,0.5M78.9,19.8l2.1,0.3M30.8,3.6l0.1,1.0M29.8,42.0l1.4,0.2M58.0,58.5l0.5,1.7M39.2,49.0l-0.3,2.1M22.1,46.0l0.1,1.3M40.3,54.5l-0.5,1.5M23.7,55.9l-0.5,1.0M32.7,37.1l-1.8,1.3M22.8,22.5l-0.7,0.8M69.1,33.4l0.5,1.6M13.4,25.2l1.1,0.5M47.3,33.5l-2.1,0.1M65.9,13.9l0.7,1.4M24.7,23.7l-2.0,0.7M22.9,13.7l-1.7,0.3M17.3,43.6l1.5,0.2M8.6,45.1l-0.9,0.4M52.8,43.6l1.8,0.4M38.6,55.0l1.4,0.1M20.1,40.6l1.6,0.7M45.5,8.7l1.0,1.3M34.1,28.9l0.9,1.8M54.1,52.9l-0.8,1.0M56.4,48.2l1.3,0.6M70.6,32.4l1.4,0.7M18.4,35.1l-0.5,1.3M51.5,15.1l-0.9,1.9M77.4,30.5l-0.9,1.5M48.0,9.0l0.4,2.1M13.9,6.5l-0.1,1.2M54.0,20.1l1.8,0.1M26.6,10.4l0.4,1.9M46.2,31.1l-1.9,0.3M8.2,43.2l0.4,1.3M53.0,22.4l1.1,1.6M74.4,49.9l0.6,1.5M48.2,10.8l-0.3,1.2M57.7,12.7l1.6,1.6M45.7,39.4l1.4,0.4M47.2,57.1l0.4,1.8M34.4,37.8l-0.6,1.1M13.7,44.7l1.2,0.7M10.8,43.4l-2.0,1.0M80.9,17.4l-1.7,0.2M65.4,45.0l-0.8,1.4M52.6,34.9l1.7,0.4M71.9,17.9l-0.5,1.1M80.2,14.2l-1.5,0.1M12.6,24.8l1.5,0.7M10.9,30.9l1.2,0.6M68.3,46.4l-1.0,1.1M11.0,21.5l0.0,2.1M61.8,55.4l-0.2,2.2M23.5,35.5l-1.9,0.6M27.7,7.8l1.3,0.9M65.1,44.0l-2.2,0.2M57.3,9.0l-2.1,1.0M32.3,51.3l0.6,1.3M24.1,16.3l1.6,0.5M31.5,12.1l1.4,1.2M67.0,49.3l-1.0,0.6M28.2,45.9l1.6,0.4M35.6,24.2l-0.1,2.1M60.0,6.3l1.5,1.7M32.5,53.2l-1.2,1.2M61.3,36.1l-0.3,1.5M61.5,46.6l-1.6,0.2M60.6,33.5l-0.4,1.5M39.9,15.2l-0.8,1.6M34.0,55.1l1.8,1.2M40.5,5.9l-1.1,1.2M22.9,21.7l1.7,1.3M23.2,28.4l-0.5,1.7M17.1,43.2l1.0,1.9M53.0,53.1l-0.0,1.5M50.5,55.7l-1.9,0.7M44.6,38.3l0.4,0.9M18.8,45.6l-0.1,1.4M49.9,13.7l-0.8,1.8M21.3,56.2l-1.2,0.9M48.3,39.9l1.5,1.1M37.3,27.6l0.8,0.8M26.0,13.8l0.6,1.2M15.7,48.1l-0.4,1.0M12.3,40.9l-1.9,1.0M47.9,38.1l1.5,1.0M67.2,33.0l0.2,2.3M33.5,7.8l2.2,0.5M45.7,13.0l-1.3,0.9M47.6,43.3l-1.0,0.7M17.3,25.8l-1.2,1.0M13.7,29.5l-0.6,0.9M38.8,17.0l1.8,1.4M24.8,14.4l1.5,0.5M40.7,33.2l-1.9,0.6M77.2,33.0l-0.1,1.4M37.6,35.2l-1.0,0.5M16.4,36.5l0.6,1.2M33.7,8.4l1.2,0.0M19.3,23.4l-1.3,0.4M38.3,48.9l-1.0,2.0M44.5,55.7l-2.2,0.0M20.7,50.7l1.8,0.9M65.7,45.9l0.3,1.6M58.1,30.3l0.9,0.5M51.3,30.8l1.5,0.9M70.3,41.9l-0.6,1.1M10.1,28.3l-1.3,0.5M55.2,35.8l-1.9,1.1M68.2,34.3l1.1,0.9M29.2,11.8l1.0,0.6M39.7,37.0l1.5,1.6M66.8,32.4l1.3,0.9M58.4,30.0l2.1,0.4M38.2,40.4l-1.3,0.2M31.8,48.0l0.6,1.5M35.5,14.1l1.2,1.9M70.7,22.0l-0.5,1.3M15.8,37.6l-1.2,1.1M32.7,21.1l-1.2,0.9M55.4,32.3l-1.5,0.4M8.0,42.7l-1.3,0.9M74.8,13.6l-2.1,0.9M46.1,25.2l-1.8,0.5M29.6,50.5l-0.9,1.5M16.7,33.4l1.8,0.4M13.8,27.3l-1.2,1.7M28.3,52.0l1.3,1.8M62.2,18.6l2.2,0.4M65.4,21.7l2.1,0.0M67.8,20.4l-0.8,1.9M55.7,52.1l-2.1,0.5M14.5,28.3l0.2,1.0M18.4,38.2l-1.4,1.1M58.6,51.2l-1.2,1.3M53.2,18.6l-1.7,1.3M65.3,50.2l-0.1,1.8M43.6,7.2l1.4,0.3M55.7,34.0l0.9,1.7M59.8,49.8l-1.5,0.1M13.3,18.6l-2.1,0.0M52.8,27.2l0.8,0.7M37.8,29.9l-2.2,0.3M19.0,20.7l-1.2,0.2M66.4,13.3l-0.3,2.0M28.9,29.1l1.5,0.7M10.7,16.6l0.1,1.1M59.7,49.7l2.1,0.9M55.3,57.8l-1.0,1.0M75.5,38.4l1.0,1.1M7.4,32.3l-1.2,0.3M62.0,52.7l0.1,1.6M28.0,30.9l1.5,1.1M71.1,50.7l2.0,0.7M33.6,35.2l-1.0,0.5M50.6,55.0l-0.6,2.0M49.7,43.6l-0.6,1.9M78.1,30.5l1.4,1.8M30.1,18.1l0.5,1.2M36.5,11.9l1.1,0.2M17.0,19.2l0.6,1.5M28.1,5.2l-2.3,0.3M43.7,34.2l0.9,2.0M76.0,54.3l-1.0,1.3M50.7,29.1l2.1,0.4M45.1,53.0l-1.5,0.5M39.4,26.2l1.5,0.1M49.4,11.5l-0.2,2.2M5.6,22.2l-1.3,1.0M36.8,44.4l-0.1,1.1M42.4,33.2l-1.8,0.0M28.4,47.2l0.7,0.9M73.4,46.0l-0.8,0.9M45.5,32.3l-1.1,0.9M28.9,12.7l-1.0,0.4M46.5,12.2l1.1,1.9M39.1,29.1l-1.1,0.6M29.4,30.4l-2.1,0.4M39.6,60.9l-1.8,0.0M56.9,10.6l-0.7,1.9M48.6,41.1l-2.1,0.0M24.8,13.0l-0.6,1.5M25.6,57.6l0.7,1.3M70.3,43.0l0.6,1.0M50.9,40.3l2.0,0.2M51.5,8.6l0.1,1.8M24.0,36.5l-1.4,1.1M28.6,49.8l1.5,0.9M54.3,33.9l-2.1,0.6M58.7,42.8l-0.6,1.1M70.2,30.5l0.2,1.2M49.4,38.2l1.2,0.8M27.2,18.2l-0.7,0.9M57.2,53.0l0.6,1.9M39.2,18.9l1.9,1.0M50.6,54.5l-0.8,1.5M32.6,29.5l-0.1,1.6M26.9,41.8l0.1,1.4M6.5,39.6l1.4,0.7M36.1,13.0l0.9,1.9M55.8,22.3l-1.8,0.0M37.5,35.4l-1.2,0.3M80.9,21.9l1.5,1.7M33.6,53.2l1.1,1.1M10.2,40.5l0.6,1.8M10.4,33.8l-1.9,1.0M71.9,16.8l0.4,1.0M48.7,45.8l1.5,0.5M27.1,41.1l1.2,0.1M17.8,5.9l0.8,1.9M40.9,19.3l-2.1,0.5M54.0,29.5l1.8,0.8M76.2,31.3l0.7,1.3M17.4,14.2l-1.0,0.1M20.0,8.7l0.9,0.8M24.8,40.4l-1.5,0.8M51.3,17.2l-1.0,1.8M56.9,45.9l-0.8,1.8M55.7,6.9l-1.8,0.7M12.1,46.3l-1.2,0.1M42.7,49.7l0.7,1.9M25.5,52.4l-0.5,0.9M35.8,26.2l0.6,0.8M9.3,36.3l1.3,0.2M27.4,25.8l-0.9,1.0M19.6,32.6l-0.9,1.7M44.8,11.9l1.6,0.3M79.7,44.6l0.7,0.9M46.8,51.2l-0.3,1.3M66.0,42.5l0.7,1.9M23.1,10.4l-0.1,2.0M12.6,49.1l1.5,0.9M42.1,30.1l-0.5,2.0M16.9,22.5l0.9,1.0M14.7,20.7l-0.6,0.9M13.7,35.0l1.0,1.4M15.9,36.9l-2.0,1.0M67.4,45.7l-0.2,1.5M19.7,40.4l1.8,0.5M29.4,38.8l1.1,1.7M10.2,28.2l-1.7,1.3M46.0,5.2l-0.9,0.7M49.1,24.1l1.1,1.7M23.9,14.2l1.4,1.4M44.8,47.8l0.5,1.9M29.3,45.2l1.7,0.7M42.1,27.8l-1.3,0.0M35.9,25.9l1.0,0.7M63.2,21.2l0.9,0.7M54.1,42.6l-0.3,1.8M71.2,44.0l-0.8,1.3M46.0,42.0l-1.0,1.6M58.8,36.3l1.2,0.8M19.2,36.4l1.5,1.7M10.0,44.5l0.8,0.9M25.0,30.4l-1.1,0.2M24.2,20.1l-1.1,1.3M47.4,18.5l1.6,0.7M32.7,13.6l-0.4,0.9M62.5,51.1l1.2,0.2M15.4,33.3l1.1,1.9M75.7,26.3l0.1,2.2M63.3,11.5l1.8,0.3M38.5,53.3l1.2,1.7M39.3,49.7l1.6,0.7M52.1,41.5l-1.8,0.4M14.3,38.6l1.3,0.6M67.3,28.9l1.4,1.7M31.1,54.0l-1.1,0.8M1.3,34.3l0.2,2.0M64.1,40.4l0.9,0.9M28.7,49.3l1.1,0.8M34.5,3.9l-0.3,1.3M10.1,14.8l-0.6,1.6M38.3,26.8l0.5,1.7M77.6,39.5l1.4,1.0M59.2,20.3l0.4,1.4M6.6,29.8l2.0,1.0M48.7,39.0l-0.4,1.4M20.3,43.7l-0.6,0.8M22.1,51.0l1.1,0.5M42.8,53.2l-0.3,1.3M39.7,23.0l-1.9,0.5M7.5,24.0l-1.0,1.9M62.6,46.7l-0.0,2.1M2.8,34.9l0.9,0.6M42.0,16.3l-0.7,1.4M70.0,42.3l-1.9,0.9M63.6,34.6l1.8,1.1M81.5,12.8l0.5,1.6M65.2,24.8l-0.0,1.6M41.9,26.6l-1.4,0.9M15.1,49.7l1.7,1.4M54.0,41.6l0.7,0.9M65.8,49.0l1.1,1.0M26.6,34.5l-0.6,2.0M71.3,44.6l-0.1,1.4M62.5,36.8l1.2,0.2M36.6,49.6l1.3,0.4M17.5,50.7l0.1,1.3M71.9,34.5l1.3,0.4M18.2,36.2l0.9,1.0M44.2,32.9l-1.7,0.3M66.6,37.1l2.0,0.8M73.5,43.1l0.5,0.9M49.7,8.8l1.0,0.3M13.9,44.6l-1.2,0.8M32.6,51.1l1.9,0.3M31.3,17.8l1.3,1.6M43.4,50.1l-0.6,1.0M52.6,33.2l0.5,0.9M40.5,33.4l0.5,1.3M16.9,39.3l-1.8,0.8M81.3,27.8l-0.9,1.9M63.8,40.3l-1.1,0.8M22.0,42.3l1.6,1.5M45.6,55.1l-0.8,1.0M51.2,25.4l-0.8,0.7M7.3,19.5l0.8,1.1M15.7,41.6l1.1,0.6M46.4,56.8l1.0,2.1M35.9,24.7l-2.1,0.3M52.0,5.9l1.3,1.0M54.7,36.2l0.3,2.1M64.1,53.1l-1.3,0.7M11.4,36.8l-1.5,0.5M40.1,43.5l1.4,0.4M35.8,50.0l1.1,0.8M29.9,24.2l0.5,0.9M33.0,21.7l0.8,0.9M56.6,35.3l0.8,0.8M21.7,15.6l-1.5,0.1M77.6,16.5l-0.2,1.1M64.7,44.0l-1.2,1.4M33.6,46.4l1.0,0.5M43.0,39.5l-1.8,0.7M11.8,34.7l-0.9,1.4M52.9,60.2l-2.3,0.3M37.2,29.4l-1.3,0.5M72.3,40.8l-2.0,0.6M27.8,57.1l1.2,0.3M25.5,34.5l-0.1,1.4M10.4,43.3l0.4,1.3M38.9,42.4l-1.4,0.6M11.2,30.0l0.9,1.2M35.8,41.9l1.1,1.8M30.9,38.1l-1.3,1.9M75.5,38.2l-1.4,1.2M38.9,60.3l0.9,0.6M67.8,31.5l-0.3,1.2M56.0,6.7l-1.5,1.3M20.5,27.4l-0.3,2.0M70.1,23.8l-1.3,0.3M38.8,10.9l-0.2,1.6M55.6,11.1l-1.2,0.7M37.0,22.7l-1.5,1.2M15.3,5.8l-0.8,1.4M67.2,23.8l-0.5,1.1M13.7,24.9l1.5,1.6M21.0,13.5l2.1,0.1M73.8,25.4l1.6,1.3M18.0,19.9l0.2,1.5M55.2,53.7l1.2,0.1M70.2,40.5l-0.2,1.4M13.9,26.6l-1.5,1.6M15.2,36.4l-1.2,0.6M57.7,12.9l-1.3,0.6M11.0,19.2l0.6,1.7M12.9,36.5l-1.4,1.0M58.4,55.6l-1.1,0.1M22.9,35.8l-0.4,2.2M67.4,53.1l1.9,0.3M64.4,29.9l-1.2,1.3M49.5,22.3l-0.5,1.8M33.0,35.4l-1.2,0.1" stroke="#3d771e" stroke-width="1.2" stroke-linecap="round" fill="none"/>
<path d="M29.0,12.3l1.1,0.7M18.9,42.6l1.2,1.5M8.7,20.9l1.6,0.9M35.7,3.8l-0.6,0.8M49.9,18.5l-1.2,1.2M48.2,48.3l-1.3,0.3M7.5,36.0l1.2,1.1M41.6,21.3l-0.3,1.8M23.5,28.3l1.8,1.4M73.7,24.6l-1.1,0.5M27.5,51.8l0.7,2.0M55.1,55.3l-1.3,0.0M8.2,36.1l0.2,1.6M35.8,13.0l-1.4,0.2M14.2,18.2l0.6,1.9M58.3,35.6l-1.3,1.5M48.7,55.9l0.4,1.6M42.8,40.5l-0.9,0.7M38.1,26.2l1.2,1.7M68.3,48.3l1.4,1.0M52.1,43.7l0.0,1.5M61.2,53.9l-1.6,0.3M54.2,18.2l0.9,1.9M48.8,27.1l-0.1,1.5M75.9,27.8l1.0,0.7M27.4,12.6l-1.5,0.7M39.6,44.1l1.4,1.0M20.6,40.3l-0.4,1.9M48.1,60.3l-1.5,1.7M16.5,36.1l-1.4,0.2M52.3,52.5l1.0,0.3M47.5,16.4l-0.4,0.9M20.1,49.0l-0.8,0.7M58.8,36.5l1.6,0.3M12.9,37.1l1.5,0.9M30.0,40.5l-0.3,1.4M64.9,9.0l-1.4,1.6M52.4,28.5l1.2,0.2M53.4,39.6l0.2,1.6M72.8,20.1l0.1,1.5M35.4,34.3l0.2,1.4M47.7,14.9l0.8,1.3M29.0,50.7l-1.1,1.8M18.9,45.0l0.1,1.3M55.6,48.3l2.0,0.5M1.8,31.4l2.0,1.1M40.5,31.9l-1.8,1.0M67.5,49.3l1.1,0.6M18.2,37.6l-1.2,1.0M59.4,16.7l1.4,0.2M65.2,39.0l-0.2,1.7M13.8,43.0l1.5,1.4M57.4,52.2l-1.6,0.9M62.4,50.5l-2.2,0.2M29.8,55.5l0.6,0.8M37.8,48.6l-1.1,0.7M62.0,8.5l0.1,1.4M52.6,26.0l1.6,0.7M69.9,25.7l-2.1,0.9M34.8,49.1l0.2,1.1M74.4,34.7l1.4,1.6M50.7,37.8l1.2,0.2M19.4,37.4l-0.4,1.2M44.3,24.4l1.0,0.9M47.5,45.5l0.6,1.4M63.0,22.4l-0.1,1.5M37.3,37.0l1.3,0.7M52.9,15.3l-0.4,1.3M18.8,51.7l0.5,1.7M72.3,12.4l1.3,0.4M12.6,27.4l-0.5,1.9M17.6,46.6l1.4,0.9M45.4,17.4l0.1,1.7M65.2,38.4l1.5,1.3M72.0,34.7l0.9,0.6M35.3,50.8l-2.1,0.8M48.4,10.0l-0.6,1.6M81.2,14.8l-0.8,1.8M50.6,32.8l0.6,2.1M46.3,43.9l-1.7,0.5M10.2,20.6l-1.0,1.2M40.7,50.8l1.7,0.8M64.2,27.6l1.2,0.2M23.3,6.2l1.0,0.4M40.0,11.5l-0.0,1.9M11.2,28.2l1.2,0.7M58.1,25.2l-1.0,1.0M70.5,33.1l1.4,1.6M14.9,12.2l0.6,0.9M20.8,25.4l1.6,0.1M15.1,34.1l-2.2,0.6M22.7,58.5l-0.8,0.8M38.6,5.6l-1.2,0.4M54.1,9.7l-1.7,1.2M30.9,18.4l1.3,0.3M19.9,31.9l-1.1,1.7M5.7,28.2l0.7,1.5M28.1,26.4l-1.0,2.0M39.3,47.2l-0.5,0.9M13.1,33.2l0.8,1.3M61.3,53.3l-0.1,2.1M14.5,15.0l0.2,1.3M70.9,44.3l2.2,0.2M24.9,48.5l-0.4,1.9M25.7,23.5l1.9,0.6M36.1,3.9l0.0,1.7M54.0,9.6l1.8,0.4M59.6,43.9l-0.1,1.0M27.3,26.2l1.1,0.3M14.9,53.6l-2.2,0.2M63.5,53.0l-1.5,0.3M5.7,41.0l0.4,1.3M75.6,27.5l1.2,0.1M60.6,28.3l0.0,1.5M55.0,28.0l-0.8,0.9M73.6,35.0l0.7,1.0M39.0,40.2l-1.4,0.2M63.1,50.5l-1.8,0.9M24.8,10.5l-1.3,1.7M48.4,30.9l-1.7,0.3M46.0,18.3l0.7,0.8M57.5,17.6l-0.9,1.9M57.7,23.2l1.0,0.3M28.2,10.3l1.7,0.8M45.5,20.8l-0.5,1.2M23.7,46.2l1.2,0.9M24.5,8.0l1.7,0.0M25.3,28.1l-0.3,2.1M46.4,29.0l0.4,1.0M28.5,26.2l1.4,0.9M60.0,47.8l1.7,1.2M54.9,12.7l1.0,0.6M29.0,36.1l-0.1,1.7M74.8,37.2l2.0,0.4M26.4,8.1l-1.3,0.1M9.1,17.8l1.4,1.6M17.0,39.0l0.9,0.6M61.1,17.9l1.6,0.9M26.8,47.1l-0.9,0.8M39.3,31.5l-1.6,0.2M39.5,3.9l1.1,0.8M20.4,26.6l1.1,0.2M12.7,34.7l1.3,1.6M19.7,13.8l0.1,1.9M35.9,54.6l0.5,1.4M54.9,48.7l-0.2,2.1M4.4,44.1l1.1,0.5M16.9,48.4l-0.0,1.7M13.6,15.3l-0.7,1.2M15.5,31.0l-0.3,1.4M30.8,10.7l0.5,1.7M76.3,29.4l-1.1,1.2M60.2,14.1l-0.8,1.7M53.4,32.0l-0.2,1.8M41.2,45.8l1.1,1.5M29.0,30.5l-1.8,0.3M56.8,47.9l-1.1,0.0M18.6,18.8l1.4,0.4M37.6,27.9l0.6,1.9M34.0,53.4l-0.9,1.7M25.7,2.3l0.9,1.3M15.3,23.1l1.4,1.4M25.1,51.7l0.3,2.0M43.5,13.1l0.9,1.6M57.8,49.4l-0.4,1.1M60.6,31.2l1.2,0.5M11.1,20.6l1.1,0.8M36.2,30.6l0.6,2.1M46.8,35.0l1.9,1.0M75.7,22.0l0.1,1.9M83.1,34.5l-0.2,1.2M17.1,30.0l0.9,0.4M49.1,23.5l-1.1,0.3M79.3,15.0l-0.9,2.0M75.3,37.6l-0.3,1.8M35.0,47.4l1.1,0.6M69.3,16.5l-2.0,0.9M54.3,45.6l1.3,1.1M6.3,19.1l-1.0,1.7M60.0,44.7l2.0,1.0M28.6,8.4l0.4,1.6M52.9,57.0l-1.0,0.6M22.9,51.1l-0.9,1.2M45.0,49.5l-1.4,0.6M55.7,55.6l0.8,0.9M46.5,9.2l-1.3,0.3M48.3,42.3l0.1,1.2M28.8,11.7l1.5,0.6M77.8,20.5l1.8,0.1M53.0,46.6l-1.5,0.1M18.5,9.1l-1.4,0.1M47.1,33.4l-0.7,0.8M21.7,7.3l1.5,1.2M51.7,28.8l0.7,1.5M42.2,28.0l-0.3,2.2M30.2,15.8l-1.7,0.8M27.1,8.4l0.0,1.7M4.0,26.0l1.3,1.4M43.4,10.5l-1.7,0.3M38.6,59.8l-1.1,0.5M79.5,16.4l-2.0,0.3M64.3,24.6l1.2,1.3M5.1,39.5l1.0,0.8M44.4,58.1l-0.5,1.3M38.9,57.6l0.2,1.3M15.0,20.2l-1.3,0.1M42.9,25.3l0.4,1.4M66.2,47.8l0.1,1.4M52.9,22.8l-1.9,0.1M8.1,30.6l0.6,1.8M13.5,52.0l2.0,0.3M13.5,20.1l1.0,0.4M28.9,10.6l0.9,0.7M15.0,21.6l1.1,1.0M23.9,26.3l0.6,1.2M36.7,32.9l-1.6,0.3M37.6,45.9l-1.0,1.6M30.9,54.4l0.9,1.5M25.6,56.1l0.8,1.1M46.5,10.8l2.0,0.5M31.5,5.6l0.6,0.8M53.1,30.2l-0.3,2.1M24.8,30.4l-0.3,1.0M32.0,45.8l1.3,0.9M37.9,22.3l-0.2,1.4M37.9,35.2l1.0,0.1M24.1,30.6l1.0,0.0M37.6,22.3l1.9,0.4M45.3,33.8l0.7,1.0M49.6,51.7l-1.5,1.2M21.1,55.1l1.1,0.2M11.8,45.2l-1.6,1.4M8.9,19.3l-0.4,1.5M64.8,39.6l-0.9,0.9M27.0,17.6l1.5,0.2M77.8,49.5l-0.4,1.1M59.5,32.3l0.8,0.8M19.3,11.6l0.6,0.9M27.1,33.5l0.0,2.1M16.3,17.4l-0.5,1.4M12.9,49.8l0.7,0.9M18.5,51.0l-0.3,1.9M30.6,49.6l0.7,1.1M80.3,18.5l1.3,0.8M16.5,45.5l0.4,1.6M18.2,20.2l-1.1,1.2M16.6,40.3l0.2,1.1M19.5,6.8l0.3,1.4M31.5,49.0l0.9,1.9M29.4,37.1l1.7,0.7M47.4,15.6l-2.1,0.1M4.1,31.1l-2.1,0.3M52.2,31.6l-0.9,0.7M35.2,7.9l-0.8,1.8M40.1,47.0l0.9,0.6M55.2,19.0l1.0,1.0M10.4,43.8l2.1,0.8M75.9,44.3l0.3,2.0M38.9,23.5l1.6,0.1M13.1,39.3l-1.2,0.6M34.3,36.2l-0.7,1.6M69.2,28.0l-1.1,0.1M72.8,34.0l1.2,0.4M72.6,39.1l1.8,1.1M68.2,54.2l0.9,0.5M65.2,39.2l1.4,0.7M49.3,15.9l-1.1,0.0M19.9,45.9l0.8,1.2M46.0,33.7l-1.4,1.8M52.8,28.4l-1.3,0.0M35.0,27.8l-0.1,1.4M47.2,43.3l0.5,1.7M13.0,19.9l-0.3,1.0M82.6,21.1l-1.2,1.3M38.3,14.0l-1.2,0.1M39.2,36.1l0.4,2.2M45.2,54.0l-0.6,1.4M4.6,26.4l1.0,1.6M44.0,21.0l1.8,0.3M11.5,12.6l0.3,1.5M45.8,40.3l-1.4,1.2M70.2,19.6l0.4,1.9M10.2,33.1l-1.1,0.4M3.4,20.1l-0.2,2.0M56.0,44.9l1.1,0.8M57.9,32.2l-0.5,1.8M69.6,48.1l0.0,2.2M33.1,49.5l-0.9,1.4M8.1,34.6l1.0,2.0M43.4,18.9l-2.1,0.3M1.2,32.3l0.4,1.8M68.0,45.0l-2.0,0.9M74.4,33.9l0.7,2.1M69.5,46.4l0.8,0.8M22.5,19.2l1.4,0.4M26.5,48.6l1.7,0.1M69.9,47.9l0.2,1.4M54.4,53.7l1.2,1.5M64.1,14.1l-0.4,1.2M62.1,33.7l-0.8,2.0M71.0,47.9l0.9,1.7M30.8,19.6l-0.5,1.9M76.9,30.9l1.3,1.2M58.5,54.7l0.6,1.0M68.2,29.0l-1.3,0.7M38.3,37.7l-2.0,0.4M44.0,26.4l0.1,1.6M44.8,30.3l0.6,0.9M42.0,28.4l-1.1,0.7M34.6,9.6l-1.7,0.0M59.1,40.2l0.6,2.1M69.4,22.2l-0.5,1.3M39.0,56.6l-1.0,0.1M65.1,41.7l2.0,0.4M61.2,37.2l-1.2,0.3M56.8,47.8l-1.3,0.5M16.2,5.3l-0.1,1.3M29.1,12.4l0.0,2.1M45.9,32.2l-2.0,1.0M36.1,22.2l0.2,1.0M75.6,45.1l-1.0,0.7M43.0,22.1l-1.1,0.0M17.0,16.4l-1.2,0.3M81.1,18.4l1.1,1.3M54.5,22.8l1.6,1.4M6.8,28.6l1.6,0.6M74.8,49.5l0.4,1.2M67.7,43.3l0.3,2.2M35.3,32.6l1.2,0.4M57.2,32.8l2.0,0.2M39.1,5.6l-0.1,1.9M15.1,49.3l1.6,0.5M20.5,24.9l-0.8,1.6M20.8,5.2l2.2,0.0M54.3,50.8l-1.2,1.4M12.3,33.9l-1.9,0.9M45.2,8.7l0.7,1.0M19.7,20.4l-1.7,0.3M33.2,19.9l1.8,0.6M58.5,53.7l-1.0,0.2M55.3,26.1l1.6,1.6M20.6,44.5l-0.9,0.9M70.3,44.5l-1.5,0.3M27.2,45.1l-0.5,1.4M24.0,33.5l-1.0,1.6M77.9,46.9l-1.7,0.4M42.2,24.3l-1.0,1.0M36.6,29.0l1.2,0.1M45.7,30.8l1.0,1.6M14.6,31.3l1.5,0.8M13.5,43.5l-1.2,0.2M45.9,41.9l1.2,0.3M45.3,54.4l1.4,0.6M20.0,35.5l0.4,1.1M7.6,17.4l0.2,2.1M44.3,49.2l1.8,0.6M54.4,42.9l1.5,0.4M13.5,44.5l0.0,2.1M65.2,21.3l-1.8,0.1M29.2,17.8l0.2,2.2M66.0,37.8l1.0,0.5M6.8,25.4l-0.3,2.3M73.3,31.0l0.4,0.9M65.0,41.9l-0.6,1.9M41.5,49.7l1.9,0.8M62.6,28.9l-0.7,0.9M50.8,3.2l-1.4,1.4M60.1,18.6l1.0,1.9M48.6,57.7l-0.9,0.7M10.4,33.2l-0.9,0.9M11.6,12.6l-0.3,1.1M46.1,34.1l0.7,0.9M49.7,52.2l-1.2,0.2M47.3,25.4l-0.2,1.3M41.1,26.4l-1.3,1.3M31.6,8.1l1.8,1.4M73.3,48.8l1.8,0.4M28.1,21.5l1.8,1.1M78.5,30.6l-2.0,0.5M42.1,46.2l1.4,1.1M44.6,59.6l-1.2,0.4M21.0,34.5l1.0,1.2M15.2,28.8l-1.4,1.3M12.3,31.6l1.0,0.7M21.7,52.0l-1.0,1.8M25.9,52.8l1.4,0.7M26.3,35.7l-2.0,1.0M67.5,38.8l0.2,2.3M31.0,50.5l1.7,1.5M65.6,48.3l1.1,1.3M35.3,40.8l-1.6,1.5M8.1,24.2l-0.4,2.1M5.6,32.5l-1.0,1.5M73.8,16.6l-0.2,1.1M32.4,32.1l1.2,0.4M17.6,14.8l0.0,1.4M51.7,21.7l0.3,1.0M71.7,42.1l-1.6,0.4M40.9,36.1l-1.2,0.3M27.2,28.2l1.2,1.3M44.3,33.1l0.8,1.5M44.8,35.2l0.7,1.1M77.3,29.4l-0.7,1.5M16.6,48.6l1.0,0.7M57.5,40.2l-2.1,0.3M23.6,43.9l1.2,1.5M22.3,40.7l1.1,0.7M18.3,7.2l-0.2,1.8M32.0,28.6l1.4,1.0M20.1,32.5l1.7,0.2M25.3,44.4l-0.3,1.5M40.8,57.3l1.8,0.8M73.3,31.7l2.0,0.2M51.0,11.6l-1.0,0.1M19.1,24.7l-0.4,2.0M37.8,58.6l1.6,0.6M39.3,26.5l-1.7,1.3M26.3,48.0l2.0,0.1M12.6,28.7l-1.7,1.2M43.5,49.2l-2.2,0.1M51.8,26.8l-0.8,1.7M71.0,24.5l-0.5,2.0M35.3,19.8l-1.5,0.7M50.6,45.8l2.0,1.1M26.5,8.2l-1.8,0.6M13.1,20.8l1.3,1.2M68.0,43.0l-0.4,2.1M17.4,14.2l0.3,1.5M57.8,46.6l-0.4,1.1M12.0,35.1l1.8,1.4M46.1,54.9l1.0,1.4M53.3,44.0l-0.5,1.2M27.0,30.1l1.4,1.7M41.8,14.1l0.8,1.7M51.7,51.2l0.9,1.2M21.8,27.6l0.5,2.2M9.3,38.9l-0.2,1.0M55.1,41.4l-0.8,2.1M50.1,44.6l0.6,1.9M48.6,40.8l1.2,1.3M68.9,28.1l-1.0,0.4M29.9,39.8l1.4,1.7M51.7,16.7l-1.4,0.1M63.6,13.7l0.1,1.0M39.0,57.3l0.8,1.2M70.1,24.3l0.7,0.7M25.6,32.0l0.2,1.0M37.5,13.1l-1.7,1.2M24.4,30.7l1.3,1.9M74.8,21.2l-1.0,0.4M42.6,8.8l-1.0,0.5M11.9,39.0l-0.2,1.3M66.0,9.1l1.2,1.8M41.0,6.6l0.9,1.5M34.1,20.9l1.9,1.2M50.9,25.9l-0.6,1.5M31.1,8.2l1.2,1.0M34.9,1.1l-0.1,1.4M35.1,30.1l1.5,0.8M47.7,8.8l-0.4,1.4M53.2,16.8l-2.1,0.3M48.2,55.3l-0.7,1.8M33.1,47.1l2.2,0.6M60.9,30.1l1.5,0.9M5.6,30.4l1.9,0.1M53.0,49.7l-1.7,0.9M21.3,12.9l1.6,0.6M55.5,27.8l-1.9,1.0M60.5,22.6l-0.6,1.3M2.1,23.5l0.4,2.1M26.2,15.6l0.4,1.4M66.2,40.1l-2.0,0.4M21.1,38.4l0.6,1.7M48.2,6.1l-1.1,1.8M48.4,22.1l-1.5,1.2M21.2,10.8l-0.9,0.7M70.1,48.5l-0.9,1.4M71.2,29.3l-0.9,0.8M49.1,50.9l1.0,0.3M40.0,9.7l1.1,0.8M11.8,19.5l-2.1,0.9M11.9,40.4l-1.7,0.7M36.9,17.4l1.5,1.5M56.0,36.9l-1.1,0.5M14.8,12.3l-0.5,1.0M40.4,41.7l0.7,0.8M30.9,9.6l-0.6,1.8M11.6,9.8l1.6,1.6M48.0,50.1l-0.4,1.6M48.0,20.0l1.1,1.9" stroke="#53902a" stroke-width="1.2" stroke-linecap="round" fill="none"/>
<path d="M11.5,31.0l1.0,0.8M29.7,45.9l-1.0,0.3M26.2,19.6l-1.3,1.1M33.2,19.8l1.0,0.9M62.1,39.1l-1.2,0.5M55.3,35.6l0.4,1.3M62.5,39.9l-0.6,1.5M16.7,10.7l1.0,0.4M37.3,46.0l1.9,1.0M40.9,18.8l0.9,1.2M11.0,26.2l1.7,1.3M56.1,12.4l-2.1,0.9M18.7,55.2l-0.3,1.3M32.4,18.5l-0.6,1.3M47.2,39.6l0.7,1.4M34.2,15.8l-1.3,0.2M11.2,17.9l1.6,0.8M55.8,23.3l-0.6,2.1M55.6,53.1l0.2,1.0M36.0,16.8l-1.6,0.8M75.1,37.4l0.2,1.5M5.4,32.4l1.6,0.5M47.7,24.9l2.0,0.7M30.4,14.9l0.0,1.0M75.1,38.4l1.3,1.9M62.0,9.5l0.7,0.8M18.1,13.6l1.5,0.7M78.3,34.8l-1.1,1.3M52.3,39.6l-0.8,2.1M44.8,10.8l0.8,1.2M47.0,31.5l-0.2,2.2M63.4,48.5l0.8,1.1M17.7,15.2l-0.2,2.2M56.1,21.6l1.2,1.1M33.7,37.7l-0.4,1.0M34.2,13.9l0.2,1.6M17.5,5.8l2.0,0.5M67.3,11.4l-1.8,1.1M75.9,29.9l1.0,2.0M28.9,10.6l0.7,0.7M24.9,53.5l-0.7,1.7M45.8,47.3l0.8,0.7M17.9,12.8l-1.3,1.8M52.5,56.0l0.9,0.6M53.2,7.1l2.2,0.1M51.2,19.8l0.7,1.8M65.1,32.8l1.0,0.3M22.8,19.3l1.7,0.8M37.7,34.6l1.5,0.2M51.3,54.4l-1.3,1.3M40.1,46.1l0.4,1.6M47.2,20.8l0.6,0.8M39.8,19.1l1.5,0.9M64.8,25.6l-1.2,1.1M60.9,18.8l2.1,0.5M65.4,47.9l-0.9,1.4M36.1,48.5l-1.3,0.1M65.3,41.1l-1.3,1.2M80.1,17.2l0.4,1.8M8.8,26.9l-1.3,0.9M21.2,35.0l-1.2,1.9M64.3,8.6l0.6,1.4M46.8,39.1l1.8,0.5M55.6,26.1l-1.7,0.1M46.3,6.9l1.7,0.8M70.0,48.9l-1.6,0.1M37.9,37.5l-0.3,1.6M64.9,31.8l-0.3,1.8M16.6,35.4l0.9,1.1M47.3,43.2l0.1,1.2M41.0,12.8l-0.1,1.4M42.4,22.6l-0.8,0.9M65.7,45.7l0.5,1.4M14.1,47.6l-1.6,0.9M30.6,43.4l-1.6,0.8M57.4,19.7l0.7,1.2M69.9,36.9l1.5,0.4M29.7,34.7l1.5,0.4M46.2,7.7l1.1,1.6M48.3,9.4l-0.3,1.1M36.0,49.2l1.2,0.3M55.8,43.8l-0.9,1.0M27.2,4.6l-1.0,2.0M18.6,21.3l1.0,1.0M26.5,7.4l1.3,0.2M73.8,26.1l0.7,0.9M65.9,21.4l2.1,0.5M30.6,9.8l-0.2,1.4M57.6,36.8l1.3,0.0M16.2,48.5l0.7,2.0M31.7,33.7l-1.0,0.1M43.4,12.5l1.0,1.0M49.9,51.8l-0.9,1.8M33.3,22.8l-2.1,0.5M42.4,25.2l-0.6,1.3M37.9,33.2l-1.1,0.2M29.1,29.2l0.9,1.3M22.9,30.9l1.6,0.7M64.8,51.8l1.5,0.6M17.0,46.1l0.0,1.4M36.3,28.2l-1.3,0.1M27.5,47.2l1.4,0.9M59.8,25.5l-1.6,0.8M67.3,43.6l-0.2,1.4M28.6,18.0l-0.3,1.3M11.7,13.5l-0.7,1.8M61.0,17.1l-0.3,1.6M57.1,42.0l0.2,1.7M55.8,51.9l1.2,0.7M41.2,40.2l1.4,0.8M49.1,41.2l-1.9,0.3M14.2,16.7l-0.1,1.1M21.7,50.4l1.0,0.8M70.9,38.0l-2.1,0.2M21.1,23.5l-0.8,0.7M15.1,41.1l0.9,2.0M48.1,11.3l-1.5,0.4M41.8,24.0l-0.4,1.9M45.3,55.1l1.3,1.7M69.3,52.5l2.1,0.1M31.5,37.6l1.4,1.2M40.4,44.7l0.1,1.3M59.6,10.7l-1.8,0.2M69.4,23.3l0.3,1.9M54.5,15.9l1.2,0.4M30.6,27.6l-1.7,0.1M47.6,48.2l-1.1,1.1M46.5,15.0l0.8,1.9M52.8,7.5l0.5,0.9M46.3,11.0l1.9,0.7M51.3,26.0l-0.9,2.0M19.7,22.1l0.1,1.1M80.3,26.9l1.6,0.6M72.4,47.7l-0.9,1.6M46.3,15.1l0.9,1.8M15.3,13.9l-1.2,1.2M9.1,17.7l-1.2,0.6M32.4,31.8l1.1,1.6M45.3,7.6l-1.0,0.9M28.8,18.6l1.5,0.5M66.8,42.3l-1.6,1.2M70.8,41.9l-0.9,0.9M10.3,26.1l0.8,0.9M33.7,16.8l1.4,0.3M6.6,24.9l-1.2,1.9M36.4,50.7l1.0,1.2M21.7,15.3l-1.1,0.0M25.5,53.9l0.3,1.1M59.8,47.0l1.8,1.0M68.9,27.5l1.8,0.3M25.1,17.9l-0.4,1.0M15.1,18.6l-0.1,1.5M67.1,37.4l1.0,0.7M75.7,27.2l1.1,0.0M23.0,17.6l1.5,0.3M51.9,7.2l1.5,1.6M39.1,17.1l-0.4,1.5M70.7,36.0l0.4,1.8M44.8,53.2l0.8,0.9M36.6,20.8l-1.2,1.1M42.0,21.2l0.7,2.1M22.9,22.4l-1.3,1.0M49.0,34.1l2.0,0.8M17.4,43.9l1.9,0.8M74.7,9.5l-2.0,1.0M53.5,51.5l1.4,0.2M45.0,52.1l-2.0,0.1M13.2,16.7l-2.1,0.9M26.4,9.0l1.5,1.4M39.3,50.8l0.8,0.7M17.5,26.0l-1.2,0.7M35.7,45.0l-1.1,1.8M51.0,38.3l-1.3,1.2M49.1,40.3l1.5,0.5M35.0,35.5l0.9,1.6M46.3,24.9l1.3,0.9M28.9,29.9l0.1,1.1M14.0,38.2l1.6,0.1M44.6,7.6l1.0,1.9M46.0,56.8l-0.8,1.1M12.8,29.2l0.5,1.8M65.9,35.0l-0.1,1.4M67.3,10.8l-0.8,0.5M78.7,26.7l0.6,0.8M84.0,16.1l0.7,1.8M50.2,37.6l0.3,2.0M40.2,33.3l0.5,1.1M75.8,42.2l-1.0,0.1M43.0,21.9l-1.4,1.5M63.6,13.5l-1.0,0.4M73.6,23.5l1.1,1.8M11.1,36.3l2.1,0.9M29.4,17.5l-0.9,0.5M40.1,57.8l1.7,0.2M71.1,20.3l0.7,1.8M13.4,21.6l-0.3,1.3M80.1,21.4l-1.8,1.1M19.5,6.0l0.9,0.9M40.3,12.4l1.1,0.4M73.4,26.2l1.0,0.1M53.5,31.5l0.0,1.5M17.0,26.1l-1.0,2.0M37.1,44.6l-0.3,1.0M39.0,14.9l-1.5,0.2M57.4,18.6l1.0,0.4M53.5,12.5l1.0,1.9M69.4,47.1l-1.3,1.7M69.6,42.5l-1.4,0.8M44.5,19.3l0.1,1.8M78.7,22.7l0.8,1.1M71.6,35.1l0.7,2.0M55.3,53.2l0.8,0.6M10.9,28.8l2.0,1.0M34.1,39.6l-0.8,0.9M31.2,31.0l2.0,0.0M54.4,22.6l0.6,1.5M58.2,7.9l0.6,1.9M48.4,54.9l-0.2,1.6M19.3,18.8l-0.6,2.2M37.6,17.0l-0.3,1.8M45.2,36.1l-1.0,0.3M67.9,29.2l-0.4,1.6M18.2,38.3l-1.9,0.3M61.0,20.7l-0.5,1.6M27.6,31.1l-0.9,1.7M43.4,45.1l-0.8,1.5M68.4,37.4l1.7,0.2M48.5,43.5l0.4,1.4M67.4,25.5l-0.5,1.8M36.0,44.7l-0.0,1.0M34.7,36.7l0.4,1.2M52.8,53.3l1.6,1.6M30.3,53.0l-1.0,1.6M72.4,34.0l-1.5,0.8M33.7,23.1l-0.2,2.2M51.5,56.5l0.5,1.9M79.5,32.6l0.0,1.9M40.6,52.1l2.1,0.3M28.1,29.6l2.2,0.3M19.8,21.1l-1.2,0.3M62.7,15.3l0.3,1.7M55.3,34.8l0.5,2.0M59.0,17.5l0.8,1.1M22.5,11.0l1.5,0.2M26.3,20.1l0.2,1.6M18.9,34.9l1.4,0.4M26.8,27.7l0.7,1.3M79.1,32.8l1.0,0.0M29.2,35.9l0.4,1.3M58.6,15.3l1.0,1.3M59.9,57.9l1.6,0.9M75.1,26.1l-0.3,1.2M17.6,8.0l-1.8,0.8M28.0,21.9l-1.0,0.3M78.5,29.1l1.5,0.3M63.5,41.7l1.0,0.7M66.5,33.0l0.6,1.4M27.6,9.9l1.1,1.5M60.5,50.9l1.5,1.2M26.0,4.5l-0.7,1.4M22.0,27.2l-0.1,1.5M59.2,54.7l-0.9,1.2M69.1,48.3l1.2,1.4M13.8,50.4l-0.3,1.3M34.1,29.3l0.0,2.2M28.3,44.2l-1.6,0.6M66.7,52.9l-1.0,0.1M65.7,27.1l0.3,2.3M73.2,20.5l0.9,0.6M44.3,51.1l-1.8,0.5M33.2,17.5l1.7,0.6M43.3,29.4l-0.8,0.8M41.4,11.3l-1.9,0.4M45.8,41.0l0.2,1.9M12.6,43.0l-1.6,0.8M54.7,11.6l0.6,1.7M63.2,44.0l-1.3,0.1M28.7,50.2l1.1,1.6M54.5,12.7l1.7,1.0M85.1,16.6l0.4,1.4M25.2,15.2l-0.9,0.8M53.9,51.5l0.5,0.9M19.3,17.1l-0.6,1.0M57.2,22.0l1.6,0.1M39.3,28.9l-1.4,0.9M20.9,30.4l-0.2,1.7M28.8,54.7l-1.0,0.2M60.0,47.0l1.0,1.3M56.0,19.8l-0.6,1.1M15.8,48.9l1.0,0.4M17.3,26.3l-1.6,1.3M65.7,36.0l1.1,0.9M46.4,6.7l-0.1,1.2M41.4,33.8l-1.6,0.4M42.0,59.1l-0.6,1.0M45.3,26.0l0.4,1.2M26.9,12.7l1.4,0.3M40.8,6.0l-0.7,2.2M28.9,7.9l0.8,1.9M62.2,12.3l1.1,0.6M50.9,19.5l-0.6,0.9M26.9,10.5l1.4,1.2M58.6,18.0l0.3,1.9M75.7,18.2l0.0,1.0M85.4,17.1l0.1,1.8M22.2,33.8l-1.7,0.4M34.6,5.3l-0.1,2.1M71.0,51.0l-1.1,0.4M60.2,22.0l-0.7,1.4M74.8,31.4l-0.7,2.2M37.1,44.4l0.5,0.9M40.0,12.0l1.9,0.6M72.3,23.7l-1.2,1.8M21.2,42.1l1.2,1.7M56.3,42.4l-1.7,0.7M9.9,13.8l-0.3,1.6M74.9,37.6l0.8,1.7M66.1,27.5l-1.5,0.1M55.7,25.1l1.5,0.9M38.3,22.7l-1.5,0.9M23.1,9.7l-1.0,2.0M56.9,48.7l-0.6,1.0M25.1,25.3l-0.4,1.5M30.6,53.7l0.0,1.5M32.8,9.8l-1.0,0.5M25.0,37.6l-0.6,1.0M24.6,16.8l0.1,1.5M56.2,54.8l1.0,1.3M64.9,29.2l1.2,1.4M74.6,28.9l-0.6,1.6M68.2,25.1l0.6,0.9M44.4,35.1l-1.1,0.6M36.5,54.9l1.6,1.5M39.4,21.0l1.0,0.2M47.1,55.4l1.6,0.6M57.2,44.7l-1.0,1.8M39.3,7.9l1.3,0.9M52.8,23.1l0.5,2.1M77.2,24.0l1.4,1.3M30.0,4.7l1.0,1.3M66.7,44.2l-1.5,0.2M58.6,8.9l-0.9,0.7M34.8,28.7l2.0,0.3M54.4,36.5l-1.5,0.8M38.4,26.8l-0.2,1.6M48.4,42.4l-1.3,0.4M56.5,32.1l1.0,0.7M34.9,11.1l-0.4,1.2M70.1,19.3l-0.2,1.4M44.0,7.8l0.7,1.1M18.2,28.2l-1.2,0.7M54.9,48.9l-0.5,1.3M76.7,42.9l1.2,0.3M15.4,45.6l-1.6,0.4M59.0,25.1l0.2,1.1M36.4,40.2l1.2,1.1M72.5,35.0l0.0,1.4M11.3,37.4l0.9,0.5M54.8,52.4l-1.2,0.9M78.0,24.8l0.1,1.3M22.0,16.7l1.9,0.8M75.1,25.3l1.3,1.6M66.8,47.6l-0.7,1.3M53.6,39.0l-1.1,1.9M56.6,22.6l-0.5,1.4M43.5,14.5l-1.5,1.1M53.1,22.8l-1.3,1.3M69.3,42.3l-2.1,0.3M14.3,47.4l-0.6,0.9M53.2,32.1l1.2,0.2M65.5,57.6l-0.2,1.0M6.7,14.5l0.6,1.8M60.8,20.6l0.3,1.1M71.3,36.1l1.1,0.7M63.1,40.9l-0.8,1.8M20.4,48.9l1.6,0.2M67.8,26.7l0.2,2.1M52.7,34.2l0.6,1.5M67.2,51.6l0.5,1.2M29.6,25.1l1.1,0.9M45.0,24.6l-1.5,0.2M9.2,30.8l-1.2,0.7M25.2,16.6l-1.3,0.2M51.6,12.7l0.6,1.0M43.1,13.3l-0.7,1.6M44.8,37.0l0.4,1.7M54.7,53.8l1.2,0.4M48.7,7.0l-0.4,1.2M50.4,35.5l-2.0,0.7M71.4,19.8l-2.2,0.1M39.1,55.9l-1.2,0.5M75.4,27.7l-1.2,0.1M13.2,25.4l0.3,1.0M52.2,27.9l-1.3,0.9M35.7,45.2l1.4,1.5M22.6,39.1l-2.1,0.9M52.9,31.2l-1.9,0.3M63.2,13.7l-1.1,1.4M54.9,42.1l-0.6,1.0M45.1,28.1l-1.8,0.1M68.2,22.4l0.9,1.7M59.0,24.2l0.9,0.7M59.4,17.9l1.2,1.7M63.9,44.2l-0.6,1.5M65.6,21.5l-2.2,0.6M29.9,24.8l0.6,1.3M52.4,23.2l1.7,0.5M34.6,13.9l-0.6,1.3M23.0,55.1l-0.4,2.2M68.3,38.9l1.5,1.2M51.0,31.8l0.3,2.2M48.6,3.2l-1.3,0.2M28.1,33.3l-0.8,1.2M46.8,17.9l0.6,1.1M73.5,31.9l1.2,0.3M65.0,32.4l-1.3,1.3M41.1,36.3l1.3,0.1" stroke="#6ca838" stroke-width="1.2" stroke-linecap="round" fill="none"/>
<path d="M26.9,16.2l-1.8,1.0M17.6,50.6l-1.3,1.0M78.4,39.4l-1.2,1.3M6.7,25.4l-2.0,1.0M27.9,29.8l1.0,1.3M45.3,30.9l0.9,0.7M34.2,58.6l-0.7,2.2M42.2,29.0l1.1,0.2M26.9,15.0l-1.4,1.1M50.5,50.5l-0.4,1.6M65.3,39.3l-0.1,1.1M69.2,20.8l-0.9,0.9M72.3,27.3l0.1,1.2M43.3,22.3l0.1,1.4M67.7,32.7l-1.0,1.4M36.5,22.9l1.3,0.7M24.3,33.4l0.2,1.7M72.9,35.7l-1.6,0.9M15.0,37.7l1.1,1.9M54.3,4.4l0.3,1.2M40.1,18.1l1.8,0.5M86.1,16.4l-0.9,0.7M64.7,40.2l-1.6,1.3M49.3,3.2l0.5,1.4M80.2,18.0l-0.1,1.0M45.8,48.9l-0.6,1.7M65.2,50.8l1.1,0.1M32.4,10.2l1.2,1.0M60.5,35.1l-2.0,0.3M43.1,22.1l-1.4,0.9M69.0,12.3l-2.0,0.4M74.7,12.5l-0.9,0.5M29.8,26.1l1.3,1.0M68.5,27.1l1.7,0.7M43.0,11.1l-1.6,0.3M40.2,7.0l-0.8,1.9M8.9,19.6l0.7,1.3M44.8,45.4l1.1,0.3M42.1,13.4l-0.0,1.7M56.0,23.8l1.9,0.7M57.1,38.2l0.3,2.2M83.7,31.8l-1.3,1.3M75.3,44.7l0.3,1.8M44.9,13.9l0.7,1.6M84.4,29.6l-1.3,1.1M41.8,9.3l-1.2,0.9M75.9,22.9l0.2,1.7M75.1,52.4l1.4,0.1M29.0,47.0l-0.3,1.5M56.1,36.2l1.4,1.2M78.0,27.7l0.4,1.0M32.7,24.4l1.1,0.6M66.7,31.5l1.7,0.4M37.5,49.8l-0.2,1.8M41.3,19.8l-0.6,1.0M35.5,41.7l-1.9,1.0M46.7,47.0l-1.0,1.4M19.9,32.4l-1.5,0.6M81.4,41.9l-0.9,1.8M34.4,19.6l2.3,0.3M46.7,17.1l-0.7,1.3M9.8,21.8l-1.1,1.5M78.4,39.7l-1.0,1.1M56.4,45.4l-0.0,1.9M80.1,28.2l1.1,0.5M68.8,31.5l-0.6,1.5M30.4,36.9l-2.3,0.0M25.2,15.2l0.3,1.4M63.3,18.4l1.8,0.2M29.3,5.6l-0.2,1.3M22.8,21.7l0.9,0.9M73.4,25.9l-0.9,1.7M45.3,41.7l-1.6,1.1M7.1,34.7l-0.6,0.9M54.8,17.1l1.5,1.0M65.0,24.5l1.6,1.6M60.5,42.6l1.5,0.8M29.9,56.2l-0.1,2.2M77.0,19.0l-0.4,2.0M81.0,23.8l1.0,0.2M49.0,45.2l0.9,0.7M43.0,16.2l-1.0,1.1M80.5,12.6l-1.1,0.9M51.8,23.7l-1.3,0.4M71.1,17.5l-1.7,0.1M12.4,31.3l-1.8,0.2M45.6,9.9l0.3,2.2M60.1,44.4l-2.0,0.4M70.5,36.6l1.3,0.1M78.3,49.7l-0.6,1.2M63.6,31.4l-1.1,1.2M58.9,37.7l1.3,1.6M27.2,12.4l2.1,0.6M56.9,37.5l1.5,0.5M29.4,17.6l-0.1,1.1M38.6,24.8l0.1,1.2M67.0,22.2l1.4,1.5M73.5,16.9l1.8,1.3M23.5,49.3l0.4,0.9M71.2,17.0l1.3,0.4M36.9,8.5l-1.0,0.8M71.5,35.0l2.2,0.3M61.1,53.4l1.9,0.8M42.8,3.8l-0.7,1.6M28.7,8.8l1.6,1.1M9.3,46.9l2.2,0.1M26.3,56.9l1.2,0.2M38.4,12.9l-0.9,0.6M59.9,48.1l1.6,0.3M17.5,24.5l-1.6,0.6M69.1,36.5l0.4,2.0M57.1,7.4l0.5,2.0M76.1,23.4l-0.1,2.1M64.8,35.4l-2.1,0.6M46.3,52.3l0.2,2.1M74.0,37.8l1.1,0.7M43.5,45.0l-0.6,1.5M21.2,26.7l2.1,0.5M31.1,57.4l0.8,1.9M26.4,28.1l-1.2,0.8M25.4,39.1l1.5,1.5M50.6,16.0l-1.7,0.7M74.8,25.3l1.9,0.5M16.9,15.4l2.0,0.9M27.7,19.4l-1.1,0.0M37.7,4.4l0.3,2.0M63.9,29.8l-1.6,0.7M35.7,28.8l-1.1,0.1M5.7,40.5l-1.4,0.9M59.6,49.2l-0.5,2.2M83.2,36.5l-1.7,0.5M65.8,17.2l-1.2,0.5M69.7,11.2l1.0,1.9M28.6,22.8l0.3,1.1M34.2,7.3l0.2,1.4M53.0,31.8l0.9,0.8M68.2,53.9l0.3,2.1M62.8,13.5l1.6,0.9M60.8,49.8l0.2,1.7M51.5,28.7l-0.4,1.1M22.8,4.0l0.1,1.3M33.8,16.9l-1.3,1.8M35.5,24.0l-0.9,0.7M69.1,46.0l-0.7,1.2M39.2,47.9l-1.3,1.6M80.4,14.7l2.0,0.2M71.8,10.4l1.7,0.6M30.7,28.1l0.5,1.8M54.9,26.1l-1.4,0.2M52.5,28.4l-1.0,1.1M20.1,20.7l1.9,0.2M39.3,7.0l1.1,0.1M36.8,14.5l1.1,1.6M61.8,38.4l-2.3,0.0M37.4,35.8l-0.6,1.9M70.2,22.9l-1.0,0.2M41.4,24.8l1.3,1.0M65.1,42.3l1.9,0.2M49.1,18.4l0.4,1.3M35.8,27.9l-0.2,1.2M59.2,24.3l1.4,0.6M48.5,22.2l-1.1,1.1M43.7,44.5l1.8,0.6M53.9,6.2l0.2,1.5M70.5,27.2l1.8,0.3M45.3,13.6l0.9,0.9M45.1,23.3l1.7,0.4M65.8,33.9l1.3,1.8M63.4,33.7l0.5,1.4M46.3,10.0l0.1,2.3M22.4,36.9l0.4,1.2M58.1,20.6l1.0,0.2M49.2,50.4l1.0,1.4M69.2,34.4l0.0,1.7M52.5,22.3l-0.8,1.0M15.4,9.2l1.0,0.2M64.8,23.8l-0.8,1.1M65.0,21.5l0.6,0.9M63.9,40.5l0.9,1.6M55.4,15.1l2.2,0.3M48.2,21.2l-0.2,1.4M12.6,20.7l0.6,1.4M38.6,37.2l-1.9,1.0M41.3,29.5l-1.3,0.6M21.9,11.8l-1.1,1.6M32.3,18.2l1.8,0.7M78.6,20.0l-0.3,1.4M61.4,31.3l0.2,2.3M42.3,39.4l-0.6,1.0M53.4,20.1l-1.1,1.2M53.1,11.9l-1.7,1.1M7.6,45.7l1.0,0.5M52.7,30.3l-1.4,0.4M65.8,38.6l-0.9,0.9M65.7,11.6l0.9,1.3M27.5,23.8l-0.3,1.9M40.7,18.5l-0.6,2.0M14.5,15.1l1.1,0.1M73.2,24.0l0.2,1.0M58.2,28.9l1.5,0.5M48.9,45.1l-1.5,0.2M39.6,17.2l0.6,0.8M31.2,16.2l1.8,0.3M41.0,43.2l0.9,2.1M50.0,4.9l-2.1,0.5M10.6,28.0l1.6,1.1M12.1,38.9l0.3,1.2M76.7,34.3l-1.9,1.0M32.9,16.2l-1.1,0.8M44.5,41.3l0.8,1.2M58.5,9.1l-1.8,1.1M68.8,10.1l1.9,0.9M47.2,15.7l1.6,1.1M37.2,38.4l-1.0,0.4M64.8,51.8l1.3,1.7M28.1,14.9l-1.8,0.3M70.7,30.9l-1.2,0.7M71.6,18.3l-0.4,1.2M38.1,17.8l-2.0,0.9M64.9,39.8l1.4,1.3M46.0,56.2l2.0,0.9M22.5,8.8l1.1,1.0M47.9,54.4l0.9,0.8M71.2,13.3l1.6,1.1M53.2,27.4l-1.3,1.2M35.1,11.3l-1.3,1.1M69.0,41.3l0.7,0.7M27.2,51.1l2.1,0.3M63.6,9.0l1.1,1.7M62.3,19.9l-0.5,1.2M54.1,41.0l-1.8,0.1M83.9,21.8l1.6,0.3M70.6,32.7l1.4,1.3M68.7,23.5l-1.5,1.1M23.1,21.3l-0.2,1.1M7.0,32.0l0.3,1.1M48.5,31.6l-1.9,0.6M51.9,16.7l-1.4,1.3M40.7,16.3l-1.8,0.3M64.3,21.4l-1.2,0.3M32.1,19.9l-2.2,0.1M53.5,52.6l-1.6,1.2M50.4,56.8l1.0,0.8M52.3,29.1l1.0,0.3M57.0,27.4l-1.3,1.9M23.9,16.9l0.1,1.9M31.5,53.8l-0.1,1.0M34.9,11.6l0.1,1.2M35.4,6.5l1.3,0.7M68.8,53.3l-2.1,0.7M37.2,19.6l1.8,0.8M81.6,23.3l0.8,0.7M79.7,14.8l-0.2,1.4M78.9,33.9l-2.2,0.5M28.4,9.6l-0.0,1.5M17.2,11.4l0.5,1.9M55.4,41.1l-0.6,1.3M30.5,33.1l-0.3,1.5M32.5,33.6l0.6,1.5M67.6,51.8l-1.7,0.3M53.9,28.7l1.3,1.6M57.7,32.9l1.3,0.6M48.8,27.4l1.1,1.3M55.1,54.1l1.7,1.3M71.5,35.8l0.1,2.3M69.7,51.1l0.4,1.9M20.0,39.7l1.4,0.9" stroke="#88bf4c" stroke-width="1.2" stroke-linecap="round" fill="none"/>
<path d="M40.4,14.7l-1.2,0.5M28.0,7.7l-0.4,2.0M15.5,40.2l1.7,0.0M26.7,14.8l1.1,1.4M61.4,43.4l0.9,1.3M45.3,21.1l0.3,1.0M26.4,26.4l-0.3,1.6M71.1,16.0l-0.6,1.2M52.2,50.9l1.8,1.3M44.5,16.3l-0.7,2.1M15.4,52.1l0.4,1.5M61.5,43.8l0.5,1.6M54.4,56.9l-0.3,1.5M30.0,53.8l0.1,1.2M53.7,15.7l1.6,0.2M57.3,18.2l-0.4,1.1M66.1,26.4l-1.0,1.6M49.6,35.8l-0.0,1.3M14.9,13.8l1.0,1.6M64.6,58.0l1.2,0.0M78.1,33.6l-0.7,1.1M44.2,5.6l-0.5,1.0M29.0,16.1l1.5,0.4M74.5,19.9l-0.1,1.2M59.4,12.1l1.4,1.4M70.2,24.4l-0.5,0.9M35.5,32.5l0.6,1.6M52.2,37.5l1.0,2.1M71.4,40.7l-0.5,2.2M46.9,29.6l-0.7,1.9M47.2,12.9l1.3,1.8M64.0,49.8l1.3,0.5M64.1,29.7l-1.9,0.1M25.2,15.7l0.6,1.4M37.5,49.4l1.7,0.2M45.5,11.8l-0.6,1.2M24.1,12.3l-1.7,0.2M70.7,30.5l1.8,0.9M32.9,26.8l-0.4,2.2M50.2,38.5l-0.1,1.6M68.0,37.7l1.6,0.6M43.7,21.8l-0.9,0.5M62.5,17.4l1.2,0.7M45.9,47.2l0.8,1.8M79.8,20.3l0.1,1.9M53.8,35.8l1.4,0.1M73.5,11.2l0.3,1.3M75.9,16.7l-0.1,2.2M33.4,23.4l1.6,1.5M73.7,45.4l1.1,0.2M72.8,10.0l-0.3,2.0M69.9,35.1l1.1,0.7M45.9,26.8l-0.1,1.7M61.5,9.3l1.2,1.0M13.3,18.6l1.1,1.7M57.9,34.8l1.2,0.5M63.7,27.4l1.3,0.5M27.4,17.8l1.0,0.5M9.0,45.4l0.9,2.0M77.5,19.3l-1.1,0.7M74.5,33.5l-1.1,0.4M68.8,12.8l-0.9,0.8M79.7,27.3l-1.6,1.6M67.4,11.4l-0.4,1.4M13.0,15.2l1.5,1.3M18.4,8.2l-0.5,1.2M78.4,13.3l-1.2,1.9M67.1,13.2l-0.2,1.6M69.1,55.7l-1.8,1.0M63.4,28.2l-0.4,1.6M53.2,39.5l-0.4,1.0M59.4,7.4l0.7,1.8M48.9,17.7l2.0,0.4M37.3,17.6l0.7,1.0M68.5,49.4l-1.4,1.0M73.7,42.2l-0.8,1.9M44.9,17.0l0.9,0.6M33.8,19.2l-1.0,0.2M63.1,41.1l0.5,1.6M57.2,29.3l1.3,0.1M31.6,48.8l-0.1,1.3M15.0,20.4l-0.2,1.6M57.7,16.1l-1.0,1.0M63.4,44.2l1.9,0.7M58.5,28.6l-0.9,0.7M54.7,37.8l-1.9,0.6M71.4,25.6l-0.2,1.4M12.1,24.9l1.1,1.5M62.5,33.7l1.1,0.1M30.5,14.2l0.9,1.5M55.6,35.3l-1.6,1.3M78.6,17.0l0.9,0.5M61.8,29.0l0.7,1.1M46.1,40.1l0.0,1.8M70.3,17.7l-1.5,1.4M26.6,16.2l-0.8,0.7M59.1,13.1l0.5,1.7M53.0,13.1l0.2,1.7M25.4,4.6l0.7,1.0M22.8,5.3l-1.3,1.1M21.1,32.6l-0.7,1.1M63.4,14.8l1.3,0.1M13.1,19.9l-0.8,0.6M83.1,19.2l1.3,0.6M55.8,27.6l1.9,0.1M36.5,10.0l1.8,0.7M58.7,55.2l-0.1,1.9M73.4,18.8l-1.8,0.8M29.2,14.6l0.6,1.1M68.7,22.3l-0.5,1.0M13.9,22.3l-1.8,1.2M74.6,19.5l1.2,1.8M3.9,42.4l-1.1,0.1M66.3,36.7l-2.0,1.0M54.4,24.2l1.0,1.2M74.7,13.6l1.7,0.9M53.8,54.9l0.4,1.8M24.6,18.0l0.3,2.2M52.1,41.8l0.9,0.5M28.2,47.8l-1.7,0.6M8.8,31.1l-1.1,1.5M70.8,25.2l-1.0,0.1M77.4,28.6l-2.0,0.3M27.4,7.6l1.1,0.9M64.9,10.3l1.6,1.6M47.1,11.1l-0.1,1.1M31.3,56.9l-0.2,2.1M81.1,37.8l0.3,1.0M71.4,49.7l2.0,1.0M63.7,18.8l0.8,1.5" stroke="#a5d266" stroke-width="1.2" stroke-linecap="round" fill="none"/>
<path d="M29.5,11.2l0.6,0.9M62.2,25.0l-0.5,1.4M64.0,39.4l1.8,0.1M70.4,16.4l0.5,1.3M54.2,25.3l-1.7,0.0M40.3,16.7l1.5,0.6M41.3,23.3l-2.0,0.6M44.6,11.9l1.4,0.3M73.4,27.6l1.7,0.2M30.9,6.8l-2.0,0.2M63.0,21.8l-1.9,1.0M63.6,16.5l0.8,1.6M78.8,20.6l0.9,2.0M14.1,38.9l1.7,0.7M42.4,32.7l0.5,1.9M70.5,47.7l1.8,0.6M24.7,16.0l0.8,2.1M50.9,23.3l2.0,0.2M30.0,43.5l-0.7,2.1M53.9,25.7l-0.9,1.2M39.7,3.5l0.2,1.7M52.3,25.8l1.9,1.3M26.5,23.3l-1.3,1.0M78.8,24.4l-1.5,0.7M15.6,18.4l-0.9,1.1M20.5,11.1l1.0,1.5M39.4,34.4l-0.5,2.2M68.0,26.6l0.3,2.2M64.8,20.8l0.1,1.5M33.1,13.1l-1.8,0.5M53.8,21.2l1.1,1.0M60.9,32.9l-0.3,1.9M76.1,23.3l0.5,1.4M62.4,34.7l-1.8,0.9M75.3,25.6l-0.2,2.0M64.5,23.7l1.5,1.1M49.6,27.5l-0.3,2.3M61.9,36.5l-1.5,0.3M72.8,17.0l-1.5,0.8M49.2,32.3l0.7,1.2M8.9,34.7l0.7,1.8M44.7,32.1l1.4,0.4M61.0,7.2l-0.0,2.1M48.9,8.2l1.3,0.9M39.9,24.3l-1.4,0.4M40.2,15.6l0.5,2.0M58.0,18.2l0.6,2.1M46.1,50.3l-0.9,0.8M42.1,51.5l-1.3,0.2M62.9,29.2l-2.2,0.3M61.0,44.1l0.7,1.1M38.0,12.5l-0.2,1.0" stroke="#c2e28a" stroke-width="1.2" stroke-linecap="round" fill="none"/>
<path d="M65.2,22.2l2.0,0.5M80.8,24.4l-1.2,0.9M79.1,17.6l-0.5,2.1M63.5,34.1l-1.3,1.2M66.0,41.8l0.0,2.3M42.0,11.3l-0.0,1.4M74.0,15.0l-0.3,1.1M21.2,22.8l0.7,0.7M80.0,42.0l1.6,0.8M72.8,40.7l-0.1,1.9M59.4,10.2l-0.9,1.4M78.7,20.9l0.9,1.7M40.8,20.5l1.4,0.2M75.4,15.9l-1.7,0.3M77.2,34.5l-2.3,0.2M23.0,23.1l0.1,1.8M70.4,37.8l1.3,1.2" stroke="#d9eeb2" stroke-width="1.2" stroke-linecap="round" fill="none"/>
<path d="M26.3,5.5L22.9,0.2M4.2,28.1L-3.8,25.5M74.2,50.9L79.9,53.6M80.7,28.1L87.4,26.4M81.2,26.2L87.7,24.6M77.4,43.6L82.7,44.6M77.1,13.6L80.9,10.0M9.3,46.4L3.7,48.6M78.2,14.3L83.0,10.5M12.9,13.4L8.3,10.3M9.3,46.4L3.0,47.9M13.3,50.7L8.7,52.5M9.4,46.5L4.6,48.6M80.8,16.1L86.7,12.9M4.0,28.6L-0.9,27.6M82.1,22.4L87.9,20.4M73.3,11.2L77.7,7.1M43.3,5.9L43.7,-0.7M10.2,16.7L5.5,13.5M9.4,17.7L4.5,14.6M80.5,28.7L87.4,26.2M80.1,15.7L83.8,13.1M17.4,9.0L12.2,3.3M20.8,6.2L17.1,0.6M8.9,18.3L3.6,14.7M14.6,11.3L9.8,5.9M5.1,26.2L0.5,24.3M17.7,8.8L12.9,3.8M57.5,9.4L60.8,4.0M58.5,9.7L62.3,4.6M81.0,27.0L86.0,24.5M82.7,19.9L89.3,16.0M81.8,23.6L89.0,21.0M8.3,19.2L2.8,16.6M81.5,24.8L87.4,22.5M74.8,49.5L79.9,51.5M74.1,11.5L77.6,7.2M64.6,10.5L69.8,5.2M9.5,46.6L5.6,47.9M78.3,14.4L81.4,11.7M7.6,20.7L1.7,17.5M47.4,6.5L48.8,1.1M8.0,44.2L2.7,45.3M55.4,8.8L58.0,3.0M18.8,7.9L13.8,2.9" stroke="#5d8a45" stroke-width="0.55" fill="none"/>
<path d="M15.7,9.1L11.9,3.3M7.0,45.1L-1.5,44.0M6.1,43.8L-2.4,42.4M80.4,37.1L87.9,34.5M3.5,34.3L-1.7,32.2M18.9,6.5L16.2,1.6M34.4,3.8L33.2,-2.2M70.4,10.5L73.7,5.6M14.4,10.2L10.7,5.1M82.5,16.5L86.9,12.6M16.8,8.2L12.6,1.4M81.3,31.6L87.3,28.7M49.1,5.8L50.4,-2.7M52.9,7.0L54.6,-0.2M17.3,7.8L13.5,1.5M6.0,43.5L0.7,42.5M62.2,9.6L64.5,4.9M9.5,49.0L1.4,49.0M50.3,6.2L51.2,0.5M81.6,29.5L88.8,25.7M77.4,12.8L82.8,6.7M74.4,10.9L78.1,6.2M34.8,3.8L33.4,-3.5M53.9,7.3L55.4,1.7M82.7,25.3L88.2,21.7M77.9,45.6L83.5,45.0M4.1,25.9L-2.7,21.6" stroke="#4f7a38" stroke-width="0.6" fill="none"/>
<path d="M13.5,4.6l0.1,-0.2M12.7,4.3l-0.5,0.8M13.6,5.3l0.6,0.7M1.3,43.8l0.4,0.5M-0.6,44.2l-0.7,-0.5M-0.9,44.7l-0.6,-0.2M1.9,43.4l0.6,0.8M-2.2,41.7l-0.5,0.6M-1.4,42.6l0.4,0.6M88.3,33.8l0.7,-0.5M87.1,34.6l-0.3,0.6M87.2,34.3l-0.3,0.8M-1.3,33.3l0.4,0.7M0.6,33.1l0.3,0.2M0.5,32.6l-0.1,0.1M16.5,3.4l-0.6,-0.4M16.0,2.2l0.3,-0.0M16.4,3.0l-0.7,0.3M34.0,-0.6l-1.0,-0.2M34.0,0.4l0.4,-0.5M33.3,-2.0l-0.1,0.2M72.5,7.6l-1.0,-0.5M74.0,5.5l-1.0,-0.1M73.4,6.4l0.6,0.3M12.4,7.0l0.3,0.5M11.3,5.6l0.3,0.7M10.6,6.2l0.7,-0.3M86.0,13.5l0.5,-0.2M86.3,13.3l0.7,-0.5M86.4,13.3l-0.9,-0.3M13.3,2.9l-0.6,0.1M14.7,3.6l0.2,0.3M12.7,1.2l0.2,-0.2M86.1,29.4l0.9,-0.5M86.5,28.7l-0.1,0.3M86.8,28.7l-0.8,0.3M50.3,0.6l-0.1,-0.2M49.8,-2.0l0.8,-0.7M49.2,0.3l0.4,0.4M54.3,1.0l0.2,0.4M53.6,1.5l-1.0,-0.1M54.1,3.4l0.1,-0.0M14.8,5.4l0.6,-0.1M14.8,3.3l-0.8,-0.6M13.5,2.3l-0.2,0.5M2.5,43.5l0.5,-0.4M2.5,43.5l0.7,-0.8M1.0,42.2l0.2,0.4M64.4,7.4l-1.0,-0.5M63.5,5.6l-0.8,-0.2M64.2,5.1l0.2,0.3M3.8,48.4l0.5,0.0M2.2,49.4l0.5,-0.3M6.0,49.7l-1.0,0.0M50.5,1.1l-0.3,0.0M50.7,1.0l0.6,0.7M51.8,1.0l-0.3,-0.6M86.3,27.5l-0.1,-0.5M85.8,27.2l0.3,0.3M87.1,26.6l0.8,0.0M80.0,9.5l-0.4,0.4M81.0,8.6l0.9,-0.3M81.4,7.5l0.8,-0.1M76.4,8.3l-0.3,0.7M78.2,6.4l0.4,-0.7M77.5,7.9l-0.9,0.1M34.1,-1.2l0.6,0.6M33.4,-0.7l0.2,0.6M33.1,-1.9l-0.3,-0.2M55.0,3.3l0.5,-0.1M55.4,3.1l0.8,-0.2M55.4,3.1l0.9,0.2M85.9,23.0l-1.0,0.5M86.2,24.0l-1.0,0.4M86.3,22.9l-0.9,0.7M80.9,44.4l0.7,-0.7M81.9,45.8l0.1,-0.2M81.4,45.4l-0.7,-0.0M-2.7,20.9l0.7,0.1M-0.3,23.0l-0.9,-0.0M0.3,23.5l-1.0,-0.7" stroke="#78a653" stroke-width="1.1" stroke-linecap="round" fill="none"/>
</g>
<g transform="translate(351.7,357.2)">
<path d="M24.8,55 C24.1,63 24.1,71 24.8,77.8 Q25.3,79.3 27,79.6 L27.2,85.8 Q27.8,88.9 31.2,89 L57.3,89 Q60.7,88.9 61.3,85.8 L61.5,79.6 Q63.2,79.3 63.7,77.8 C64.4,71 64.4,63 63.7,55 Z" fill="url(#gPot)"/>
<path d="M25.5,78.6 Q44,80.6 63,78.6" stroke="#8a837e" stroke-width="1" fill="none"/>
<path d="M42.5,74.0h.45M60.2,71.0h.45M44.5,74.9h.45M32.4,72.5h.45M49.1,81.5h.45M29.0,65.8h.45M28.9,82.1h.45M51.5,57.3h.45M50.0,75.8h.45M31.4,56.5h.45M45.3,57.9h.45M32.6,63.8h.45M26.6,70.9h.45M42.0,83.1h.45M45.0,76.6h.45M44.2,77.3h.45M42.6,65.0h.45M57.0,78.8h.45M37.3,63.4h.45M36.3,58.3h.45M54.2,68.9h.45M57.2,68.4h.45M25.5,62.8h.45M59.6,71.1h.45M62.3,68.8h.45M28.2,76.3h.45M54.7,64.7h.45M28.8,66.7h.45M29.9,63.9h.45M29.3,57.9h.45M55.4,61.7h.45M46.5,70.4h.45M32.7,79.6h.45M30.4,76.7h.45M29.9,69.5h.45M33.5,64.7h.45M36.9,84.5h.45M33.4,68.7h.45M57.5,76.7h.45M29.3,87.9h.45M33.5,64.3h.45M54.5,66.6h.45M36.6,58.4h.45M28.9,74.8h.45M34.6,75.4h.45M39.4,70.6h.45M61.5,71.6h.45M47.0,83.9h.45M32.4,61.0h.45M59.6,82.3h.45M34.9,62.1h.45M53.2,86.3h.45M32.9,86.6h.45M58.6,75.4h.45M41.3,59.3h.45M34.4,78.7h.45M35.1,82.5h.45M47.9,65.4h.45M32.1,79.2h.45M28.1,63.4h.45M46.5,83.4h.45M48.5,65.0h.45M59.9,62.6h.45M26.1,64.7h.45M42.2,57.9h.45M32.1,67.9h.45M47.0,60.2h.45M39.1,84.7h.45M62.3,77.2h.45M51.4,74.8h.45M30.8,57.1h.45M51.8,87.0h.45M26.3,76.5h.45M43.6,79.5h.45M37.5,88.2h.45M28.3,73.6h.45M53.1,85.0h.45M53.1,78.7h.45M55.2,85.5h.45M38.7,78.1h.45M59.3,84.0h.45M41.1,81.5h.45M57.9,74.4h.45M48.9,68.3h.45M47.4,75.6h.45M28.5,76.6h.45M52.8,68.5h.45M53.1,74.7h.45M42.0,83.0h.45M28.6,80.2h.45M26.6,75.4h.45M43.5,63.4h.45M51.7,72.0h.45M48.5,85.6h.45M35.1,56.4h.45M36.8,77.8h.45M33.1,61.5h.45M59.5,77.3h.45M42.1,84.7h.45M37.8,77.4h.45M32.9,69.9h.45M55.7,85.4h.45M58.5,68.4h.45M47.4,66.2h.45M30.6,72.0h.45M56.9,83.3h.45M52.2,86.6h.45M35.9,61.4h.45M42.4,64.9h.45M33.5,69.3h.45M49.0,71.9h.45M37.3,83.0h.45M62.3,70.6h.45M28.3,57.0h.45M58.2,57.3h.45M52.1,74.4h.45M37.1,81.5h.45M26.2,60.4h.45M42.6,56.8h.45M56.6,63.6h.45M30.8,57.5h.45M49.1,70.4h.45M49.1,77.1h.45M55.8,86.9h.45M51.2,62.4h.45M43.3,61.8h.45M25.9,71.2h.45M52.3,61.8h.45M35.7,67.1h.45M51.6,72.8h.45M48.5,80.3h.45M40.3,81.5h.45M59.5,58.8h.45M60.5,79.3h.45M30.4,70.6h.45M49.0,85.3h.45M39.6,74.3h.45M58.5,81.7h.45M60.9,70.9h.45M49.9,62.6h.45M52.6,82.4h.45M49.6,79.1h.45M33.5,85.0h.45M45.6,81.5h.45M37.5,85.3h.45M57.6,67.2h.45M28.6,70.2h.45M46.1,80.7h.45M43.8,56.9h.45M55.8,58.1h.45M55.5,61.6h.45M38.1,81.4h.45M30.8,60.8h.45M44.9,79.3h.45M57.0,78.2h.45M61.0,71.9h.45M61.1,58.8h.45M33.8,73.0h.45M36.4,79.5h.45M49.5,72.8h.45M57.1,74.0h.45M37.2,68.3h.45M57.2,85.0h.45M33.3,83.4h.45M61.8,72.9h.45M47.0,62.5h.45M45.6,72.2h.45M48.2,56.9h.45M61.9,72.6h.45M40.5,81.8h.45M46.6,71.8h.45M51.4,58.1h.45M45.7,69.3h.45M35.6,71.2h.45M30.3,70.0h.45M56.1,85.0h.45M43.4,66.2h.45M32.7,75.9h.45M60.2,60.2h.45M54.7,56.7h.45M32.8,63.3h.45M51.3,66.4h.45M38.8,76.0h.45M29.4,79.5h.45M30.1,72.4h.45M34.9,62.4h.45M45.4,70.1h.45M39.6,69.3h.45M45.4,61.1h.45M33.2,76.3h.45M49.4,73.1h.45M57.4,75.7h.45M57.6,63.5h.45M53.3,82.1h.45M59.4,66.2h.45M37.3,85.7h.45M33.7,88.1h.45M58.8,60.3h.45M34.5,79.4h.45M35.2,59.1h.45M56.7,69.6h.45M55.1,60.1h.45M40.6,78.1h.45M26.2,62.5h.45M51.1,85.3h.45M61.8,59.7h.45M44.5,80.4h.45M44.4,78.1h.45M32.6,58.3h.45M29.5,57.2h.45M46.2,72.6h.45M46.8,60.7h.45M32.4,62.6h.45M57.0,87.9h.45M60.3,59.1h.45M42.8,80.6h.45M37.8,71.0h.45M44.8,69.8h.45M48.0,56.4h.45M51.8,83.2h.45M32.3,70.6h.45M53.2,69.1h.45M32.8,61.3h.45M44.7,56.5h.45M59.0,81.8h.45M51.9,83.7h.45M49.1,69.0h.45M48.0,72.2h.45M35.2,85.3h.45M53.4,81.1h.45M56.0,69.1h.45M59.1,84.3h.45M51.6,80.7h.45M54.2,69.1h.45M52.6,58.3h.45M38.3,71.1h.45M25.9,67.5h.45M49.5,76.1h.45M34.2,86.4h.45M50.5,66.9h.45M50.2,74.3h.45M45.5,68.5h.45M63.0,76.7h.45M51.8,80.5h.45M62.3,56.7h.45M48.6,79.8h.45M35.1,68.9h.45M27.4,62.3h.45M39.6,59.2h.45M34.9,85.2h.45M46.1,72.4h.45M61.8,74.3h.45M62.8,76.5h.45M55.9,58.5h.45M47.9,80.4h.45M31.5,71.2h.45M31.8,72.0h.45M48.4,57.9h.45M60.9,69.5h.45M45.3,75.3h.45M39.2,65.2h.45M50.1,74.1h.45M36.1,79.1h.45M36.6,56.5h.45M34.7,57.4h.45M31.4,80.3h.45M40.1,84.9h.45M53.6,57.6h.45M28.3,85.2h.45M41.6,71.4h.45M62.0,63.8h.45M45.1,86.2h.45M52.6,71.1h.45M48.1,59.7h.45M48.9,70.7h.45M33.1,57.7h.45M45.3,60.0h.45M42.1,77.5h.45M42.6,64.4h.45M47.3,69.5h.45M54.7,73.1h.45M53.0,63.7h.45M29.8,84.7h.45M54.9,76.1h.45M39.0,64.7h.45M51.2,74.2h.45M47.7,76.4h.45M53.8,62.1h.45M34.8,87.5h.45M59.8,84.3h.45M27.0,58.0h.45M35.7,69.7h.45M48.9,59.3h.45M45.8,58.3h.45M28.7,77.8h.45M46.1,76.3h.45M39.5,71.4h.45M33.4,67.1h.45M53.4,83.0h.45M28.3,59.9h.45M55.8,76.1h.45M54.3,62.9h.45M41.4,64.3h.45M55.9,67.9h.45M50.0,87.9h.45M37.7,73.7h.45M53.5,85.7h.45M41.5,67.9h.45M29.1,84.2h.45M28.4,58.7h.45M46.7,71.6h.45M51.2,65.6h.45M54.6,58.4h.45M33.5,77.3h.45" stroke="#857e79" stroke-width="0.95" stroke-linecap="round" fill="none"/>
<path d="M28.6,65.8h.45M52.7,78.3h.45M36.1,60.6h.45M38.9,79.4h.45M39.2,59.8h.45M52.1,74.3h.45M59.9,86.3h.45M59.8,70.1h.45M55.6,65.8h.45M37.4,68.9h.45M34.8,67.6h.45M39.2,67.7h.45M40.3,68.5h.45M32.8,74.2h.45M55.4,73.4h.45M56.9,74.1h.45M32.1,80.4h.45M58.5,65.1h.45M26.3,72.6h.45M45.9,74.3h.45M61.7,77.0h.45M55.7,58.1h.45M46.0,81.4h.45M28.7,58.6h.45M53.1,85.0h.45M28.7,76.4h.45M30.9,80.0h.45M49.8,63.9h.45M33.8,80.6h.45M45.1,80.6h.45M40.3,66.9h.45M61.8,77.7h.45M44.0,73.3h.45M52.5,78.8h.45M59.8,69.2h.45M56.5,77.5h.45M57.5,82.0h.45M56.8,84.6h.45M61.4,76.6h.45M45.1,78.9h.45M55.6,69.6h.45M41.3,60.7h.45M53.3,87.9h.45M39.6,61.4h.45M33.2,69.7h.45M36.5,87.2h.45M27.7,65.9h.45M29.8,76.9h.45M54.6,61.8h.45M27.8,70.8h.45M47.4,85.3h.45M26.9,59.5h.45M32.4,63.0h.45M34.3,79.1h.45M47.8,63.2h.45M32.4,65.1h.45M32.0,80.4h.45M37.2,73.7h.45M56.1,71.4h.45M35.3,84.6h.45M59.8,67.0h.45M46.0,86.8h.45M43.6,63.1h.45M55.6,68.4h.45M45.3,72.6h.45M35.8,87.9h.45M50.2,63.7h.45M25.9,71.2h.45M39.4,81.7h.45M52.2,75.5h.45M31.4,61.1h.45M37.6,64.4h.45M58.1,72.6h.45M49.4,88.0h.45M35.5,73.2h.45M31.1,80.8h.45M57.2,82.5h.45M28.6,64.7h.45M52.4,59.1h.45M43.5,71.1h.45M61.3,74.9h.45M57.7,65.8h.45M55.1,69.4h.45M59.9,58.9h.45M56.5,62.7h.45M45.9,72.9h.45M31.4,82.8h.45M37.2,66.0h.45M28.4,65.8h.45M43.0,79.0h.45M39.0,78.1h.45M29.5,68.7h.45M42.8,87.1h.45M56.6,77.1h.45M26.0,68.1h.45M52.1,63.6h.45M46.7,70.8h.45M55.5,62.7h.45M48.6,65.4h.45M39.6,73.4h.45M36.7,66.9h.45M40.2,77.5h.45M35.1,62.4h.45M52.9,66.6h.45M60.9,74.1h.45M52.6,66.7h.45M56.5,59.0h.45M30.8,59.0h.45M50.9,78.8h.45M32.2,69.0h.45M56.9,75.1h.45M28.9,63.3h.45M31.4,60.0h.45M40.8,58.3h.45M60.0,69.7h.45M44.7,76.8h.45M54.3,82.4h.45M40.0,66.7h.45M41.0,56.5h.45M40.5,78.5h.45M50.3,75.6h.45M26.2,66.7h.45M38.3,77.0h.45M29.5,68.2h.45M44.6,81.4h.45M56.4,75.7h.45M31.4,80.7h.45M59.4,73.7h.45M38.7,72.1h.45M30.8,79.0h.45M62.5,72.6h.45M52.3,82.9h.45M32.9,86.4h.45M49.0,62.4h.45M28.6,63.9h.45M47.1,78.4h.45M37.8,85.9h.45M39.0,70.9h.45M30.2,87.3h.45M30.6,85.1h.45M45.9,74.1h.45M46.5,64.5h.45M59.6,87.9h.45M56.2,75.4h.45M30.1,82.6h.45M36.3,84.9h.45M34.5,74.5h.45M56.7,62.0h.45M46.0,58.5h.45M26.7,61.8h.45M50.2,65.9h.45M50.7,79.8h.45M39.8,75.1h.45M55.6,56.5h.45M33.0,71.1h.45M30.9,68.4h.45M46.9,61.6h.45M45.0,64.5h.45M46.8,66.7h.45M49.6,57.2h.45M50.7,60.7h.45M61.5,75.3h.45M43.1,69.2h.45M48.9,78.2h.45M53.9,80.2h.45M43.7,88.0h.45M56.9,83.5h.45M40.8,70.0h.45M46.7,85.1h.45M45.2,72.9h.45M41.7,85.1h.45M37.5,57.8h.45M52.7,85.0h.45M53.0,75.2h.45M53.7,65.8h.45M47.8,58.2h.45M30.2,70.4h.45M44.3,68.8h.45M27.4,78.4h.45M45.2,63.7h.45M37.0,68.7h.45M34.3,58.2h.45M59.7,87.1h.45M50.5,83.9h.45M41.3,81.9h.45M33.8,80.0h.45M46.8,85.1h.45M29.2,81.5h.45M30.1,73.3h.45M61.2,56.0h.45M34.6,65.6h.45M37.7,58.0h.45M59.1,82.3h.45M40.4,67.5h.45M47.5,57.5h.45M37.0,72.0h.45M43.2,62.6h.45M36.6,85.7h.45M59.1,62.3h.45M56.9,67.4h.45M43.2,61.5h.45M58.5,88.1h.45M33.1,76.4h.45M32.7,84.3h.45M27.4,59.4h.45M52.7,66.1h.45M59.3,84.0h.45M52.2,60.3h.45M51.6,86.2h.45M42.2,58.5h.45M33.9,65.9h.45M52.1,62.3h.45" stroke="#e4e0dc" stroke-width="0.9" stroke-linecap="round" fill="none"/>
<path d="M32.3,63.6h.45M50.4,81.5h.45M39.5,77.3h.45M58.7,75.0h.45M34.1,65.7h.45M60.3,77.5h.45M35.9,76.6h.45M28.9,87.7h.45M42.0,73.0h.45M45.4,57.5h.45M48.0,65.2h.45M34.9,81.9h.45M28.8,65.2h.45M53.8,63.9h.45M36.0,73.6h.45M32.5,84.9h.45M62.5,57.1h.45M42.8,80.2h.45M39.9,85.9h.45M44.2,61.8h.45M46.4,76.8h.45M39.0,77.2h.45M54.9,72.6h.45M44.5,83.2h.45M51.2,72.8h.45M61.2,61.6h.45M54.7,61.3h.45M48.3,63.6h.45M42.0,80.9h.45M55.0,81.5h.45M34.3,71.7h.45M33.8,74.7h.45M44.2,57.1h.45M47.9,79.0h.45M47.0,84.1h.45M32.3,60.9h.45M26.2,72.0h.45M41.8,70.2h.45M35.4,81.7h.45M28.2,85.2h.45M46.8,73.5h.45M55.2,63.7h.45M31.0,66.0h.45M27.1,66.1h.45M48.8,72.9h.45M35.4,75.0h.45M28.8,82.4h.45M31.9,64.2h.45M31.5,78.2h.45M56.7,81.3h.45M27.8,69.2h.45M39.2,63.0h.45M61.9,57.4h.45M43.9,80.5h.45M62.5,60.7h.45M42.6,80.0h.45M27.0,63.7h.45M58.9,60.6h.45M40.2,65.6h.45M41.4,58.5h.45M54.1,79.6h.45M34.1,64.2h.45M46.2,63.8h.45M42.8,86.0h.45M39.1,66.9h.45M62.3,75.7h.45M27.0,69.0h.45M49.9,57.9h.45M38.4,78.4h.45" stroke="#6a645f" stroke-width="0.8" stroke-linecap="round" fill="none"/>
<polygon points="22.7,8.1 35.3,6.6 47.9,8.1 58.9,11.6 71.5,13.1 80.0,19.3 77.7,29.6 76.2,40.6 71.5,51.6 63.6,55.4 43.2,57.9 22.7,54.9 13.2,48.5 8.5,40.6 6.7,29.6 10.9,20.2 16.4,13.2" fill="#33621f"/>
<path d="M6.8,28.2l1.1,0.6M18.2,27.8l1.4,1.4M30.5,39.2l0.9,0.6M54.2,45.2l0.6,1.8M20.7,55.3l1.4,0.4M35.6,59.1l1.1,0.7M31.9,37.4l-1.6,0.8M44.3,32.1l-1.7,0.9M21.4,37.1l0.0,1.3M56.9,51.1l0.3,1.1M18.5,11.7l0.4,1.3M19.8,12.9l1.9,1.0M27.1,9.4l2.1,0.8M68.5,10.0l0.6,1.3M69.7,46.7l-0.7,1.5M13.1,37.9l-1.4,0.3M37.5,40.4l-2.1,0.4M57.4,41.4l0.2,1.1M60.5,43.5l-1.4,1.7M15.6,25.4l-0.4,1.7M43.3,14.8l2.2,0.5M29.7,16.0l1.4,0.9M42.5,45.7l0.9,0.9M13.3,25.1l-1.4,1.3M78.6,46.0l-2.0,0.1M-0.0,29.6l0.5,1.0M8.3,30.9l-1.2,0.5M61.7,43.3l1.0,0.4M39.2,25.3l-0.9,1.1M29.9,14.6l0.4,1.1M43.3,16.8l-1.9,1.1M16.5,43.4l-1.0,0.9M20.4,39.1l0.8,1.3M33.2,47.0l-1.4,1.7M37.4,52.1l-0.3,2.0M12.6,28.8l-0.4,1.8M54.1,26.7l0.3,1.2M15.2,14.2l-0.6,1.7M16.1,49.1l1.2,1.1M24.2,46.2l-2.0,0.5M23.7,27.9l-2.2,0.1M33.5,55.0l1.5,1.4M53.5,25.1l0.8,1.0M39.2,47.6l1.2,1.6M38.3,52.8l-0.9,0.9M8.2,38.2l1.9,1.0M45.4,16.0l1.3,0.1M58.6,19.3l1.5,0.3M51.9,12.5l1.5,1.6M28.6,35.4l-2.2,0.4M34.2,55.1l0.3,2.0M62.1,27.5l0.1,1.2M44.2,45.2l2.1,0.1M38.9,57.4l0.9,0.9M72.3,29.6l0.4,2.2M57.4,10.5l1.4,0.9M12.7,40.6l1.1,1.7M75.9,40.3l0.2,2.2M39.5,57.4l1.5,1.3M26.4,28.6l-0.3,1.3M39.2,36.5l1.9,0.5M22.7,52.6l0.7,1.0M51.9,41.8l-0.2,1.1M48.6,31.0l0.8,1.0M71.5,52.2l0.8,2.1M9.7,33.3l-0.9,0.5M46.9,26.9l0.3,1.5M18.3,50.5l-0.3,1.3M56.8,47.7l-0.2,2.0M68.8,35.8l-0.6,1.2M17.2,9.4l0.6,1.3M51.6,58.3l0.5,1.1M28.0,25.3l1.5,1.4M13.5,41.4l1.7,1.0M19.1,34.5l-2.1,1.0M16.9,55.8l-0.4,1.1M39.8,40.5l0.9,0.7M58.0,56.8l0.9,0.4M53.3,56.5l-0.8,1.4M50.7,17.6l1.6,0.0M50.8,53.4l-1.4,1.1M15.4,28.6l-1.2,0.4M15.2,30.8l1.6,1.4M10.8,22.7l1.5,0.3M20.3,51.5l-1.0,0.6M13.7,31.1l-1.2,0.3M24.6,38.1l-0.8,1.0M61.1,11.1l-1.5,0.5M19.5,47.5l-0.9,0.7M23.7,16.2l1.2,0.3M8.6,40.0l-0.3,1.0M35.7,52.9l0.6,1.4M36.3,44.0l-2.1,0.7M19.9,24.3l-0.7,1.5M42.9,18.0l0.4,1.4M27.1,29.9l-1.1,1.0M11.5,34.8l0.9,1.1M34.4,31.4l1.3,1.2M26.5,55.6l1.7,1.4M24.4,30.9l0.6,2.0M34.3,13.1l-1.1,0.3M24.8,14.2l0.5,1.2M28.0,54.3l-1.3,1.2M80.0,42.4l-0.1,1.8M7.4,15.3l-0.1,2.0M17.5,29.0l-1.0,1.2M9.5,45.7l0.5,1.1M54.0,55.4l-1.4,0.2M34.7,53.6l-0.3,1.0M22.9,20.9l-1.7,1.0M14.4,51.7l0.1,1.5M11.1,30.8l-1.7,0.3M49.6,33.7l1.1,1.0M28.2,41.0l1.6,0.6M58.5,16.6l0.9,0.7M23.2,53.7l-1.8,0.3M50.5,32.0l1.9,0.8M59.5,51.7l-0.9,1.9M45.6,58.4l1.1,0.3M13.5,53.0l-1.3,0.8M31.7,52.9l1.3,1.5M47.9,17.0l-0.1,1.7M62.2,19.0l0.8,0.9M31.2,40.3l-1.5,0.1M52.6,46.2l1.0,0.6M51.9,54.3l1.6,1.2M23.2,45.7l-0.1,1.9M15.7,25.9l-0.4,1.2M20.7,27.3l0.8,1.8M9.8,19.3l-1.7,0.9M48.9,39.4l1.2,0.7M18.9,48.8l-0.9,0.6M49.9,41.1l1.9,1.0M4.5,33.1l1.0,0.3M33.6,24.8l0.2,1.7M34.5,9.9l-1.5,0.8M4.5,20.4l0.8,1.7M18.2,48.2l-0.0,1.9M31.6,33.3l1.5,0.3M29.9,7.1l-1.9,0.3M6.6,27.1l-0.6,1.3M14.7,54.5l2.1,0.3M39.9,30.3l1.1,0.1M39.3,30.4l1.3,0.6M28.9,35.2l1.8,0.6M23.1,33.2l-0.4,1.0M51.9,31.7l0.1,1.4M78.1,37.8l2.1,0.0M66.9,53.1l-0.1,1.6M30.6,48.3l-0.9,0.8M10.9,42.3l-0.7,1.7M5.9,22.3l-1.0,0.6M41.1,56.9l-0.2,1.2M29.7,33.8l1.5,0.6M42.4,59.7l-1.9,0.4M8.4,23.5l0.4,1.4M19.7,30.8l1.1,0.5M50.1,10.6l-0.2,2.1M18.1,51.6l0.2,1.9M16.2,45.4l2.0,0.5M29.9,51.5l-0.2,1.5M65.6,40.3l-0.2,1.1M73.9,14.1l1.1,1.2M41.8,9.6l1.9,1.1M17.3,39.0l2.0,0.5M20.3,49.4l1.2,0.7M64.5,38.1l1.2,0.4M15.8,29.2l-1.0,0.4M20.6,48.8l-0.8,0.7M3.8,26.7l1.1,1.1M69.5,41.7l-1.5,0.6M26.2,15.3l1.7,1.0M42.4,54.8l1.5,1.6M13.8,30.1l1.5,0.2M6.7,21.7l-1.8,0.8M24.1,56.1l-1.6,0.0M34.3,24.9l-0.2,1.4M39.8,47.5l1.6,0.5M12.4,38.7l0.9,0.8M38.4,30.1l2.2,0.3M63.1,40.7l1.3,0.9M16.0,42.2l0.7,0.8M11.2,32.5l-2.1,0.5M23.6,29.1l-0.9,0.9M37.1,21.4l0.1,1.7M41.6,34.8l-0.6,1.6M30.8,55.1l-1.3,1.1M35.5,24.3l-1.5,0.6M18.1,49.5l0.4,2.0M31.1,49.5l0.7,1.9M16.9,21.8l-1.8,0.2M58.4,24.8l-1.1,0.8M15.1,31.9l0.3,2.0M22.9,53.6l-0.9,1.4M10.4,27.2l-1.2,1.6M12.7,49.7l-0.9,1.5M35.6,45.6l0.5,1.1M20.0,51.0l-0.4,1.7M57.2,20.1l0.3,1.3M36.0,59.0l-1.2,0.1M43.9,31.8l1.0,0.3M52.1,35.1l1.6,0.2M43.2,24.0l1.6,0.2M75.6,29.9l-1.4,0.5M45.2,20.1l-1.5,1.7M60.0,43.3l-1.5,0.9M10.0,32.1l1.6,1.0M31.9,47.7l0.5,1.0M25.1,16.9l-1.1,1.2M26.2,15.1l1.7,1.0M63.7,29.0l-1.6,1.5M31.6,25.4l-0.1,1.1M14.2,24.6l-1.0,0.8M45.1,8.6l1.3,0.7" stroke="#1c3c0d" stroke-width="1.2" stroke-linecap="round" fill="none"/>
<path d="M38.8,20.3l1.1,0.9M8.4,33.8l0.9,1.3M32.2,18.3l0.3,1.0M26.2,16.8l1.1,1.6M50.1,22.3l-0.9,0.7M8.2,40.5l-2.2,0.5M21.4,43.5l1.3,0.5M74.2,47.4l-1.7,1.0M34.2,53.0l-1.6,0.1M47.2,55.2l1.3,0.7M17.7,33.1l-1.3,0.5M39.5,17.8l1.0,1.6M83.0,20.3l-0.9,1.0M13.9,16.8l-0.1,1.5M51.5,54.5l-0.8,1.2M1.6,29.1l-0.1,1.5M75.7,40.5l-0.8,0.6M19.6,33.2l0.2,1.3M11.4,43.1l-1.4,0.2M30.8,17.5l1.8,1.0M16.0,37.9l0.7,1.1M35.0,45.5l-0.4,1.2M51.7,49.1l-1.2,1.6M20.9,32.0l0.0,1.2M16.7,42.4l-0.6,0.9M36.6,44.8l0.2,2.2M30.5,30.0l2.3,0.2M22.1,44.6l1.3,0.8M6.4,46.3l0.9,1.5M13.4,24.4l-1.3,0.1M32.1,14.8l1.8,0.9M59.9,42.7l-0.3,1.7M34.2,37.4l-0.7,1.3M16.8,9.8l-0.8,1.6M19.6,29.2l2.0,1.0M22.8,49.1l-1.8,0.8M67.8,50.7l-0.9,0.8M17.7,49.7l2.1,0.7M5.4,42.8l2.0,0.0M75.0,48.3l0.5,0.9M35.4,51.3l1.7,0.3M33.7,57.0l0.8,0.6M61.3,54.5l-1.7,0.3M56.5,34.2l1.0,1.3M64.7,35.0l-0.6,1.7M47.3,52.5l0.7,0.9M16.9,23.1l-0.4,1.3M38.5,30.1l-1.8,1.0M52.6,22.7l-0.2,1.1M20.3,25.9l2.0,0.9M63.9,51.0l-1.5,0.3M71.6,44.9l-0.8,0.7M14.7,34.1l1.7,0.8M53.2,55.0l-1.1,1.6M22.9,6.1l1.1,1.6M13.6,35.8l1.8,0.7M54.4,34.9l-0.0,1.7M56.9,56.1l-1.6,0.8M53.5,55.9l1.4,0.7M1.3,32.1l2.2,0.1M38.8,30.9l-1.4,0.3M62.7,25.0l1.3,0.9M64.9,43.8l2.1,0.7M30.7,12.0l0.1,1.8M25.8,13.7l-1.0,1.9M72.5,43.9l-1.6,0.7M60.4,17.6l-0.0,1.8M64.1,41.8l1.0,0.4M43.8,19.4l-0.6,1.2M14.0,32.3l1.4,0.1M44.8,14.5l-1.8,0.1M34.7,21.0l-1.4,1.1M13.7,43.7l1.7,0.2M30.1,57.0l1.6,0.9M40.1,44.0l0.6,1.9M39.4,33.0l0.8,1.0M19.4,53.7l-0.8,1.4M17.6,23.8l-1.5,1.6M8.5,21.1l1.0,2.1M22.1,15.2l1.1,0.5M19.9,55.1l0.6,2.0M6.5,19.3l-1.6,1.1M25.3,38.7l-0.5,0.9M41.4,40.8l-1.1,0.7M64.8,53.7l-0.7,1.6M40.6,23.2l-0.2,1.5M6.2,33.0l1.2,0.6M28.8,46.7l-1.3,1.9M67.0,9.3l-2.1,0.4M42.3,47.4l0.8,0.6M27.8,34.0l-1.2,1.8M23.7,55.6l1.4,0.7M20.7,46.8l-0.1,1.2M80.5,31.5l-0.1,1.7M38.2,16.1l-0.7,1.5M2.6,36.9l0.4,1.2M14.5,11.1l0.2,2.0M12.9,18.4l0.2,1.8M42.2,39.0l1.8,1.4M21.1,22.6l-0.6,1.4M38.9,18.4l0.5,1.0M49.7,54.0l-1.6,1.6M50.6,19.8l-1.0,1.5M68.5,10.4l-0.7,0.9M5.7,26.7l0.9,0.9M68.0,48.0l-1.0,1.9M6.9,29.7l-1.1,1.4M17.7,10.9l-1.0,1.3M25.2,15.1l1.8,0.7M27.5,37.1l1.0,0.5M44.2,30.8l1.3,0.5M53.5,32.8l0.2,2.0M14.4,19.5l-1.0,1.4M42.0,22.1l-0.9,0.4M40.0,46.3l-0.1,1.4M32.0,48.7l0.7,0.7M44.4,35.0l-0.8,1.0M22.3,37.1l1.2,0.7M48.9,29.4l1.3,0.6M43.8,3.7l-1.0,2.0M39.7,43.0l-1.3,0.4M21.1,19.6l1.4,0.3M37.3,52.1l0.2,1.3M60.0,43.9l-0.9,1.3M71.2,50.3l-1.7,0.7M50.2,18.9l1.4,1.2M6.4,27.4l1.5,1.7M70.1,14.1l1.5,1.6M15.9,14.3l-0.1,2.2M49.7,42.5l1.0,0.9M2.5,28.6l1.6,0.3M47.6,10.0l-0.2,2.1M43.1,33.9l-0.9,0.9M7.5,27.1l0.5,1.6M24.1,22.3l-1.9,0.6M18.5,18.3l-1.8,1.0M40.1,9.0l-1.1,0.3M52.6,59.5l-1.6,1.3M25.6,11.5l-2.2,0.5M34.3,43.2l1.0,2.0M21.7,32.1l-1.9,0.4M12.1,9.8l1.4,1.3M44.4,9.0l0.7,1.7M34.0,22.2l0.4,1.8M76.6,51.7l1.1,0.5M73.2,48.3l-1.5,0.2M56.2,42.6l1.9,1.1M54.4,48.5l1.7,1.2M16.4,24.4l0.8,1.0M70.0,16.9l-1.4,0.6M32.2,47.9l1.7,0.1M54.9,54.1l0.1,1.1M12.1,22.7l-0.7,0.8M7.4,20.9l0.0,2.0M22.6,2.0l0.4,2.2M19.0,16.1l0.8,0.7M53.6,27.5l0.7,1.6M12.8,33.1l-0.1,2.3M20.6,23.2l-1.8,0.8M21.7,51.9l-1.7,1.4M57.9,48.2l2.0,0.8M36.1,50.6l-1.5,0.5M45.9,49.5l-0.6,1.2M26.6,7.5l-0.4,2.2M11.1,47.6l-1.1,0.4M32.0,54.1l-2.0,0.9M47.8,18.2l-0.5,1.0M70.1,44.6l2.0,1.0M51.7,57.1l1.6,0.0M23.5,40.8l-1.1,1.2M71.8,37.6l-0.7,1.8M50.7,42.1l-1.2,0.9M14.9,40.8l1.5,0.0M28.7,38.7l0.1,1.8M54.4,29.4l1.1,0.2M4.6,29.2l-2.3,0.0M21.3,27.1l1.2,0.0M48.1,13.5l0.0,1.4M29.3,44.1l0.0,1.5M41.5,43.8l-0.5,1.5M10.3,20.3l-0.5,1.4M55.6,40.6l-0.5,1.5M63.7,19.4l2.1,0.5M18.8,24.3l-1.9,1.0M23.2,13.8l1.6,0.4M77.9,26.2l0.3,1.1M56.3,35.3l-1.0,1.1M16.1,27.5l1.3,1.6M29.4,40.3l1.2,0.8M73.4,28.7l-1.7,0.6M14.8,46.6l0.9,1.2M43.3,51.3l1.0,1.3M38.2,25.3l0.3,2.1M6.5,27.6l1.4,0.7M7.4,32.4l0.2,1.9M13.0,38.1l0.1,1.2M19.8,20.5l0.8,0.8M48.0,34.6l0.9,1.0M15.9,45.1l0.8,1.6M18.3,51.5l0.9,1.3M45.9,44.4l1.7,0.1M23.0,47.0l-0.0,1.4M26.4,32.1l-1.0,0.0M49.2,6.8l0.1,1.2M22.2,51.8l-1.4,0.3M75.0,29.6l-2.2,0.7M1.0,37.1l2.2,0.5M33.2,41.8l1.2,0.5M21.3,40.2l-1.2,1.3M16.7,25.8l-1.6,0.8M24.7,19.8l-0.6,2.0M70.3,48.0l0.7,1.0M17.1,16.0l-1.5,0.1M55.7,41.3l1.4,0.7M15.3,27.9l-0.8,0.9M25.6,47.9l-1.5,0.3M10.1,20.8l-0.6,1.6M2.3,37.4l0.1,1.9M38.1,48.4l-1.2,1.6M74.1,37.6l-0.2,1.1M34.0,48.5l-2.0,0.3M36.5,46.9l0.5,1.9M5.2,31.9l1.7,0.9M11.6,37.9l1.0,1.2M60.6,34.4l1.9,0.1M76.5,39.1l0.8,1.9M58.7,14.3l1.1,1.7M28.9,19.5l0.2,1.1M53.3,53.7l-1.0,0.2M47.2,39.4l2.1,0.5M72.5,35.1l1.6,0.5M8.7,18.1l1.6,1.1M70.0,47.5l1.2,0.2M48.6,21.6l-1.8,0.1M26.1,31.3l1.4,1.1M42.4,6.5l-1.4,1.6M64.4,38.5l-1.5,1.0M45.6,45.9l-1.1,0.1M49.4,46.5l0.9,1.1M27.4,18.1l-1.4,0.7M58.2,42.0l-1.3,0.0M18.7,43.1l-1.6,1.0M15.3,22.8l-1.2,1.3M66.8,48.9l1.2,1.7M46.9,20.8l1.1,1.1M72.0,14.2l-0.6,1.1M17.1,15.7l0.9,1.1M22.8,54.3l-0.5,1.8M38.8,15.2l1.3,0.4M27.4,46.7l-1.1,0.2M46.7,47.7l1.6,1.3M27.6,19.8l1.6,1.2M32.7,52.6l1.2,0.8M12.5,14.4l-2.3,0.1M44.0,50.5l1.4,1.7M55.2,37.9l-1.1,1.4M23.4,51.0l-1.7,0.6M47.1,59.8l1.4,0.3M10.2,33.2l0.3,2.2M17.6,48.0l0.8,1.1M8.8,22.1l-0.1,2.0M34.1,46.4l0.7,1.3M18.2,39.9l-0.8,1.4M18.1,16.0l1.5,0.5M36.3,53.2l1.6,0.5" stroke="#2c5b15" stroke-width="1.2" stroke-linecap="round" fill="none"/>
<path d="M31.5,56.3l2.0,1.0M35.9,20.0l0.0,1.4M41.8,33.8l1.4,0.1M32.9,9.5l-0.7,1.6M36.9,50.4l1.0,0.6M38.7,38.4l-0.5,1.7M9.7,25.0l-1.5,1.7M62.7,39.5l-1.3,0.4M22.2,46.4l1.2,1.0M30.0,22.7l0.2,1.1M30.0,34.0l-0.4,1.4M37.0,44.3l0.3,1.5M80.2,25.2l-1.1,1.9M74.6,18.8l0.4,1.8M48.7,31.0l2.0,1.0M21.7,52.3l1.7,0.1M16.9,23.9l-0.0,1.7M23.4,53.2l1.7,0.2M42.1,7.2l1.6,0.4M32.9,16.8l2.0,0.1M11.3,17.3l1.6,0.6M10.5,16.4l-1.6,0.1M50.8,21.6l0.2,1.4M20.4,32.2l0.0,1.6M16.2,49.6l1.5,1.6M18.7,30.2l-0.1,1.2M8.2,30.6l1.1,1.7M76.9,26.8l1.3,0.5M62.9,23.7l1.0,1.5M58.9,38.9l-1.3,1.1M55.1,54.2l0.3,1.2M61.4,40.2l0.7,1.5M14.2,40.9l1.0,1.9M59.5,40.6l-0.3,1.4M61.8,27.2l0.2,1.7M32.4,36.4l-0.4,2.2M39.6,58.6l1.5,1.0M13.1,27.4l-1.8,0.5M78.9,19.8l2.1,0.3M30.8,3.6l0.1,1.0M29.8,42.0l1.4,0.2M58.0,58.5l0.5,1.7M39.2,49.0l-0.3,2.1M22.1,46.0l0.1,1.3M40.3,54.5l-0.5,1.5M23.7,55.9l-0.5,1.0M32.7,37.1l-1.8,1.3M22.8,22.5l-0.7,0.8M69.1,33.4l0.5,1.6M13.4,25.2l1.1,0.5M47.3,33.5l-2.1,0.1M65.9,13.9l0.7,1.4M24.7,23.7l-2.0,0.7M22.9,13.7l-1.7,0.3M17.3,43.6l1.5,0.2M8.6,45.1l-0.9,0.4M52.8,43.6l1.8,0.4M38.6,55.0l1.4,0.1M20.1,40.6l1.6,0.7M45.5,8.7l1.0,1.3M34.1,28.9l0.9,1.8M54.1,52.9l-0.8,1.0M56.4,48.2l1.3,0.6M70.6,32.4l1.4,0.7M18.4,35.1l-0.5,1.3M51.5,15.1l-0.9,1.9M77.4,30.5l-0.9,1.5M48.0,9.0l0.4,2.1M13.9,6.5l-0.1,1.2M54.0,20.1l1.8,0.1M26.6,10.4l0.4,1.9M46.2,31.1l-1.9,0.3M8.2,43.2l0.4,1.3M53.0,22.4l1.1,1.6M74.4,49.9l0.6,1.5M48.2,10.8l-0.3,1.2M57.7,12.7l1.6,1.6M45.7,39.4l1.4,0.4M47.2,57.1l0.4,1.8M34.4,37.8l-0.6,1.1M13.7,44.7l1.2,0.7M10.8,43.4l-2.0,1.0M80.9,17.4l-1.7,0.2M65.4,45.0l-0.8,1.4M52.6,34.9l1.7,0.4M71.9,17.9l-0.5,1.1M80.2,14.2l-1.5,0.1M12.6,24.8l1.5,0.7M10.9,30.9l1.2,0.6M68.3,46.4l-1.0,1.1M11.0,21.5l0.0,2.1M61.8,55.4l-0.2,2.2M23.5,35.5l-1.9,0.6M27.7,7.8l1.3,0.9M65.1,44.0l-2.2,0.2M57.3,9.0l-2.1,1.0M32.3,51.3l0.6,1.3M24.1,16.3l1.6,0.5M31.5,12.1l1.4,1.2M67.0,49.3l-1.0,0.6M28.2,45.9l1.6,0.4M35.6,24.2l-0.1,2.1M60.0,6.3l1.5,1.7M32.5,53.2l-1.2,1.2M61.3,36.1l-0.3,1.5M61.5,46.6l-1.6,0.2M60.6,33.5l-0.4,1.5M39.9,15.2l-0.8,1.6M34.0,55.1l1.8,1.2M40.5,5.9l-1.1,1.2M22.9,21.7l1.7,1.3M23.2,28.4l-0.5,1.7M17.1,43.2l1.0,1.9M53.0,53.1l-0.0,1.5M50.5,55.7l-1.9,0.7M44.6,38.3l0.4,0.9M18.8,45.6l-0.1,1.4M49.9,13.7l-0.8,1.8M21.3,56.2l-1.2,0.9M48.3,39.9l1.5,1.1M37.3,27.6l0.8,0.8M26.0,13.8l0.6,1.2M15.7,48.1l-0.4,1.0M12.3,40.9l-1.9,1.0M47.9,38.1l1.5,1.0M67.2,33.0l0.2,2.3M33.5,7.8l2.2,0.5M45.7,13.0l-1.3,0.9M47.6,43.3l-1.0,0.7M17.3,25.8l-1.2,1.0M13.7,29.5l-0.6,0.9M38.8,17.0l1.8,1.4M24.8,14.4l1.5,0.5M40.7,33.2l-1.9,0.6M77.2,33.0l-0.1,1.4M37.6,35.2l-1.0,0.5M16.4,36.5l0.6,1.2M33.7,8.4l1.2,0.0M19.3,23.4l-1.3,0.4M38.3,48.9l-1.0,2.0M44.5,55.7l-2.2,0.0M20.7,50.7l1.8,0.9M65.7,45.9l0.3,1.6M58.1,30.3l0.9,0.5M51.3,30.8l1.5,0.9M70.3,41.9l-0.6,1.1M10.1,28.3l-1.3,0.5M55.2,35.8l-1.9,1.1M68.2,34.3l1.1,0.9M29.2,11.8l1.0,0.6M39.7,37.0l1.5,1.6M66.8,32.4l1.3,0.9M58.4,30.0l2.1,0.4M38.2,40.4l-1.3,0.2M31.8,48.0l0.6,1.5M35.5,14.1l1.2,1.9M70.7,22.0l-0.5,1.3M15.8,37.6l-1.2,1.1M32.7,21.1l-1.2,0.9M55.4,32.3l-1.5,0.4M8.0,42.7l-1.3,0.9M74.8,13.6l-2.1,0.9M46.1,25.2l-1.8,0.5M29.6,50.5l-0.9,1.5M16.7,33.4l1.8,0.4M13.8,27.3l-1.2,1.7M28.3,52.0l1.3,1.8M62.2,18.6l2.2,0.4M65.4,21.7l2.1,0.0M67.8,20.4l-0.8,1.9M55.7,52.1l-2.1,0.5M14.5,28.3l0.2,1.0M18.4,38.2l-1.4,1.1M58.6,51.2l-1.2,1.3M53.2,18.6l-1.7,1.3M65.3,50.2l-0.1,1.8M43.6,7.2l1.4,0.3M55.7,34.0l0.9,1.7M59.8,49.8l-1.5,0.1M13.3,18.6l-2.1,0.0M52.8,27.2l0.8,0.7M37.8,29.9l-2.2,0.3M19.0,20.7l-1.2,0.2M66.4,13.3l-0.3,2.0M28.9,29.1l1.5,0.7M10.7,16.6l0.1,1.1M59.7,49.7l2.1,0.9M55.3,57.8l-1.0,1.0M75.5,38.4l1.0,1.1M7.4,32.3l-1.2,0.3M62.0,52.7l0.1,1.6M28.0,30.9l1.5,1.1M71.1,50.7l2.0,0.7M33.6,35.2l-1.0,0.5M50.6,55.0l-0.6,2.0M49.7,43.6l-0.6,1.9M78.1,30.5l1.4,1.8M30.1,18.1l0.5,1.2M36.5,11.9l1.1,0.2M17.0,19.2l0.6,1.5M28.1,5.2l-2.3,0.3M43.7,34.2l0.9,2.0M76.0,54.3l-1.0,1.3M50.7,29.1l2.1,0.4M45.1,53.0l-1.5,0.5M39.4,26.2l1.5,0.1M49.4,11.5l-0.2,2.2M5.6,22.2l-1.3,1.0M36.8,44.4l-0.1,1.1M42.4,33.2l-1.8,0.0M28.4,47.2l0.7,0.9M73.4,46.0l-0.8,0.9M45.5,32.3l-1.1,0.9M28.9,12.7l-1.0,0.4M46.5,12.2l1.1,1.9M39.1,29.1l-1.1,0.6M29.4,30.4l-2.1,0.4M39.6,60.9l-1.8,0.0M56.9,10.6l-0.7,1.9M48.6,41.1l-2.1,0.0M24.8,13.0l-0.6,1.5M25.6,57.6l0.7,1.3M70.3,43.0l0.6,1.0M50.9,40.3l2.0,0.2M51.5,8.6l0.1,1.8M24.0,36.5l-1.4,1.1M28.6,49.8l1.5,0.9M54.3,33.9l-2.1,0.6M58.7,42.8l-0.6,1.1M70.2,30.5l0.2,1.2M49.4,38.2l1.2,0.8M27.2,18.2l-0.7,0.9M57.2,53.0l0.6,1.9M39.2,18.9l1.9,1.0M50.6,54.5l-0.8,1.5M32.6,29.5l-0.1,1.6M26.9,41.8l0.1,1.4M6.5,39.6l1.4,0.7M36.1,13.0l0.9,1.9M55.8,22.3l-1.8,0.0M37.5,35.4l-1.2,0.3M80.9,21.9l1.5,1.7M33.6,53.2l1.1,1.1M10.2,40.5l0.6,1.8M10.4,33.8l-1.9,1.0M71.9,16.8l0.4,1.0M48.7,45.8l1.5,0.5M27.1,41.1l1.2,0.1M17.8,5.9l0.8,1.9M40.9,19.3l-2.1,0.5M54.0,29.5l1.8,0.8M76.2,31.3l0.7,1.3M17.4,14.2l-1.0,0.1M20.0,8.7l0.9,0.8M24.8,40.4l-1.5,0.8M51.3,17.2l-1.0,1.8M56.9,45.9l-0.8,1.8M55.7,6.9l-1.8,0.7M12.1,46.3l-1.2,0.1M42.7,49.7l0.7,1.9M25.5,52.4l-0.5,0.9M35.8,26.2l0.6,0.8M9.3,36.3l1.3,0.2M27.4,25.8l-0.9,1.0M19.6,32.6l-0.9,1.7M44.8,11.9l1.6,0.3M79.7,44.6l0.7,0.9M46.8,51.2l-0.3,1.3M66.0,42.5l0.7,1.9M23.1,10.4l-0.1,2.0M12.6,49.1l1.5,0.9M42.1,30.1l-0.5,2.0M16.9,22.5l0.9,1.0M14.7,20.7l-0.6,0.9M13.7,35.0l1.0,1.4M15.9,36.9l-2.0,1.0M67.4,45.7l-0.2,1.5M19.7,40.4l1.8,0.5M29.4,38.8l1.1,1.7M10.2,28.2l-1.7,1.3M46.0,5.2l-0.9,0.7M49.1,24.1l1.1,1.7M23.9,14.2l1.4,1.4M44.8,47.8l0.5,1.9M29.3,45.2l1.7,0.7M42.1,27.8l-1.3,0.0M35.9,25.9l1.0,0.7M63.2,21.2l0.9,0.7M54.1,42.6l-0.3,1.8M71.2,44.0l-0.8,1.3M46.0,42.0l-1.0,1.6M58.8,36.3l1.2,0.8M19.2,36.4l1.5,1.7M10.0,44.5l0.8,0.9M25.0,30.4l-1.1,0.2M24.2,20.1l-1.1,1.3M47.4,18.5l1.6,0.7M32.7,13.6l-0.4,0.9M62.5,51.1l1.2,0.2M15.4,33.3l1.1,1.9M75.7,26.3l0.1,2.2M63.3,11.5l1.8,0.3M38.5,53.3l1.2,1.7M39.3,49.7l1.6,0.7M52.1,41.5l-1.8,0.4M14.3,38.6l1.3,0.6M67.3,28.9l1.4,1.7M31.1,54.0l-1.1,0.8M1.3,34.3l0.2,2.0M64.1,40.4l0.9,0.9M28.7,49.3l1.1,0.8M34.5,3.9l-0.3,1.3M10.1,14.8l-0.6,1.6M38.3,26.8l0.5,1.7M77.6,39.5l1.4,1.0M59.2,20.3l0.4,1.4M6.6,29.8l2.0,1.0M48.7,39.0l-0.4,1.4M20.3,43.7l-0.6,0.8M22.1,51.0l1.1,0.5M42.8,53.2l-0.3,1.3M39.7,23.0l-1.9,0.5M7.5,24.0l-1.0,1.9M62.6,46.7l-0.0,2.1M2.8,34.9l0.9,0.6M42.0,16.3l-0.7,1.4M70.0,42.3l-1.9,0.9M63.6,34.6l1.8,1.1M81.5,12.8l0.5,1.6M65.2,24.8l-0.0,1.6M41.9,26.6l-1.4,0.9M15.1,49.7l1.7,1.4M54.0,41.6l0.7,0.9M65.8,49.0l1.1,1.0M26.6,34.5l-0.6,2.0M71.3,44.6l-0.1,1.4M62.5,36.8l1.2,0.2M36.6,49.6l1.3,0.4M17.5,50.7l0.1,1.3M71.9,34.5l1.3,0.4M18.2,36.2l0.9,1.0M44.2,32.9l-1.7,0.3M66.6,37.1l2.0,0.8M73.5,43.1l0.5,0.9M49.7,8.8l1.0,0.3M13.9,44.6l-1.2,0.8M32.6,51.1l1.9,0.3M31.3,17.8l1.3,1.6M43.4,50.1l-0.6,1.0M52.6,33.2l0.5,0.9M40.5,33.4l0.5,1.3M16.9,39.3l-1.8,0.8M81.3,27.8l-0.9,1.9M63.8,40.3l-1.1,0.8M22.0,42.3l1.6,1.5M45.6,55.1l-0.8,1.0M51.2,25.4l-0.8,0.7M7.3,19.5l0.8,1.1M15.7,41.6l1.1,0.6M46.4,56.8l1.0,2.1M35.9,24.7l-2.1,0.3M52.0,5.9l1.3,1.0M54.7,36.2l0.3,2.1M64.1,53.1l-1.3,0.7M11.4,36.8l-1.5,0.5M40.1,43.5l1.4,0.4M35.8,50.0l1.1,0.8M29.9,24.2l0.5,0.9M33.0,21.7l0.8,0.9M56.6,35.3l0.8,0.8M21.7,15.6l-1.5,0.1M77.6,16.5l-0.2,1.1M64.7,44.0l-1.2,1.4M33.6,46.4l1.0,0.5M43.0,39.5l-1.8,0.7M11.8,34.7l-0.9,1.4M52.9,60.2l-2.3,0.3M37.2,29.4l-1.3,0.5M72.3,40.8l-2.0,0.6M27.8,57.1l1.2,0.3M25.5,34.5l-0.1,1.4M10.4,43.3l0.4,1.3M38.9,42.4l-1.4,0.6M11.2,30.0l0.9,1.2M35.8,41.9l1.1,1.8M30.9,38.1l-1.3,1.9M75.5,38.2l-1.4,1.2M38.9,60.3l0.9,0.6M67.8,31.5l-0.3,1.2M56.0,6.7l-1.5,1.3M20.5,27.4l-0.3,2.0M70.1,23.8l-1.3,0.3M38.8,10.9l-0.2,1.6M55.6,11.1l-1.2,0.7M37.0,22.7l-1.5,1.2M15.3,5.8l-0.8,1.4M67.2,23.8l-0.5,1.1M13.7,24.9l1.5,1.6M21.0,13.5l2.1,0.1M73.8,25.4l1.6,1.3M18.0,19.9l0.2,1.5M55.2,53.7l1.2,0.1M70.2,40.5l-0.2,1.4M13.9,26.6l-1.5,1.6M15.2,36.4l-1.2,0.6M57.7,12.9l-1.3,0.6M11.0,19.2l0.6,1.7M12.9,36.5l-1.4,1.0M58.4,55.6l-1.1,0.1M22.9,35.8l-0.4,2.2M67.4,53.1l1.9,0.3M64.4,29.9l-1.2,1.3M49.5,22.3l-0.5,1.8M33.0,35.4l-1.2,0.1" stroke="#3d771e" stroke-width="1.2" stroke-linecap="round" fill="none"/>
<path d="M29.0,12.3l1.1,0.7M18.9,42.6l1.2,1.5M8.7,20.9l1.6,0.9M35.7,3.8l-0.6,0.8M49.9,18.5l-1.2,1.2M48.2,48.3l-1.3,0.3M7.5,36.0l1.2,1.1M41.6,21.3l-0.3,1.8M23.5,28.3l1.8,1.4M73.7,24.6l-1.1,0.5M27.5,51.8l0.7,2.0M55.1,55.3l-1.3,0.0M8.2,36.1l0.2,1.6M35.8,13.0l-1.4,0.2M14.2,18.2l0.6,1.9M58.3,35.6l-1.3,1.5M48.7,55.9l0.4,1.6M42.8,40.5l-0.9,0.7M38.1,26.2l1.2,1.7M68.3,48.3l1.4,1.0M52.1,43.7l0.0,1.5M61.2,53.9l-1.6,0.3M54.2,18.2l0.9,1.9M48.8,27.1l-0.1,1.5M75.9,27.8l1.0,0.7M27.4,12.6l-1.5,0.7M39.6,44.1l1.4,1.0M20.6,40.3l-0.4,1.9M48.1,60.3l-1.5,1.7M16.5,36.1l-1.4,0.2M52.3,52.5l1.0,0.3M47.5,16.4l-0.4,0.9M20.1,49.0l-0.8,0.7M58.8,36.5l1.6,0.3M12.9,37.1l1.5,0.9M30.0,40.5l-0.3,1.4M64.9,9.0l-1.4,1.6M52.4,28.5l1.2,0.2M53.4,39.6l0.2,1.6M72.8,20.1l0.1,1.5M35.4,34.3l0.2,1.4M47.7,14.9l0.8,1.3M29.0,50.7l-1.1,1.8M18.9,45.0l0.1,1.3M55.6,48.3l2.0,0.5M1.8,31.4l2.0,1.1M40.5,31.9l-1.8,1.0M67.5,49.3l1.1,0.6M18.2,37.6l-1.2,1.0M59.4,16.7l1.4,0.2M65.2,39.0l-0.2,1.7M13.8,43.0l1.5,1.4M57.4,52.2l-1.6,0.9M62.4,50.5l-2.2,0.2M29.8,55.5l0.6,0.8M37.8,48.6l-1.1,0.7M62.0,8.5l0.1,1.4M52.6,26.0l1.6,0.7M69.9,25.7l-2.1,0.9M34.8,49.1l0.2,1.1M74.4,34.7l1.4,1.6M50.7,37.8l1.2,0.2M19.4,37.4l-0.4,1.2M44.3,24.4l1.0,0.9M47.5,45.5l0.6,1.4M63.0,22.4l-0.1,1.5M37.3,37.0l1.3,0.7M52.9,15.3l-0.4,1.3M18.8,51.7l0.5,1.7M72.3,12.4l1.3,0.4M12.6,27.4l-0.5,1.9M17.6,46.6l1.4,0.9M45.4,17.4l0.1,1.7M65.2,38.4l1.5,1.3M72.0,34.7l0.9,0.6M35.3,50.8l-2.1,0.8M48.4,10.0l-0.6,1.6M81.2,14.8l-0.8,1.8M50.6,32.8l0.6,2.1M46.3,43.9l-1.7,0.5M10.2,20.6l-1.0,1.2M40.7,50.8l1.7,0.8M64.2,27.6l1.2,0.2M23.3,6.2l1.0,0.4M40.0,11.5l-0.0,1.9M11.2,28.2l1.2,0.7M58.1,25.2l-1.0,1.0M70.5,33.1l1.4,1.6M14.9,12.2l0.6,0.9M20.8,25.4l1.6,0.1M15.1,34.1l-2.2,0.6M22.7,58.5l-0.8,0.8M38.6,5.6l-1.2,0.4M54.1,9.7l-1.7,1.2M30.9,18.4l1.3,0.3M19.9,31.9l-1.1,1.7M5.7,28.2l0.7,1.5M28.1,26.4l-1.0,2.0M39.3,47.2l-0.5,0.9M13.1,33.2l0.8,1.3M61.3,53.3l-0.1,2.1M14.5,15.0l0.2,1.3M70.9,44.3l2.2,0.2M24.9,48.5l-0.4,1.9M25.7,23.5l1.9,0.6M36.1,3.9l0.0,1.7M54.0,9.6l1.8,0.4M59.6,43.9l-0.1,1.0M27.3,26.2l1.1,0.3M14.9,53.6l-2.2,0.2M63.5,53.0l-1.5,0.3M5.7,41.0l0.4,1.3M75.6,27.5l1.2,0.1M60.6,28.3l0.0,1.5M55.0,28.0l-0.8,0.9M73.6,35.0l0.7,1.0M39.0,40.2l-1.4,0.2M63.1,50.5l-1.8,0.9M24.8,10.5l-1.3,1.7M48.4,30.9l-1.7,0.3M46.0,18.3l0.7,0.8M57.5,17.6l-0.9,1.9M57.7,23.2l1.0,0.3M28.2,10.3l1.7,0.8M45.5,20.8l-0.5,1.2M23.7,46.2l1.2,0.9M24.5,8.0l1.7,0.0M25.3,28.1l-0.3,2.1M46.4,29.0l0.4,1.0M28.5,26.2l1.4,0.9M60.0,47.8l1.7,1.2M54.9,12.7l1.0,0.6M29.0,36.1l-0.1,1.7M74.8,37.2l2.0,0.4M26.4,8.1l-1.3,0.1M9.1,17.8l1.4,1.6M17.0,39.0l0.9,0.6M61.1,17.9l1.6,0.9M26.8,47.1l-0.9,0.8M39.3,31.5l-1.6,0.2M39.5,3.9l1.1,0.8M20.4,26.6l1.1,0.2M12.7,34.7l1.3,1.6M19.7,13.8l0.1,1.9M35.9,54.6l0.5,1.4M54.9,48.7l-0.2,2.1M4.4,44.1l1.1,0.5M16.9,48.4l-0.0,1.7M13.6,15.3l-0.7,1.2M15.5,31.0l-0.3,1.4M30.8,10.7l0.5,1.7M76.3,29.4l-1.1,1.2M60.2,14.1l-0.8,1.7M53.4,32.0l-0.2,1.8M41.2,45.8l1.1,1.5M29.0,30.5l-1.8,0.3M56.8,47.9l-1.1,0.0M18.6,18.8l1.4,0.4M37.6,27.9l0.6,1.9M34.0,53.4l-0.9,1.7M25.7,2.3l0.9,1.3M15.3,23.1l1.4,1.4M25.1,51.7l0.3,2.0M43.5,13.1l0.9,1.6M57.8,49.4l-0.4,1.1M60.6,31.2l1.2,0.5M11.1,20.6l1.1,0.8M36.2,30.6l0.6,2.1M46.8,35.0l1.9,1.0M75.7,22.0l0.1,1.9M83.1,34.5l-0.2,1.2M17.1,30.0l0.9,0.4M49.1,23.5l-1.1,0.3M79.3,15.0l-0.9,2.0M75.3,37.6l-0.3,1.8M35.0,47.4l1.1,0.6M69.3,16.5l-2.0,0.9M54.3,45.6l1.3,1.1M6.3,19.1l-1.0,1.7M60.0,44.7l2.0,1.0M28.6,8.4l0.4,1.6M52.9,57.0l-1.0,0.6M22.9,51.1l-0.9,1.2M45.0,49.5l-1.4,0.6M55.7,55.6l0.8,0.9M46.5,9.2l-1.3,0.3M48.3,42.3l0.1,1.2M28.8,11.7l1.5,0.6M77.8,20.5l1.8,0.1M53.0,46.6l-1.5,0.1M18.5,9.1l-1.4,0.1M47.1,33.4l-0.7,0.8M21.7,7.3l1.5,1.2M51.7,28.8l0.7,1.5M42.2,28.0l-0.3,2.2M30.2,15.8l-1.7,0.8M27.1,8.4l0.0,1.7M4.0,26.0l1.3,1.4M43.4,10.5l-1.7,0.3M38.6,59.8l-1.1,0.5M79.5,16.4l-2.0,0.3M64.3,24.6l1.2,1.3M5.1,39.5l1.0,0.8M44.4,58.1l-0.5,1.3M38.9,57.6l0.2,1.3M15.0,20.2l-1.3,0.1M42.9,25.3l0.4,1.4M66.2,47.8l0.1,1.4M52.9,22.8l-1.9,0.1M8.1,30.6l0.6,1.8M13.5,52.0l2.0,0.3M13.5,20.1l1.0,0.4M28.9,10.6l0.9,0.7M15.0,21.6l1.1,1.0M23.9,26.3l0.6,1.2M36.7,32.9l-1.6,0.3M37.6,45.9l-1.0,1.6M30.9,54.4l0.9,1.5M25.6,56.1l0.8,1.1M46.5,10.8l2.0,0.5M31.5,5.6l0.6,0.8M53.1,30.2l-0.3,2.1M24.8,30.4l-0.3,1.0M32.0,45.8l1.3,0.9M37.9,22.3l-0.2,1.4M37.9,35.2l1.0,0.1M24.1,30.6l1.0,0.0M37.6,22.3l1.9,0.4M45.3,33.8l0.7,1.0M49.6,51.7l-1.5,1.2M21.1,55.1l1.1,0.2M11.8,45.2l-1.6,1.4M8.9,19.3l-0.4,1.5M64.8,39.6l-0.9,0.9M27.0,17.6l1.5,0.2M77.8,49.5l-0.4,1.1M59.5,32.3l0.8,0.8M19.3,11.6l0.6,0.9M27.1,33.5l0.0,2.1M16.3,17.4l-0.5,1.4M12.9,49.8l0.7,0.9M18.5,51.0l-0.3,1.9M30.6,49.6l0.7,1.1M80.3,18.5l1.3,0.8M16.5,45.5l0.4,1.6M18.2,20.2l-1.1,1.2M16.6,40.3l0.2,1.1M19.5,6.8l0.3,1.4M31.5,49.0l0.9,1.9M29.4,37.1l1.7,0.7M47.4,15.6l-2.1,0.1M4.1,31.1l-2.1,0.3M52.2,31.6l-0.9,0.7M35.2,7.9l-0.8,1.8M40.1,47.0l0.9,0.6M55.2,19.0l1.0,1.0M10.4,43.8l2.1,0.8M75.9,44.3l0.3,2.0M38.9,23.5l1.6,0.1M13.1,39.3l-1.2,0.6M34.3,36.2l-0.7,1.6M69.2,28.0l-1.1,0.1M72.8,34.0l1.2,0.4M72.6,39.1l1.8,1.1M68.2,54.2l0.9,0.5M65.2,39.2l1.4,0.7M49.3,15.9l-1.1,0.0M19.9,45.9l0.8,1.2M46.0,33.7l-1.4,1.8M52.8,28.4l-1.3,0.0M35.0,27.8l-0.1,1.4M47.2,43.3l0.5,1.7M13.0,19.9l-0.3,1.0M82.6,21.1l-1.2,1.3M38.3,14.0l-1.2,0.1M39.2,36.1l0.4,2.2M45.2,54.0l-0.6,1.4M4.6,26.4l1.0,1.6M44.0,21.0l1.8,0.3M11.5,12.6l0.3,1.5M45.8,40.3l-1.4,1.2M70.2,19.6l0.4,1.9M10.2,33.1l-1.1,0.4M3.4,20.1l-0.2,2.0M56.0,44.9l1.1,0.8M57.9,32.2l-0.5,1.8M69.6,48.1l0.0,2.2M33.1,49.5l-0.9,1.4M8.1,34.6l1.0,2.0M43.4,18.9l-2.1,0.3M1.2,32.3l0.4,1.8M68.0,45.0l-2.0,0.9M74.4,33.9l0.7,2.1M69.5,46.4l0.8,0.8M22.5,19.2l1.4,0.4M26.5,48.6l1.7,0.1M69.9,47.9l0.2,1.4M54.4,53.7l1.2,1.5M64.1,14.1l-0.4,1.2M62.1,33.7l-0.8,2.0M71.0,47.9l0.9,1.7M30.8,19.6l-0.5,1.9M76.9,30.9l1.3,1.2M58.5,54.7l0.6,1.0M68.2,29.0l-1.3,0.7M38.3,37.7l-2.0,0.4M44.0,26.4l0.1,1.6M44.8,30.3l0.6,0.9M42.0,28.4l-1.1,0.7M34.6,9.6l-1.7,0.0M59.1,40.2l0.6,2.1M69.4,22.2l-0.5,1.3M39.0,56.6l-1.0,0.1M65.1,41.7l2.0,0.4M61.2,37.2l-1.2,0.3M56.8,47.8l-1.3,0.5M16.2,5.3l-0.1,1.3M29.1,12.4l0.0,2.1M45.9,32.2l-2.0,1.0M36.1,22.2l0.2,1.0M75.6,45.1l-1.0,0.7M43.0,22.1l-1.1,0.0M17.0,16.4l-1.2,0.3M81.1,18.4l1.1,1.3M54.5,22.8l1.6,1.4M6.8,28.6l1.6,0.6M74.8,49.5l0.4,1.2M67.7,43.3l0.3,2.2M35.3,32.6l1.2,0.4M57.2,32.8l2.0,0.2M39.1,5.6l-0.1,1.9M15.1,49.3l1.6,0.5M20.5,24.9l-0.8,1.6M20.8,5.2l2.2,0.0M54.3,50.8l-1.2,1.4M12.3,33.9l-1.9,0.9M45.2,8.7l0.7,1.0M19.7,20.4l-1.7,0.3M33.2,19.9l1.8,0.6M58.5,53.7l-1.0,0.2M55.3,26.1l1.6,1.6M20.6,44.5l-0.9,0.9M70.3,44.5l-1.5,0.3M27.2,45.1l-0.5,1.4M24.0,33.5l-1.0,1.6M77.9,46.9l-1.7,0.4M42.2,24.3l-1.0,1.0M36.6,29.0l1.2,0.1M45.7,30.8l1.0,1.6M14.6,31.3l1.5,0.8M13.5,43.5l-1.2,0.2M45.9,41.9l1.2,0.3M45.3,54.4l1.4,0.6M20.0,35.5l0.4,1.1M7.6,17.4l0.2,2.1M44.3,49.2l1.8,0.6M54.4,42.9l1.5,0.4M13.5,44.5l0.0,2.1M65.2,21.3l-1.8,0.1M29.2,17.8l0.2,2.2M66.0,37.8l1.0,0.5M6.8,25.4l-0.3,2.3M73.3,31.0l0.4,0.9M65.0,41.9l-0.6,1.9M41.5,49.7l1.9,0.8M62.6,28.9l-0.7,0.9M50.8,3.2l-1.4,1.4M60.1,18.6l1.0,1.9M48.6,57.7l-0.9,0.7M10.4,33.2l-0.9,0.9M11.6,12.6l-0.3,1.1M46.1,34.1l0.7,0.9M49.7,52.2l-1.2,0.2M47.3,25.4l-0.2,1.3M41.1,26.4l-1.3,1.3M31.6,8.1l1.8,1.4M73.3,48.8l1.8,0.4M28.1,21.5l1.8,1.1M78.5,30.6l-2.0,0.5M42.1,46.2l1.4,1.1M44.6,59.6l-1.2,0.4M21.0,34.5l1.0,1.2M15.2,28.8l-1.4,1.3M12.3,31.6l1.0,0.7M21.7,52.0l-1.0,1.8M25.9,52.8l1.4,0.7M26.3,35.7l-2.0,1.0M67.5,38.8l0.2,2.3M31.0,50.5l1.7,1.5M65.6,48.3l1.1,1.3M35.3,40.8l-1.6,1.5M8.1,24.2l-0.4,2.1M5.6,32.5l-1.0,1.5M73.8,16.6l-0.2,1.1M32.4,32.1l1.2,0.4M17.6,14.8l0.0,1.4M51.7,21.7l0.3,1.0M71.7,42.1l-1.6,0.4M40.9,36.1l-1.2,0.3M27.2,28.2l1.2,1.3M44.3,33.1l0.8,1.5M44.8,35.2l0.7,1.1M77.3,29.4l-0.7,1.5M16.6,48.6l1.0,0.7M57.5,40.2l-2.1,0.3M23.6,43.9l1.2,1.5M22.3,40.7l1.1,0.7M18.3,7.2l-0.2,1.8M32.0,28.6l1.4,1.0M20.1,32.5l1.7,0.2M25.3,44.4l-0.3,1.5M40.8,57.3l1.8,0.8M73.3,31.7l2.0,0.2M51.0,11.6l-1.0,0.1M19.1,24.7l-0.4,2.0M37.8,58.6l1.6,0.6M39.3,26.5l-1.7,1.3M26.3,48.0l2.0,0.1M12.6,28.7l-1.7,1.2M43.5,49.2l-2.2,0.1M51.8,26.8l-0.8,1.7M71.0,24.5l-0.5,2.0M35.3,19.8l-1.5,0.7M50.6,45.8l2.0,1.1M26.5,8.2l-1.8,0.6M13.1,20.8l1.3,1.2M68.0,43.0l-0.4,2.1M17.4,14.2l0.3,1.5M57.8,46.6l-0.4,1.1M12.0,35.1l1.8,1.4M46.1,54.9l1.0,1.4M53.3,44.0l-0.5,1.2M27.0,30.1l1.4,1.7M41.8,14.1l0.8,1.7M51.7,51.2l0.9,1.2M21.8,27.6l0.5,2.2M9.3,38.9l-0.2,1.0M55.1,41.4l-0.8,2.1M50.1,44.6l0.6,1.9M48.6,40.8l1.2,1.3M68.9,28.1l-1.0,0.4M29.9,39.8l1.4,1.7M51.7,16.7l-1.4,0.1M63.6,13.7l0.1,1.0M39.0,57.3l0.8,1.2M70.1,24.3l0.7,0.7M25.6,32.0l0.2,1.0M37.5,13.1l-1.7,1.2M24.4,30.7l1.3,1.9M74.8,21.2l-1.0,0.4M42.6,8.8l-1.0,0.5M11.9,39.0l-0.2,1.3M66.0,9.1l1.2,1.8M41.0,6.6l0.9,1.5M34.1,20.9l1.9,1.2M50.9,25.9l-0.6,1.5M31.1,8.2l1.2,1.0M34.9,1.1l-0.1,1.4M35.1,30.1l1.5,0.8M47.7,8.8l-0.4,1.4M53.2,16.8l-2.1,0.3M48.2,55.3l-0.7,1.8M33.1,47.1l2.2,0.6M60.9,30.1l1.5,0.9M5.6,30.4l1.9,0.1M53.0,49.7l-1.7,0.9M21.3,12.9l1.6,0.6M55.5,27.8l-1.9,1.0M60.5,22.6l-0.6,1.3M2.1,23.5l0.4,2.1M26.2,15.6l0.4,1.4M66.2,40.1l-2.0,0.4M21.1,38.4l0.6,1.7M48.2,6.1l-1.1,1.8M48.4,22.1l-1.5,1.2M21.2,10.8l-0.9,0.7M70.1,48.5l-0.9,1.4M71.2,29.3l-0.9,0.8M49.1,50.9l1.0,0.3M40.0,9.7l1.1,0.8M11.8,19.5l-2.1,0.9M11.9,40.4l-1.7,0.7M36.9,17.4l1.5,1.5M56.0,36.9l-1.1,0.5M14.8,12.3l-0.5,1.0M40.4,41.7l0.7,0.8M30.9,9.6l-0.6,1.8M11.6,9.8l1.6,1.6M48.0,50.1l-0.4,1.6M48.0,20.0l1.1,1.9" stroke="#53902a" stroke-width="1.2" stroke-linecap="round" fill="none"/>
<path d="M11.5,31.0l1.0,0.8M29.7,45.9l-1.0,0.3M26.2,19.6l-1.3,1.1M33.2,19.8l1.0,0.9M62.1,39.1l-1.2,0.5M55.3,35.6l0.4,1.3M62.5,39.9l-0.6,1.5M16.7,10.7l1.0,0.4M37.3,46.0l1.9,1.0M40.9,18.8l0.9,1.2M11.0,26.2l1.7,1.3M56.1,12.4l-2.1,0.9M18.7,55.2l-0.3,1.3M32.4,18.5l-0.6,1.3M47.2,39.6l0.7,1.4M34.2,15.8l-1.3,0.2M11.2,17.9l1.6,0.8M55.8,23.3l-0.6,2.1M55.6,53.1l0.2,1.0M36.0,16.8l-1.6,0.8M75.1,37.4l0.2,1.5M5.4,32.4l1.6,0.5M47.7,24.9l2.0,0.7M30.4,14.9l0.0,1.0M75.1,38.4l1.3,1.9M62.0,9.5l0.7,0.8M18.1,13.6l1.5,0.7M78.3,34.8l-1.1,1.3M52.3,39.6l-0.8,2.1M44.8,10.8l0.8,1.2M47.0,31.5l-0.2,2.2M63.4,48.5l0.8,1.1M17.7,15.2l-0.2,2.2M56.1,21.6l1.2,1.1M33.7,37.7l-0.4,1.0M34.2,13.9l0.2,1.6M17.5,5.8l2.0,0.5M67.3,11.4l-1.8,1.1M75.9,29.9l1.0,2.0M28.9,10.6l0.7,0.7M24.9,53.5l-0.7,1.7M45.8,47.3l0.8,0.7M17.9,12.8l-1.3,1.8M52.5,56.0l0.9,0.6M53.2,7.1l2.2,0.1M51.2,19.8l0.7,1.8M65.1,32.8l1.0,0.3M22.8,19.3l1.7,0.8M37.7,34.6l1.5,0.2M51.3,54.4l-1.3,1.3M40.1,46.1l0.4,1.6M47.2,20.8l0.6,0.8M39.8,19.1l1.5,0.9M64.8,25.6l-1.2,1.1M60.9,18.8l2.1,0.5M65.4,47.9l-0.9,1.4M36.1,48.5l-1.3,0.1M65.3,41.1l-1.3,1.2M80.1,17.2l0.4,1.8M8.8,26.9l-1.3,0.9M21.2,35.0l-1.2,1.9M64.3,8.6l0.6,1.4M46.8,39.1l1.8,0.5M55.6,26.1l-1.7,0.1M46.3,6.9l1.7,0.8M70.0,48.9l-1.6,0.1M37.9,37.5l-0.3,1.6M64.9,31.8l-0.3,1.8M16.6,35.4l0.9,1.1M47.3,43.2l0.1,1.2M41.0,12.8l-0.1,1.4M42.4,22.6l-0.8,0.9M65.7,45.7l0.5,1.4M14.1,47.6l-1.6,0.9M30.6,43.4l-1.6,0.8M57.4,19.7l0.7,1.2M69.9,36.9l1.5,0.4M29.7,34.7l1.5,0.4M46.2,7.7l1.1,1.6M48.3,9.4l-0.3,1.1M36.0,49.2l1.2,0.3M55.8,43.8l-0.9,1.0M27.2,4.6l-1.0,2.0M18.6,21.3l1.0,1.0M26.5,7.4l1.3,0.2M73.8,26.1l0.7,0.9M65.9,21.4l2.1,0.5M30.6,9.8l-0.2,1.4M57.6,36.8l1.3,0.0M16.2,48.5l0.7,2.0M31.7,33.7l-1.0,0.1M43.4,12.5l1.0,1.0M49.9,51.8l-0.9,1.8M33.3,22.8l-2.1,0.5M42.4,25.2l-0.6,1.3M37.9,33.2l-1.1,0.2M29.1,29.2l0.9,1.3M22.9,30.9l1.6,0.7M64.8,51.8l1.5,0.6M17.0,46.1l0.0,1.4M36.3,28.2l-1.3,0.1M27.5,47.2l1.4,0.9M59.8,25.5l-1.6,0.8M67.3,43.6l-0.2,1.4M28.6,18.0l-0.3,1.3M11.7,13.5l-0.7,1.8M61.0,17.1l-0.3,1.6M57.1,42.0l0.2,1.7M55.8,51.9l1.2,0.7M41.2,40.2l1.4,0.8M49.1,41.2l-1.9,0.3M14.2,16.7l-0.1,1.1M21.7,50.4l1.0,0.8M70.9,38.0l-2.1,0.2M21.1,23.5l-0.8,0.7M15.1,41.1l0.9,2.0M48.1,11.3l-1.5,0.4M41.8,24.0l-0.4,1.9M45.3,55.1l1.3,1.7M69.3,52.5l2.1,0.1M31.5,37.6l1.4,1.2M40.4,44.7l0.1,1.3M59.6,10.7l-1.8,0.2M69.4,23.3l0.3,1.9M54.5,15.9l1.2,0.4M30.6,27.6l-1.7,0.1M47.6,48.2l-1.1,1.1M46.5,15.0l0.8,1.9M52.8,7.5l0.5,0.9M46.3,11.0l1.9,0.7M51.3,26.0l-0.9,2.0M19.7,22.1l0.1,1.1M80.3,26.9l1.6,0.6M72.4,47.7l-0.9,1.6M46.3,15.1l0.9,1.8M15.3,13.9l-1.2,1.2M9.1,17.7l-1.2,0.6M32.4,31.8l1.1,1.6M45.3,7.6l-1.0,0.9M28.8,18.6l1.5,0.5M66.8,42.3l-1.6,1.2M70.8,41.9l-0.9,0.9M10.3,26.1l0.8,0.9M33.7,16.8l1.4,0.3M6.6,24.9l-1.2,1.9M36.4,50.7l1.0,1.2M21.7,15.3l-1.1,0.0M25.5,53.9l0.3,1.1M59.8,47.0l1.8,1.0M68.9,27.5l1.8,0.3M25.1,17.9l-0.4,1.0M15.1,18.6l-0.1,1.5M67.1,37.4l1.0,0.7M75.7,27.2l1.1,0.0M23.0,17.6l1.5,0.3M51.9,7.2l1.5,1.6M39.1,17.1l-0.4,1.5M70.7,36.0l0.4,1.8M44.8,53.2l0.8,0.9M36.6,20.8l-1.2,1.1M42.0,21.2l0.7,2.1M22.9,22.4l-1.3,1.0M49.0,34.1l2.0,0.8M17.4,43.9l1.9,0.8M74.7,9.5l-2.0,1.0M53.5,51.5l1.4,0.2M45.0,52.1l-2.0,0.1M13.2,16.7l-2.1,0.9M26.4,9.0l1.5,1.4M39.3,50.8l0.8,0.7M17.5,26.0l-1.2,0.7M35.7,45.0l-1.1,1.8M51.0,38.3l-1.3,1.2M49.1,40.3l1.5,0.5M35.0,35.5l0.9,1.6M46.3,24.9l1.3,0.9M28.9,29.9l0.1,1.1M14.0,38.2l1.6,0.1M44.6,7.6l1.0,1.9M46.0,56.8l-0.8,1.1M12.8,29.2l0.5,1.8M65.9,35.0l-0.1,1.4M67.3,10.8l-0.8,0.5M78.7,26.7l0.6,0.8M84.0,16.1l0.7,1.8M50.2,37.6l0.3,2.0M40.2,33.3l0.5,1.1M75.8,42.2l-1.0,0.1M43.0,21.9l-1.4,1.5M63.6,13.5l-1.0,0.4M73.6,23.5l1.1,1.8M11.1,36.3l2.1,0.9M29.4,17.5l-0.9,0.5M40.1,57.8l1.7,0.2M71.1,20.3l0.7,1.8M13.4,21.6l-0.3,1.3M80.1,21.4l-1.8,1.1M19.5,6.0l0.9,0.9M40.3,12.4l1.1,0.4M73.4,26.2l1.0,0.1M53.5,31.5l0.0,1.5M17.0,26.1l-1.0,2.0M37.1,44.6l-0.3,1.0M39.0,14.9l-1.5,0.2M57.4,18.6l1.0,0.4M53.5,12.5l1.0,1.9M69.4,47.1l-1.3,1.7M69.6,42.5l-1.4,0.8M44.5,19.3l0.1,1.8M78.7,22.7l0.8,1.1M71.6,35.1l0.7,2.0M55.3,53.2l0.8,0.6M10.9,28.8l2.0,1.0M34.1,39.6l-0.8,0.9M31.2,31.0l2.0,0.0M54.4,22.6l0.6,1.5M58.2,7.9l0.6,1.9M48.4,54.9l-0.2,1.6M19.3,18.8l-0.6,2.2M37.6,17.0l-0.3,1.8M45.2,36.1l-1.0,0.3M67.9,29.2l-0.4,1.6M18.2,38.3l-1.9,0.3M61.0,20.7l-0.5,1.6M27.6,31.1l-0.9,1.7M43.4,45.1l-0.8,1.5M68.4,37.4l1.7,0.2M48.5,43.5l0.4,1.4M67.4,25.5l-0.5,1.8M36.0,44.7l-0.0,1.0M34.7,36.7l0.4,1.2M52.8,53.3l1.6,1.6M30.3,53.0l-1.0,1.6M72.4,34.0l-1.5,0.8M33.7,23.1l-0.2,2.2M51.5,56.5l0.5,1.9M79.5,32.6l0.0,1.9M40.6,52.1l2.1,0.3M28.1,29.6l2.2,0.3M19.8,21.1l-1.2,0.3M62.7,15.3l0.3,1.7M55.3,34.8l0.5,2.0M59.0,17.5l0.8,1.1M22.5,11.0l1.5,0.2M26.3,20.1l0.2,1.6M18.9,34.9l1.4,0.4M26.8,27.7l0.7,1.3M79.1,32.8l1.0,0.0M29.2,35.9l0.4,1.3M58.6,15.3l1.0,1.3M59.9,57.9l1.6,0.9M75.1,26.1l-0.3,1.2M17.6,8.0l-1.8,0.8M28.0,21.9l-1.0,0.3M78.5,29.1l1.5,0.3M63.5,41.7l1.0,0.7M66.5,33.0l0.6,1.4M27.6,9.9l1.1,1.5M60.5,50.9l1.5,1.2M26.0,4.5l-0.7,1.4M22.0,27.2l-0.1,1.5M59.2,54.7l-0.9,1.2M69.1,48.3l1.2,1.4M13.8,50.4l-0.3,1.3M34.1,29.3l0.0,2.2M28.3,44.2l-1.6,0.6M66.7,52.9l-1.0,0.1M65.7,27.1l0.3,2.3M73.2,20.5l0.9,0.6M44.3,51.1l-1.8,0.5M33.2,17.5l1.7,0.6M43.3,29.4l-0.8,0.8M41.4,11.3l-1.9,0.4M45.8,41.0l0.2,1.9M12.6,43.0l-1.6,0.8M54.7,11.6l0.6,1.7M63.2,44.0l-1.3,0.1M28.7,50.2l1.1,1.6M54.5,12.7l1.7,1.0M85.1,16.6l0.4,1.4M25.2,15.2l-0.9,0.8M53.9,51.5l0.5,0.9M19.3,17.1l-0.6,1.0M57.2,22.0l1.6,0.1M39.3,28.9l-1.4,0.9M20.9,30.4l-0.2,1.7M28.8,54.7l-1.0,0.2M60.0,47.0l1.0,1.3M56.0,19.8l-0.6,1.1M15.8,48.9l1.0,0.4M17.3,26.3l-1.6,1.3M65.7,36.0l1.1,0.9M46.4,6.7l-0.1,1.2M41.4,33.8l-1.6,0.4M42.0,59.1l-0.6,1.0M45.3,26.0l0.4,1.2M26.9,12.7l1.4,0.3M40.8,6.0l-0.7,2.2M28.9,7.9l0.8,1.9M62.2,12.3l1.1,0.6M50.9,19.5l-0.6,0.9M26.9,10.5l1.4,1.2M58.6,18.0l0.3,1.9M75.7,18.2l0.0,1.0M85.4,17.1l0.1,1.8M22.2,33.8l-1.7,0.4M34.6,5.3l-0.1,2.1M71.0,51.0l-1.1,0.4M60.2,22.0l-0.7,1.4M74.8,31.4l-0.7,2.2M37.1,44.4l0.5,0.9M40.0,12.0l1.9,0.6M72.3,23.7l-1.2,1.8M21.2,42.1l1.2,1.7M56.3,42.4l-1.7,0.7M9.9,13.8l-0.3,1.6M74.9,37.6l0.8,1.7M66.1,27.5l-1.5,0.1M55.7,25.1l1.5,0.9M38.3,22.7l-1.5,0.9M23.1,9.7l-1.0,2.0M56.9,48.7l-0.6,1.0M25.1,25.3l-0.4,1.5M30.6,53.7l0.0,1.5M32.8,9.8l-1.0,0.5M25.0,37.6l-0.6,1.0M24.6,16.8l0.1,1.5M56.2,54.8l1.0,1.3M64.9,29.2l1.2,1.4M74.6,28.9l-0.6,1.6M68.2,25.1l0.6,0.9M44.4,35.1l-1.1,0.6M36.5,54.9l1.6,1.5M39.4,21.0l1.0,0.2M47.1,55.4l1.6,0.6M57.2,44.7l-1.0,1.8M39.3,7.9l1.3,0.9M52.8,23.1l0.5,2.1M77.2,24.0l1.4,1.3M30.0,4.7l1.0,1.3M66.7,44.2l-1.5,0.2M58.6,8.9l-0.9,0.7M34.8,28.7l2.0,0.3M54.4,36.5l-1.5,0.8M38.4,26.8l-0.2,1.6M48.4,42.4l-1.3,0.4M56.5,32.1l1.0,0.7M34.9,11.1l-0.4,1.2M70.1,19.3l-0.2,1.4M44.0,7.8l0.7,1.1M18.2,28.2l-1.2,0.7M54.9,48.9l-0.5,1.3M76.7,42.9l1.2,0.3M15.4,45.6l-1.6,0.4M59.0,25.1l0.2,1.1M36.4,40.2l1.2,1.1M72.5,35.0l0.0,1.4M11.3,37.4l0.9,0.5M54.8,52.4l-1.2,0.9M78.0,24.8l0.1,1.3M22.0,16.7l1.9,0.8M75.1,25.3l1.3,1.6M66.8,47.6l-0.7,1.3M53.6,39.0l-1.1,1.9M56.6,22.6l-0.5,1.4M43.5,14.5l-1.5,1.1M53.1,22.8l-1.3,1.3M69.3,42.3l-2.1,0.3M14.3,47.4l-0.6,0.9M53.2,32.1l1.2,0.2M65.5,57.6l-0.2,1.0M6.7,14.5l0.6,1.8M60.8,20.6l0.3,1.1M71.3,36.1l1.1,0.7M63.1,40.9l-0.8,1.8M20.4,48.9l1.6,0.2M67.8,26.7l0.2,2.1M52.7,34.2l0.6,1.5M67.2,51.6l0.5,1.2M29.6,25.1l1.1,0.9M45.0,24.6l-1.5,0.2M9.2,30.8l-1.2,0.7M25.2,16.6l-1.3,0.2M51.6,12.7l0.6,1.0M43.1,13.3l-0.7,1.6M44.8,37.0l0.4,1.7M54.7,53.8l1.2,0.4M48.7,7.0l-0.4,1.2M50.4,35.5l-2.0,0.7M71.4,19.8l-2.2,0.1M39.1,55.9l-1.2,0.5M75.4,27.7l-1.2,0.1M13.2,25.4l0.3,1.0M52.2,27.9l-1.3,0.9M35.7,45.2l1.4,1.5M22.6,39.1l-2.1,0.9M52.9,31.2l-1.9,0.3M63.2,13.7l-1.1,1.4M54.9,42.1l-0.6,1.0M45.1,28.1l-1.8,0.1M68.2,22.4l0.9,1.7M59.0,24.2l0.9,0.7M59.4,17.9l1.2,1.7M63.9,44.2l-0.6,1.5M65.6,21.5l-2.2,0.6M29.9,24.8l0.6,1.3M52.4,23.2l1.7,0.5M34.6,13.9l-0.6,1.3M23.0,55.1l-0.4,2.2M68.3,38.9l1.5,1.2M51.0,31.8l0.3,2.2M48.6,3.2l-1.3,0.2M28.1,33.3l-0.8,1.2M46.8,17.9l0.6,1.1M73.5,31.9l1.2,0.3M65.0,32.4l-1.3,1.3M41.1,36.3l1.3,0.1" stroke="#6ca838" stroke-width="1.2" stroke-linecap="round" fill="none"/>
<path d="M26.9,16.2l-1.8,1.0M17.6,50.6l-1.3,1.0M78.4,39.4l-1.2,1.3M6.7,25.4l-2.0,1.0M27.9,29.8l1.0,1.3M45.3,30.9l0.9,0.7M34.2,58.6l-0.7,2.2M42.2,29.0l1.1,0.2M26.9,15.0l-1.4,1.1M50.5,50.5l-0.4,1.6M65.3,39.3l-0.1,1.1M69.2,20.8l-0.9,0.9M72.3,27.3l0.1,1.2M43.3,22.3l0.1,1.4M67.7,32.7l-1.0,1.4M36.5,22.9l1.3,0.7M24.3,33.4l0.2,1.7M72.9,35.7l-1.6,0.9M15.0,37.7l1.1,1.9M54.3,4.4l0.3,1.2M40.1,18.1l1.8,0.5M86.1,16.4l-0.9,0.7M64.7,40.2l-1.6,1.3M49.3,3.2l0.5,1.4M80.2,18.0l-0.1,1.0M45.8,48.9l-0.6,1.7M65.2,50.8l1.1,0.1M32.4,10.2l1.2,1.0M60.5,35.1l-2.0,0.3M43.1,22.1l-1.4,0.9M69.0,12.3l-2.0,0.4M74.7,12.5l-0.9,0.5M29.8,26.1l1.3,1.0M68.5,27.1l1.7,0.7M43.0,11.1l-1.6,0.3M40.2,7.0l-0.8,1.9M8.9,19.6l0.7,1.3M44.8,45.4l1.1,0.3M42.1,13.4l-0.0,1.7M56.0,23.8l1.9,0.7M57.1,38.2l0.3,2.2M83.7,31.8l-1.3,1.3M75.3,44.7l0.3,1.8M44.9,13.9l0.7,1.6M84.4,29.6l-1.3,1.1M41.8,9.3l-1.2,0.9M75.9,22.9l0.2,1.7M75.1,52.4l1.4,0.1M29.0,47.0l-0.3,1.5M56.1,36.2l1.4,1.2M78.0,27.7l0.4,1.0M32.7,24.4l1.1,0.6M66.7,31.5l1.7,0.4M37.5,49.8l-0.2,1.8M41.3,19.8l-0.6,1.0M35.5,41.7l-1.9,1.0M46.7,47.0l-1.0,1.4M19.9,32.4l-1.5,0.6M81.4,41.9l-0.9,1.8M34.4,19.6l2.3,0.3M46.7,17.1l-0.7,1.3M9.8,21.8l-1.1,1.5M78.4,39.7l-1.0,1.1M56.4,45.4l-0.0,1.9M80.1,28.2l1.1,0.5M68.8,31.5l-0.6,1.5M30.4,36.9l-2.3,0.0M25.2,15.2l0.3,1.4M63.3,18.4l1.8,0.2M29.3,5.6l-0.2,1.3M22.8,21.7l0.9,0.9M73.4,25.9l-0.9,1.7M45.3,41.7l-1.6,1.1M7.1,34.7l-0.6,0.9M54.8,17.1l1.5,1.0M65.0,24.5l1.6,1.6M60.5,42.6l1.5,0.8M29.9,56.2l-0.1,2.2M77.0,19.0l-0.4,2.0M81.0,23.8l1.0,0.2M49.0,45.2l0.9,0.7M43.0,16.2l-1.0,1.1M80.5,12.6l-1.1,0.9M51.8,23.7l-1.3,0.4M71.1,17.5l-1.7,0.1M12.4,31.3l-1.8,0.2M45.6,9.9l0.3,2.2M60.1,44.4l-2.0,0.4M70.5,36.6l1.3,0.1M78.3,49.7l-0.6,1.2M63.6,31.4l-1.1,1.2M58.9,37.7l1.3,1.6M27.2,12.4l2.1,0.6M56.9,37.5l1.5,0.5M29.4,17.6l-0.1,1.1M38.6,24.8l0.1,1.2M67.0,22.2l1.4,1.5M73.5,16.9l1.8,1.3M23.5,49.3l0.4,0.9M71.2,17.0l1.3,0.4M36.9,8.5l-1.0,0.8M71.5,35.0l2.2,0.3M61.1,53.4l1.9,0.8M42.8,3.8l-0.7,1.6M28.7,8.8l1.6,1.1M9.3,46.9l2.2,0.1M26.3,56.9l1.2,0.2M38.4,12.9l-0.9,0.6M59.9,48.1l1.6,0.3M17.5,24.5l-1.6,0.6M69.1,36.5l0.4,2.0M57.1,7.4l0.5,2.0M76.1,23.4l-0.1,2.1M64.8,35.4l-2.1,0.6M46.3,52.3l0.2,2.1M74.0,37.8l1.1,0.7M43.5,45.0l-0.6,1.5M21.2,26.7l2.1,0.5M31.1,57.4l0.8,1.9M26.4,28.1l-1.2,0.8M25.4,39.1l1.5,1.5M50.6,16.0l-1.7,0.7M74.8,25.3l1.9,0.5M16.9,15.4l2.0,0.9M27.7,19.4l-1.1,0.0M37.7,4.4l0.3,2.0M63.9,29.8l-1.6,0.7M35.7,28.8l-1.1,0.1M5.7,40.5l-1.4,0.9M59.6,49.2l-0.5,2.2M83.2,36.5l-1.7,0.5M65.8,17.2l-1.2,0.5M69.7,11.2l1.0,1.9M28.6,22.8l0.3,1.1M34.2,7.3l0.2,1.4M53.0,31.8l0.9,0.8M68.2,53.9l0.3,2.1M62.8,13.5l1.6,0.9M60.8,49.8l0.2,1.7M51.5,28.7l-0.4,1.1M22.8,4.0l0.1,1.3M33.8,16.9l-1.3,1.8M35.5,24.0l-0.9,0.7M69.1,46.0l-0.7,1.2M39.2,47.9l-1.3,1.6M80.4,14.7l2.0,0.2M71.8,10.4l1.7,0.6M30.7,28.1l0.5,1.8M54.9,26.1l-1.4,0.2M52.5,28.4l-1.0,1.1M20.1,20.7l1.9,0.2M39.3,7.0l1.1,0.1M36.8,14.5l1.1,1.6M61.8,38.4l-2.3,0.0M37.4,35.8l-0.6,1.9M70.2,22.9l-1.0,0.2M41.4,24.8l1.3,1.0M65.1,42.3l1.9,0.2M49.1,18.4l0.4,1.3M35.8,27.9l-0.2,1.2M59.2,24.3l1.4,0.6M48.5,22.2l-1.1,1.1M43.7,44.5l1.8,0.6M53.9,6.2l0.2,1.5M70.5,27.2l1.8,0.3M45.3,13.6l0.9,0.9M45.1,23.3l1.7,0.4M65.8,33.9l1.3,1.8M63.4,33.7l0.5,1.4M46.3,10.0l0.1,2.3M22.4,36.9l0.4,1.2M58.1,20.6l1.0,0.2M49.2,50.4l1.0,1.4M69.2,34.4l0.0,1.7M52.5,22.3l-0.8,1.0M15.4,9.2l1.0,0.2M64.8,23.8l-0.8,1.1M65.0,21.5l0.6,0.9M63.9,40.5l0.9,1.6M55.4,15.1l2.2,0.3M48.2,21.2l-0.2,1.4M12.6,20.7l0.6,1.4M38.6,37.2l-1.9,1.0M41.3,29.5l-1.3,0.6M21.9,11.8l-1.1,1.6M32.3,18.2l1.8,0.7M78.6,20.0l-0.3,1.4M61.4,31.3l0.2,2.3M42.3,39.4l-0.6,1.0M53.4,20.1l-1.1,1.2M53.1,11.9l-1.7,1.1M7.6,45.7l1.0,0.5M52.7,30.3l-1.4,0.4M65.8,38.6l-0.9,0.9M65.7,11.6l0.9,1.3M27.5,23.8l-0.3,1.9M40.7,18.5l-0.6,2.0M14.5,15.1l1.1,0.1M73.2,24.0l0.2,1.0M58.2,28.9l1.5,0.5M48.9,45.1l-1.5,0.2M39.6,17.2l0.6,0.8M31.2,16.2l1.8,0.3M41.0,43.2l0.9,2.1M50.0,4.9l-2.1,0.5M10.6,28.0l1.6,1.1M12.1,38.9l0.3,1.2M76.7,34.3l-1.9,1.0M32.9,16.2l-1.1,0.8M44.5,41.3l0.8,1.2M58.5,9.1l-1.8,1.1M68.8,10.1l1.9,0.9M47.2,15.7l1.6,1.1M37.2,38.4l-1.0,0.4M64.8,51.8l1.3,1.7M28.1,14.9l-1.8,0.3M70.7,30.9l-1.2,0.7M71.6,18.3l-0.4,1.2M38.1,17.8l-2.0,0.9M64.9,39.8l1.4,1.3M46.0,56.2l2.0,0.9M22.5,8.8l1.1,1.0M47.9,54.4l0.9,0.8M71.2,13.3l1.6,1.1M53.2,27.4l-1.3,1.2M35.1,11.3l-1.3,1.1M69.0,41.3l0.7,0.7M27.2,51.1l2.1,0.3M63.6,9.0l1.1,1.7M62.3,19.9l-0.5,1.2M54.1,41.0l-1.8,0.1M83.9,21.8l1.6,0.3M70.6,32.7l1.4,1.3M68.7,23.5l-1.5,1.1M23.1,21.3l-0.2,1.1M7.0,32.0l0.3,1.1M48.5,31.6l-1.9,0.6M51.9,16.7l-1.4,1.3M40.7,16.3l-1.8,0.3M64.3,21.4l-1.2,0.3M32.1,19.9l-2.2,0.1M53.5,52.6l-1.6,1.2M50.4,56.8l1.0,0.8M52.3,29.1l1.0,0.3M57.0,27.4l-1.3,1.9M23.9,16.9l0.1,1.9M31.5,53.8l-0.1,1.0M34.9,11.6l0.1,1.2M35.4,6.5l1.3,0.7M68.8,53.3l-2.1,0.7M37.2,19.6l1.8,0.8M81.6,23.3l0.8,0.7M79.7,14.8l-0.2,1.4M78.9,33.9l-2.2,0.5M28.4,9.6l-0.0,1.5M17.2,11.4l0.5,1.9M55.4,41.1l-0.6,1.3M30.5,33.1l-0.3,1.5M32.5,33.6l0.6,1.5M67.6,51.8l-1.7,0.3M53.9,28.7l1.3,1.6M57.7,32.9l1.3,0.6M48.8,27.4l1.1,1.3M55.1,54.1l1.7,1.3M71.5,35.8l0.1,2.3M69.7,51.1l0.4,1.9M20.0,39.7l1.4,0.9" stroke="#88bf4c" stroke-width="1.2" stroke-linecap="round" fill="none"/>
<path d="M40.4,14.7l-1.2,0.5M28.0,7.7l-0.4,2.0M15.5,40.2l1.7,0.0M26.7,14.8l1.1,1.4M61.4,43.4l0.9,1.3M45.3,21.1l0.3,1.0M26.4,26.4l-0.3,1.6M71.1,16.0l-0.6,1.2M52.2,50.9l1.8,1.3M44.5,16.3l-0.7,2.1M15.4,52.1l0.4,1.5M61.5,43.8l0.5,1.6M54.4,56.9l-0.3,1.5M30.0,53.8l0.1,1.2M53.7,15.7l1.6,0.2M57.3,18.2l-0.4,1.1M66.1,26.4l-1.0,1.6M49.6,35.8l-0.0,1.3M14.9,13.8l1.0,1.6M64.6,58.0l1.2,0.0M78.1,33.6l-0.7,1.1M44.2,5.6l-0.5,1.0M29.0,16.1l1.5,0.4M74.5,19.9l-0.1,1.2M59.4,12.1l1.4,1.4M70.2,24.4l-0.5,0.9M35.5,32.5l0.6,1.6M52.2,37.5l1.0,2.1M71.4,40.7l-0.5,2.2M46.9,29.6l-0.7,1.9M47.2,12.9l1.3,1.8M64.0,49.8l1.3,0.5M64.1,29.7l-1.9,0.1M25.2,15.7l0.6,1.4M37.5,49.4l1.7,0.2M45.5,11.8l-0.6,1.2M24.1,12.3l-1.7,0.2M70.7,30.5l1.8,0.9M32.9,26.8l-0.4,2.2M50.2,38.5l-0.1,1.6M68.0,37.7l1.6,0.6M43.7,21.8l-0.9,0.5M62.5,17.4l1.2,0.7M45.9,47.2l0.8,1.8M79.8,20.3l0.1,1.9M53.8,35.8l1.4,0.1M73.5,11.2l0.3,1.3M75.9,16.7l-0.1,2.2M33.4,23.4l1.6,1.5M73.7,45.4l1.1,0.2M72.8,10.0l-0.3,2.0M69.9,35.1l1.1,0.7M45.9,26.8l-0.1,1.7M61.5,9.3l1.2,1.0M13.3,18.6l1.1,1.7M57.9,34.8l1.2,0.5M63.7,27.4l1.3,0.5M27.4,17.8l1.0,0.5M9.0,45.4l0.9,2.0M77.5,19.3l-1.1,0.7M74.5,33.5l-1.1,0.4M68.8,12.8l-0.9,0.8M79.7,27.3l-1.6,1.6M67.4,11.4l-0.4,1.4M13.0,15.2l1.5,1.3M18.4,8.2l-0.5,1.2M78.4,13.3l-1.2,1.9M67.1,13.2l-0.2,1.6M69.1,55.7l-1.8,1.0M63.4,28.2l-0.4,1.6M53.2,39.5l-0.4,1.0M59.4,7.4l0.7,1.8M48.9,17.7l2.0,0.4M37.3,17.6l0.7,1.0M68.5,49.4l-1.4,1.0M73.7,42.2l-0.8,1.9M44.9,17.0l0.9,0.6M33.8,19.2l-1.0,0.2M63.1,41.1l0.5,1.6M57.2,29.3l1.3,0.1M31.6,48.8l-0.1,1.3M15.0,20.4l-0.2,1.6M57.7,16.1l-1.0,1.0M63.4,44.2l1.9,0.7M58.5,28.6l-0.9,0.7M54.7,37.8l-1.9,0.6M71.4,25.6l-0.2,1.4M12.1,24.9l1.1,1.5M62.5,33.7l1.1,0.1M30.5,14.2l0.9,1.5M55.6,35.3l-1.6,1.3M78.6,17.0l0.9,0.5M61.8,29.0l0.7,1.1M46.1,40.1l0.0,1.8M70.3,17.7l-1.5,1.4M26.6,16.2l-0.8,0.7M59.1,13.1l0.5,1.7M53.0,13.1l0.2,1.7M25.4,4.6l0.7,1.0M22.8,5.3l-1.3,1.1M21.1,32.6l-0.7,1.1M63.4,14.8l1.3,0.1M13.1,19.9l-0.8,0.6M83.1,19.2l1.3,0.6M55.8,27.6l1.9,0.1M36.5,10.0l1.8,0.7M58.7,55.2l-0.1,1.9M73.4,18.8l-1.8,0.8M29.2,14.6l0.6,1.1M68.7,22.3l-0.5,1.0M13.9,22.3l-1.8,1.2M74.6,19.5l1.2,1.8M3.9,42.4l-1.1,0.1M66.3,36.7l-2.0,1.0M54.4,24.2l1.0,1.2M74.7,13.6l1.7,0.9M53.8,54.9l0.4,1.8M24.6,18.0l0.3,2.2M52.1,41.8l0.9,0.5M28.2,47.8l-1.7,0.6M8.8,31.1l-1.1,1.5M70.8,25.2l-1.0,0.1M77.4,28.6l-2.0,0.3M27.4,7.6l1.1,0.9M64.9,10.3l1.6,1.6M47.1,11.1l-0.1,1.1M31.3,56.9l-0.2,2.1M81.1,37.8l0.3,1.0M71.4,49.7l2.0,1.0M63.7,18.8l0.8,1.5" stroke="#a5d266" stroke-width="1.2" stroke-linecap="round" fill="none"/>
<path d="M29.5,11.2l0.6,0.9M62.2,25.0l-0.5,1.4M64.0,39.4l1.8,0.1M70.4,16.4l0.5,1.3M54.2,25.3l-1.7,0.0M40.3,16.7l1.5,0.6M41.3,23.3l-2.0,0.6M44.6,11.9l1.4,0.3M73.4,27.6l1.7,0.2M30.9,6.8l-2.0,0.2M63.0,21.8l-1.9,1.0M63.6,16.5l0.8,1.6M78.8,20.6l0.9,2.0M14.1,38.9l1.7,0.7M42.4,32.7l0.5,1.9M70.5,47.7l1.8,0.6M24.7,16.0l0.8,2.1M50.9,23.3l2.0,0.2M30.0,43.5l-0.7,2.1M53.9,25.7l-0.9,1.2M39.7,3.5l0.2,1.7M52.3,25.8l1.9,1.3M26.5,23.3l-1.3,1.0M78.8,24.4l-1.5,0.7M15.6,18.4l-0.9,1.1M20.5,11.1l1.0,1.5M39.4,34.4l-0.5,2.2M68.0,26.6l0.3,2.2M64.8,20.8l0.1,1.5M33.1,13.1l-1.8,0.5M53.8,21.2l1.1,1.0M60.9,32.9l-0.3,1.9M76.1,23.3l0.5,1.4M62.4,34.7l-1.8,0.9M75.3,25.6l-0.2,2.0M64.5,23.7l1.5,1.1M49.6,27.5l-0.3,2.3M61.9,36.5l-1.5,0.3M72.8,17.0l-1.5,0.8M49.2,32.3l0.7,1.2M8.9,34.7l0.7,1.8M44.7,32.1l1.4,0.4M61.0,7.2l-0.0,2.1M48.9,8.2l1.3,0.9M39.9,24.3l-1.4,0.4M40.2,15.6l0.5,2.0M58.0,18.2l0.6,2.1M46.1,50.3l-0.9,0.8M42.1,51.5l-1.3,0.2M62.9,29.2l-2.2,0.3M61.0,44.1l0.7,1.1M38.0,12.5l-0.2,1.0" stroke="#c2e28a" stroke-width="1.2" stroke-linecap="round" fill="none"/>
<path d="M65.2,22.2l2.0,0.5M80.8,24.4l-1.2,0.9M79.1,17.6l-0.5,2.1M63.5,34.1l-1.3,1.2M66.0,41.8l0.0,2.3M42.0,11.3l-0.0,1.4M74.0,15.0l-0.3,1.1M21.2,22.8l0.7,0.7M80.0,42.0l1.6,0.8M72.8,40.7l-0.1,1.9M59.4,10.2l-0.9,1.4M78.7,20.9l0.9,1.7M40.8,20.5l1.4,0.2M75.4,15.9l-1.7,0.3M77.2,34.5l-2.3,0.2M23.0,23.1l0.1,1.8M70.4,37.8l1.3,1.2" stroke="#d9eeb2" stroke-width="1.2" stroke-linecap="round" fill="none"/>
<path d="M26.3,5.5L22.9,0.2M4.2,28.1L-3.8,25.5M74.2,50.9L79.9,53.6M80.7,28.1L87.4,26.4M81.2,26.2L87.7,24.6M77.4,43.6L82.7,44.6M77.1,13.6L80.9,10.0M9.3,46.4L3.7,48.6M78.2,14.3L83.0,10.5M12.9,13.4L8.3,10.3M9.3,46.4L3.0,47.9M13.3,50.7L8.7,52.5M9.4,46.5L4.6,48.6M80.8,16.1L86.7,12.9M4.0,28.6L-0.9,27.6M82.1,22.4L87.9,20.4M73.3,11.2L77.7,7.1M43.3,5.9L43.7,-0.7M10.2,16.7L5.5,13.5M9.4,17.7L4.5,14.6M80.5,28.7L87.4,26.2M80.1,15.7L83.8,13.1M17.4,9.0L12.2,3.3M20.8,6.2L17.1,0.6M8.9,18.3L3.6,14.7M14.6,11.3L9.8,5.9M5.1,26.2L0.5,24.3M17.7,8.8L12.9,3.8M57.5,9.4L60.8,4.0M58.5,9.7L62.3,4.6M81.0,27.0L86.0,24.5M82.7,19.9L89.3,16.0M81.8,23.6L89.0,21.0M8.3,19.2L2.8,16.6M81.5,24.8L87.4,22.5M74.8,49.5L79.9,51.5M74.1,11.5L77.6,7.2M64.6,10.5L69.8,5.2M9.5,46.6L5.6,47.9M78.3,14.4L81.4,11.7M7.6,20.7L1.7,17.5M47.4,6.5L48.8,1.1M8.0,44.2L2.7,45.3M55.4,8.8L58.0,3.0M18.8,7.9L13.8,2.9" stroke="#5d8a45" stroke-width="0.55" fill="none"/>
<path d="M15.7,9.1L11.9,3.3M7.0,45.1L-1.5,44.0M6.1,43.8L-2.4,42.4M80.4,37.1L87.9,34.5M3.5,34.3L-1.7,32.2M18.9,6.5L16.2,1.6M34.4,3.8L33.2,-2.2M70.4,10.5L73.7,5.6M14.4,10.2L10.7,5.1M82.5,16.5L86.9,12.6M16.8,8.2L12.6,1.4M81.3,31.6L87.3,28.7M49.1,5.8L50.4,-2.7M52.9,7.0L54.6,-0.2M17.3,7.8L13.5,1.5M6.0,43.5L0.7,42.5M62.2,9.6L64.5,4.9M9.5,49.0L1.4,49.0M50.3,6.2L51.2,0.5M81.6,29.5L88.8,25.7M77.4,12.8L82.8,6.7M74.4,10.9L78.1,6.2M34.8,3.8L33.4,-3.5M53.9,7.3L55.4,1.7M82.7,25.3L88.2,21.7M77.9,45.6L83.5,45.0M4.1,25.9L-2.7,21.6" stroke="#4f7a38" stroke-width="0.6" fill="none"/>
<path d="M13.5,4.6l0.1,-0.2M12.7,4.3l-0.5,0.8M13.6,5.3l0.6,0.7M1.3,43.8l0.4,0.5M-0.6,44.2l-0.7,-0.5M-0.9,44.7l-0.6,-0.2M1.9,43.4l0.6,0.8M-2.2,41.7l-0.5,0.6M-1.4,42.6l0.4,0.6M88.3,33.8l0.7,-0.5M87.1,34.6l-0.3,0.6M87.2,34.3l-0.3,0.8M-1.3,33.3l0.4,0.7M0.6,33.1l0.3,0.2M0.5,32.6l-0.1,0.1M16.5,3.4l-0.6,-0.4M16.0,2.2l0.3,-0.0M16.4,3.0l-0.7,0.3M34.0,-0.6l-1.0,-0.2M34.0,0.4l0.4,-0.5M33.3,-2.0l-0.1,0.2M72.5,7.6l-1.0,-0.5M74.0,5.5l-1.0,-0.1M73.4,6.4l0.6,0.3M12.4,7.0l0.3,0.5M11.3,5.6l0.3,0.7M10.6,6.2l0.7,-0.3M86.0,13.5l0.5,-0.2M86.3,13.3l0.7,-0.5M86.4,13.3l-0.9,-0.3M13.3,2.9l-0.6,0.1M14.7,3.6l0.2,0.3M12.7,1.2l0.2,-0.2M86.1,29.4l0.9,-0.5M86.5,28.7l-0.1,0.3M86.8,28.7l-0.8,0.3M50.3,0.6l-0.1,-0.2M49.8,-2.0l0.8,-0.7M49.2,0.3l0.4,0.4M54.3,1.0l0.2,0.4M53.6,1.5l-1.0,-0.1M54.1,3.4l0.1,-0.0M14.8,5.4l0.6,-0.1M14.8,3.3l-0.8,-0.6M13.5,2.3l-0.2,0.5M2.5,43.5l0.5,-0.4M2.5,43.5l0.7,-0.8M1.0,42.2l0.2,0.4M64.4,7.4l-1.0,-0.5M63.5,5.6l-0.8,-0.2M64.2,5.1l0.2,0.3M3.8,48.4l0.5,0.0M2.2,49.4l0.5,-0.3M6.0,49.7l-1.0,0.0M50.5,1.1l-0.3,0.0M50.7,1.0l0.6,0.7M51.8,1.0l-0.3,-0.6M86.3,27.5l-0.1,-0.5M85.8,27.2l0.3,0.3M87.1,26.6l0.8,0.0M80.0,9.5l-0.4,0.4M81.0,8.6l0.9,-0.3M81.4,7.5l0.8,-0.1M76.4,8.3l-0.3,0.7M78.2,6.4l0.4,-0.7M77.5,7.9l-0.9,0.1M34.1,-1.2l0.6,0.6M33.4,-0.7l0.2,0.6M33.1,-1.9l-0.3,-0.2M55.0,3.3l0.5,-0.1M55.4,3.1l0.8,-0.2M55.4,3.1l0.9,0.2M85.9,23.0l-1.0,0.5M86.2,24.0l-1.0,0.4M86.3,22.9l-0.9,0.7M80.9,44.4l0.7,-0.7M81.9,45.8l0.1,-0.2M81.4,45.4l-0.7,-0.0M-2.7,20.9l0.7,0.1M-0.3,23.0l-0.9,-0.0M0.3,23.5l-1.0,-0.7" stroke="#78a653" stroke-width="1.1" stroke-linecap="round" fill="none"/>
</g>
<g transform="translate(326.3,471.3) scale(1.0)">
<rect x="6" y="-5.8" width="19" height="11.6" fill="url(#gCoupH)"/>
<polygon points="24,-9.2 39,-4.4 39,4.4 24,9.2" fill="url(#gCoupH)"/>
<rect x="-0.5" y="-14.8" width="8" height="29.6" rx="3" fill="#141414"/>
<rect x="4.2" y="-12.5" width="1.6" height="25" rx="0.8" fill="#5a5a5a" opacity="0.7"/>
</g>
<g transform="translate(438.3,472.5) scale(1.0)">
<g transform="translate(-15,0) rotate(180)"><polygon points="0.00,-5.60 7.50,-5.60 7.50,-7.20 15.50,-5.40 15.50,-7.20 28.50,-5.20 28.50,5.20 15.50,7.20 15.50,5.40 7.50,7.20 7.50,5.60 0.00,5.60" fill="url(#gCoupH)"/><line x1="0" y1="-1" x2="28.5" y2="-1" stroke="#9a9a9a" stroke-width="1.3" stroke-dasharray="5 2" opacity="0.55"/></g>
<g transform="translate(15,0) rotate(0)"><polygon points="0.00,-5.60 7.50,-5.60 7.50,-7.20 15.50,-5.40 15.50,-7.20 28.50,-5.20 28.50,5.20 15.50,7.20 15.50,5.40 7.50,7.20 7.50,5.60 0.00,5.60" fill="url(#gCoupH)"/><line x1="0" y1="-1" x2="28.5" y2="-1" stroke="#9a9a9a" stroke-width="1.3" stroke-dasharray="5 2" opacity="0.55"/></g>
<g transform="translate(0,8) rotate(90)"><polygon points="0.00,-7.70 9.00,-7.70 9.00,-4.60 17.00,-4.60 17.00,-5.20 24.00,-7.00 24.00,-5.00 30.50,-6.40 30.50,-4.50 30.50,4.50 30.50,6.40 24.00,5.00 24.00,7.00 17.00,5.20 17.00,4.60 9.00,4.60 9.00,7.70 0.00,7.70" fill="url(#gCoupV)"/><line x1="0" y1="-1" x2="30.5" y2="-1" stroke="#9a9a9a" stroke-width="1.3" stroke-dasharray="5 2" opacity="0.55"/></g>
<rect x="-15" y="-8" width="30" height="16" rx="1.5" fill="url(#gCoupH)"/>
<line x1="-14" y1="-5" x2="14" y2="-5" stroke="#777" stroke-width="0.9" opacity="0.6"/>
</g>
<g transform="translate(564,472) scale(1.0)">
<g transform="translate(-15,0) rotate(180)"><polygon points="0.00,-5.60 7.50,-5.60 7.50,-7.20 15.50,-5.40 15.50,-7.20 28.50,-5.20 28.50,5.20 15.50,7.20 15.50,5.40 7.50,7.20 7.50,5.60 0.00,5.60" fill="url(#gCoupH)"/><line x1="0" y1="-1" x2="28.5" y2="-1" stroke="#9a9a9a" stroke-width="1.3" stroke-dasharray="5 2" opacity="0.55"/></g>
<g transform="translate(15,0) rotate(0)"><polygon points="0.00,-5.60 7.50,-5.60 7.50,-7.20 15.50,-5.40 15.50,-7.20 28.50,-5.20 28.50,5.20 15.50,7.20 15.50,5.40 7.50,7.20 7.50,5.60 0.00,5.60" fill="url(#gCoupH)"/><line x1="0" y1="-1" x2="28.5" y2="-1" stroke="#9a9a9a" stroke-width="1.3" stroke-dasharray="5 2" opacity="0.55"/></g>
<g transform="translate(0,8) rotate(90)"><polygon points="0.00,-7.70 9.00,-7.70 9.00,-4.60 17.00,-4.60 17.00,-5.20 24.00,-7.00 24.00,-5.00 30.50,-6.40 30.50,-4.50 30.50,4.50 30.50,6.40 24.00,5.00 24.00,7.00 17.00,5.20 17.00,4.60 9.00,4.60 9.00,7.70 0.00,7.70" fill="url(#gCoupV)"/><line x1="0" y1="-1" x2="30.5" y2="-1" stroke="#9a9a9a" stroke-width="1.3" stroke-dasharray="5 2" opacity="0.55"/></g>
<rect x="-15" y="-8" width="30" height="16" rx="1.5" fill="url(#gCoupH)"/>
<line x1="-14" y1="-5" x2="14" y2="-5" stroke="#777" stroke-width="0.9" opacity="0.6"/>
</g>
<g transform="translate(165,463)">
<polygon points="-3.6,0 3.6,0 6.2,14 3.3,14 3.3,27 -3.3,27 -3.3,14 -6.2,14" fill="#141414"/>
<polygon points="-21.5,28.2 -6,26.5 6,26.5 21.5,28.2 21.5,32.5 -21.5,32.5" fill="#121212"/>
<rect x="-16" y="32.5" width="32" height="6" fill="#1e1e1e"/>
<rect x="-16.5" y="38" width="33" height="23.8" rx="1" fill="url(#gRed)"/>
<rect x="-16.5" y="38" width="33" height="2.5" fill="#8c1417" opacity="0.6"/>
<rect x="-16.5" y="58.5" width="33" height="3.3" fill="#951518" opacity="0.55"/>
<line x1="-13" y1="41" x2="-13" y2="58" stroke="#a81a1d" stroke-width="0.7" opacity="0.5"/>
<line x1="-10" y1="41" x2="-10" y2="58" stroke="#a81a1d" stroke-width="0.7" opacity="0.5"/>
<line x1="-7" y1="41" x2="-7" y2="58" stroke="#a81a1d" stroke-width="0.7" opacity="0.5"/>
<line x1="-4" y1="41" x2="-4" y2="58" stroke="#a81a1d" stroke-width="0.7" opacity="0.5"/>
<line x1="-1" y1="41" x2="-1" y2="58" stroke="#a81a1d" stroke-width="0.7" opacity="0.5"/>
<line x1="2" y1="41" x2="2" y2="58" stroke="#a81a1d" stroke-width="0.7" opacity="0.5"/>
<line x1="5" y1="41" x2="5" y2="58" stroke="#a81a1d" stroke-width="0.7" opacity="0.5"/>
<line x1="8" y1="41" x2="8" y2="58" stroke="#a81a1d" stroke-width="0.7" opacity="0.5"/>
<line x1="11" y1="41" x2="11" y2="58" stroke="#a81a1d" stroke-width="0.7" opacity="0.5"/>
</g>
<g transform="translate(276,482.5)">
<polygon points="-3.6,0 3.6,0 6.2,14 3.3,14 3.3,27 -3.3,27 -3.3,14 -6.2,14" fill="#141414"/>
<polygon points="-21.5,28.2 -6,26.5 6,26.5 21.5,28.2 21.5,32.5 -21.5,32.5" fill="#121212"/>
<rect x="-16" y="32.5" width="32" height="6" fill="#1e1e1e"/>
<rect x="-16.5" y="38" width="33" height="23.8" rx="1" fill="url(#gRed)"/>
<rect x="-16.5" y="38" width="33" height="2.5" fill="#8c1417" opacity="0.6"/>
<rect x="-16.5" y="58.5" width="33" height="3.3" fill="#951518" opacity="0.55"/>
<line x1="-13" y1="41" x2="-13" y2="58" stroke="#a81a1d" stroke-width="0.7" opacity="0.5"/>
<line x1="-10" y1="41" x2="-10" y2="58" stroke="#a81a1d" stroke-width="0.7" opacity="0.5"/>
<line x1="-7" y1="41" x2="-7" y2="58" stroke="#a81a1d" stroke-width="0.7" opacity="0.5"/>
<line x1="-4" y1="41" x2="-4" y2="58" stroke="#a81a1d" stroke-width="0.7" opacity="0.5"/>
<line x1="-1" y1="41" x2="-1" y2="58" stroke="#a81a1d" stroke-width="0.7" opacity="0.5"/>
<line x1="2" y1="41" x2="2" y2="58" stroke="#a81a1d" stroke-width="0.7" opacity="0.5"/>
<line x1="5" y1="41" x2="5" y2="58" stroke="#a81a1d" stroke-width="0.7" opacity="0.5"/>
<line x1="8" y1="41" x2="8" y2="58" stroke="#a81a1d" stroke-width="0.7" opacity="0.5"/>
<line x1="11" y1="41" x2="11" y2="58" stroke="#a81a1d" stroke-width="0.7" opacity="0.5"/>
</g>
<g transform="translate(396.5,287)">
<polygon points="-3.6,0 3.6,0 6.2,14 3.3,14 3.3,27 -3.3,27 -3.3,14 -6.2,14" fill="#141414"/>
<polygon points="-21.5,28.2 -6,26.5 6,26.5 21.5,28.2 21.5,32.5 -21.5,32.5" fill="#121212"/>
<rect x="-16" y="32.5" width="32" height="6" fill="#1e1e1e"/>
<rect x="-16.5" y="38" width="33" height="23.8" rx="1" fill="url(#gRed)"/>
<rect x="-16.5" y="38" width="33" height="2.5" fill="#8c1417" opacity="0.6"/>
<rect x="-16.5" y="58.5" width="33" height="3.3" fill="#951518" opacity="0.55"/>
<line x1="-13" y1="41" x2="-13" y2="58" stroke="#a81a1d" stroke-width="0.7" opacity="0.5"/>
<line x1="-10" y1="41" x2="-10" y2="58" stroke="#a81a1d" stroke-width="0.7" opacity="0.5"/>
<line x1="-7" y1="41" x2="-7" y2="58" stroke="#a81a1d" stroke-width="0.7" opacity="0.5"/>
<line x1="-4" y1="41" x2="-4" y2="58" stroke="#a81a1d" stroke-width="0.7" opacity="0.5"/>
<line x1="-1" y1="41" x2="-1" y2="58" stroke="#a81a1d" stroke-width="0.7" opacity="0.5"/>
<line x1="2" y1="41" x2="2" y2="58" stroke="#a81a1d" stroke-width="0.7" opacity="0.5"/>
<line x1="5" y1="41" x2="5" y2="58" stroke="#a81a1d" stroke-width="0.7" opacity="0.5"/>
<line x1="8" y1="41" x2="8" y2="58" stroke="#a81a1d" stroke-width="0.7" opacity="0.5"/>
<line x1="11" y1="41" x2="11" y2="58" stroke="#a81a1d" stroke-width="0.7" opacity="0.5"/>
</g>
<path d="M369.5,550.6 L369.5,543.1 Q369.5,540.6 372.0,540.6 L379.0,540.6 Q381.5,540.6 381.5,543.1 L381.5,550.6 L380.4,552.6 L379.7,580.6 L378.5,610.6 L377.1,630.6 L375.9,644.6 L375.1,644.6 L373.9,630.6 L372.5,610.6 L371.3,580.6 L370.6,552.6 Z" fill="#171717"/>
<rect x="369.5" y="550.1" width="12" height="1.3" fill="#444"/>
<rect x="357.7" y="559.5" width="17.80000000000001" height="2.2" fill="#1a1a1a"/>
<rect x="375.5" y="556.0" width="12.5" height="3" rx="0.8" fill="#1a1a1a"/>
<rect x="362.1" y="552.0" width="2.4" height="17" rx="1.2" fill="#1a1a1a"/>
<path d="M496.3,550.6 L496.3,543.1 Q496.3,540.6 498.8,540.6 L505.8,540.6 Q508.3,540.6 508.3,543.1 L508.3,550.6 L507.2,552.6 L506.5,580.6 L505.3,610.6 L503.90000000000003,630.6 L502.7,644.6 L501.90000000000003,644.6 L500.7,630.6 L499.3,610.6 L498.1,580.6 L497.40000000000003,552.6 Z" fill="#171717"/>
<rect x="496.3" y="550.1" width="12" height="1.3" fill="#444"/>
<rect x="485" y="556" width="17.30000000000001" height="2.2" fill="#1a1a1a"/>
<rect x="502.3" y="552.5" width="11.699999999999989" height="3" rx="0.8" fill="#1a1a1a"/>
<rect x="488.8" y="548.5" width="2.4" height="17" rx="1.2" fill="#1a1a1a"/>
</svg>
</body></html>
